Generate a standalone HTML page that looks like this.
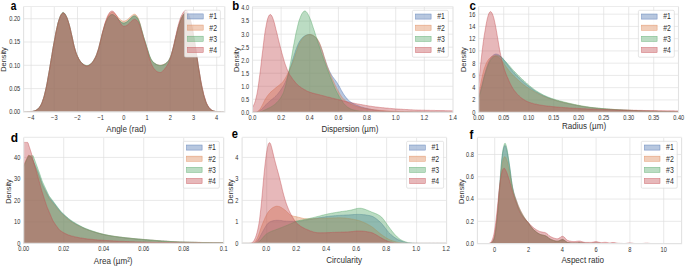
<!DOCTYPE html>
<html lang="en"><head><meta charset="utf-8"><title>Density plots</title>
<style>
html,body{margin:0;padding:0;background:#fff;}
body{width:685px;height:266px;overflow:hidden;}
svg{display:block;}
text{font-family:"Liberation Sans","DejaVu Sans",sans-serif;fill:#303030;}
.tk{font-size:6.3px;}
.lb{font-size:7.9px;}
.yl{font-size:6.6px;}
.lg{font-size:7.7px;}
.pl{font-size:11.5px;font-weight:bold;fill:#000;}
</style></head><body>
<svg width="685" height="266" viewBox="0 0 685 266">
<rect width="685" height="266" fill="#fff"/>
<clipPath id="c0"><rect x="23.60" y="6.50" width="201.20" height="105.40"/></clipPath>
<path d="M31.10 6.50V111.90M54.30 6.50V111.90M77.50 6.50V111.90M100.70 6.50V111.90M123.90 6.50V111.90M147.10 6.50V111.90M170.30 6.50V111.90M193.50 6.50V111.90M216.70 6.50V111.90M23.60 88.60H224.80M23.60 65.30H224.80M23.60 42.00H224.80M23.60 18.70H224.80" stroke="#dfdfdf" stroke-width="0.7" fill="none"/>
<g clip-path="url(#c0)">
<path d="M24.1 111.9L24.1 111.9L24.9 111.9L25.7 111.9L26.5 111.9L27.2 111.8L28.0 111.8L28.8 111.8L29.5 111.7L30.3 111.7L31.1 111.6L31.8 111.5L32.6 111.4L33.4 111.2L34.2 111.0L34.9 110.8L35.7 110.4L36.5 110.0L37.2 109.5L38.0 108.9L38.8 108.1L39.5 107.2L40.3 106.1L41.1 104.7L41.9 103.0L42.6 101.0L43.4 98.7L44.2 96.1L44.9 93.2L45.7 89.9L46.5 86.2L47.3 82.2L48.0 78.0L48.8 73.6L49.6 69.1L50.3 64.5L51.1 59.9L51.9 55.3L52.6 50.7L53.4 46.2L54.2 41.9L55.0 37.7L55.7 33.6L56.5 29.8L57.3 26.3L58.0 23.2L58.8 20.5L59.6 18.3L60.3 16.4L61.1 14.8L61.9 13.7L62.7 13.0L63.4 12.9L64.2 13.3L65.0 14.2L65.7 15.4L66.5 16.9L67.3 18.7L68.0 20.9L68.8 23.4L69.6 26.3L70.4 29.4L71.1 32.7L71.9 36.1L72.7 39.7L73.4 43.2L74.2 46.6L75.0 49.5L75.8 52.1L76.5 54.2L77.3 56.0L78.1 57.6L78.8 59.1L79.6 60.4L80.4 61.5L81.1 62.5L81.9 63.3L82.7 64.0L83.5 64.6L84.2 65.1L85.0 65.5L85.8 65.8L86.5 65.9L87.3 65.9L88.1 65.8L88.8 65.4L89.6 65.0L90.4 64.4L91.2 63.8L91.9 63.0L92.7 62.0L93.5 60.9L94.2 59.6L95.0 58.2L95.8 56.6L96.6 54.7L97.3 52.7L98.1 50.3L98.9 47.6L99.6 44.7L100.4 41.6L101.2 38.5L101.9 35.4L102.7 32.4L103.5 29.5L104.3 26.9L105.0 24.6L105.8 22.5L106.6 20.7L107.3 19.1L108.1 17.7L108.9 16.6L109.6 15.8L110.4 15.1L111.2 14.8L112.0 14.6L112.7 14.6L113.5 14.9L114.3 15.4L115.0 16.0L115.8 16.7L116.6 17.5L117.4 18.3L118.1 19.2L118.9 20.1L119.7 20.9L120.4 21.6L121.2 22.3L122.0 22.8L122.7 23.2L123.5 23.3L124.3 23.3L125.1 23.0L125.8 22.6L126.6 22.2L127.4 21.6L128.1 21.0L128.9 20.3L129.7 19.5L130.4 18.7L131.2 17.9L132.0 17.2L132.8 16.6L133.5 16.1L134.3 15.9L135.1 16.0L135.8 16.4L136.6 17.1L137.4 18.1L138.2 19.4L138.9 21.1L139.7 23.3L140.5 25.8L141.2 28.6L142.0 31.5L142.8 34.3L143.5 36.9L144.3 39.5L145.1 42.0L145.9 44.5L146.6 47.0L147.4 49.5L148.2 52.0L148.9 54.4L149.7 56.6L150.5 58.4L151.2 59.8L152.0 61.0L152.8 61.9L153.6 62.7L154.3 63.3L155.1 63.8L155.9 64.2L156.6 64.6L157.4 64.9L158.2 65.1L159.0 65.3L159.7 65.4L160.5 65.4L161.3 65.3L162.0 65.2L162.8 65.0L163.6 64.7L164.3 64.3L165.1 63.9L165.9 63.4L166.7 62.8L167.4 62.0L168.2 61.1L169.0 60.0L169.7 58.7L170.5 56.9L171.3 54.8L172.0 52.3L172.8 49.5L173.6 46.5L174.4 43.4L175.1 40.1L175.9 36.9L176.7 33.7L177.4 30.7L178.2 27.7L179.0 25.0L179.8 22.6L180.5 20.5L181.3 18.7L182.1 17.1L182.8 15.7L183.6 14.5L184.4 13.6L185.1 13.0L185.9 12.8L186.7 13.0L187.5 13.8L188.2 15.0L189.0 16.6L189.8 18.6L190.5 21.0L191.3 24.1L192.1 27.7L192.8 31.7L193.6 36.0L194.4 40.6L195.2 45.5L195.9 50.6L196.7 55.7L197.5 60.8L198.2 65.8L199.0 70.7L199.8 75.5L200.5 80.0L201.3 84.3L202.1 88.3L202.9 91.7L203.6 94.9L204.4 97.6L205.2 100.1L205.9 102.3L206.7 104.1L207.5 105.6L208.3 106.8L209.0 107.9L209.8 108.7L210.6 109.4L211.3 110.0L212.1 110.4L212.9 110.8L213.6 111.0L214.4 111.2L215.2 111.4L216.0 111.5L216.7 111.6L217.5 111.7L218.3 111.7L219.0 111.8L219.8 111.8L220.6 111.8L221.3 111.9L222.1 111.9L222.9 111.9L223.7 111.9L223.7 111.9Z" fill="#4C72B0" fill-opacity="0.40" stroke="none"/>
<path d="M24.1 111.9L24.9 111.9L25.7 111.9L26.5 111.9L27.2 111.8L28.0 111.8L28.8 111.8L29.5 111.7L30.3 111.7L31.1 111.6L31.8 111.5L32.6 111.4L33.4 111.2L34.2 111.0L34.9 110.8L35.7 110.4L36.5 110.0L37.2 109.5L38.0 108.9L38.8 108.1L39.5 107.2L40.3 106.1L41.1 104.7L41.9 103.0L42.6 101.0L43.4 98.7L44.2 96.1L44.9 93.2L45.7 89.9L46.5 86.2L47.3 82.2L48.0 78.0L48.8 73.6L49.6 69.1L50.3 64.5L51.1 59.9L51.9 55.3L52.6 50.7L53.4 46.2L54.2 41.9L55.0 37.7L55.7 33.6L56.5 29.8L57.3 26.3L58.0 23.2L58.8 20.5L59.6 18.3L60.3 16.4L61.1 14.8L61.9 13.7L62.7 13.0L63.4 12.9L64.2 13.3L65.0 14.2L65.7 15.4L66.5 16.9L67.3 18.7L68.0 20.9L68.8 23.4L69.6 26.3L70.4 29.4L71.1 32.7L71.9 36.1L72.7 39.7L73.4 43.2L74.2 46.6L75.0 49.5L75.8 52.1L76.5 54.2L77.3 56.0L78.1 57.6L78.8 59.1L79.6 60.4L80.4 61.5L81.1 62.5L81.9 63.3L82.7 64.0L83.5 64.6L84.2 65.1L85.0 65.5L85.8 65.8L86.5 65.9L87.3 65.9L88.1 65.8L88.8 65.4L89.6 65.0L90.4 64.4L91.2 63.8L91.9 63.0L92.7 62.0L93.5 60.9L94.2 59.6L95.0 58.2L95.8 56.6L96.6 54.7L97.3 52.7L98.1 50.3L98.9 47.6L99.6 44.7L100.4 41.6L101.2 38.5L101.9 35.4L102.7 32.4L103.5 29.5L104.3 26.9L105.0 24.6L105.8 22.5L106.6 20.7L107.3 19.1L108.1 17.7L108.9 16.6L109.6 15.8L110.4 15.1L111.2 14.8L112.0 14.6L112.7 14.6L113.5 14.9L114.3 15.4L115.0 16.0L115.8 16.7L116.6 17.5L117.4 18.3L118.1 19.2L118.9 20.1L119.7 20.9L120.4 21.6L121.2 22.3L122.0 22.8L122.7 23.2L123.5 23.3L124.3 23.3L125.1 23.0L125.8 22.6L126.6 22.2L127.4 21.6L128.1 21.0L128.9 20.3L129.7 19.5L130.4 18.7L131.2 17.9L132.0 17.2L132.8 16.6L133.5 16.1L134.3 15.9L135.1 16.0L135.8 16.4L136.6 17.1L137.4 18.1L138.2 19.4L138.9 21.1L139.7 23.3L140.5 25.8L141.2 28.6L142.0 31.5L142.8 34.3L143.5 36.9L144.3 39.5L145.1 42.0L145.9 44.5L146.6 47.0L147.4 49.5L148.2 52.0L148.9 54.4L149.7 56.6L150.5 58.4L151.2 59.8L152.0 61.0L152.8 61.9L153.6 62.7L154.3 63.3L155.1 63.8L155.9 64.2L156.6 64.6L157.4 64.9L158.2 65.1L159.0 65.3L159.7 65.4L160.5 65.4L161.3 65.3L162.0 65.2L162.8 65.0L163.6 64.7L164.3 64.3L165.1 63.9L165.9 63.4L166.7 62.8L167.4 62.0L168.2 61.1L169.0 60.0L169.7 58.7L170.5 56.9L171.3 54.8L172.0 52.3L172.8 49.5L173.6 46.5L174.4 43.4L175.1 40.1L175.9 36.9L176.7 33.7L177.4 30.7L178.2 27.7L179.0 25.0L179.8 22.6L180.5 20.5L181.3 18.7L182.1 17.1L182.8 15.7L183.6 14.5L184.4 13.6L185.1 13.0L185.9 12.8L186.7 13.0L187.5 13.8L188.2 15.0L189.0 16.6L189.8 18.6L190.5 21.0L191.3 24.1L192.1 27.7L192.8 31.7L193.6 36.0L194.4 40.6L195.2 45.5L195.9 50.6L196.7 55.7L197.5 60.8L198.2 65.8L199.0 70.7L199.8 75.5L200.5 80.0L201.3 84.3L202.1 88.3L202.9 91.7L203.6 94.9L204.4 97.6L205.2 100.1L205.9 102.3L206.7 104.1L207.5 105.6L208.3 106.8L209.0 107.9L209.8 108.7L210.6 109.4L211.3 110.0L212.1 110.4L212.9 110.8L213.6 111.0L214.4 111.2L215.2 111.4L216.0 111.5L216.7 111.6L217.5 111.7L218.3 111.7L219.0 111.8L219.8 111.8L220.6 111.8L221.3 111.9L222.1 111.9L222.9 111.9L223.7 111.9" fill="none" stroke="#4C72B0" stroke-width="0.5" stroke-opacity="0.85" stroke-linejoin="round"/>
<path d="M24.1 111.9L24.1 111.9L24.9 111.9L25.7 111.9L26.5 111.9L27.2 111.8L28.0 111.8L28.8 111.8L29.5 111.7L30.3 111.7L31.1 111.6L31.8 111.5L32.6 111.4L33.4 111.2L34.2 111.0L34.9 110.8L35.7 110.4L36.5 110.0L37.2 109.5L38.0 108.9L38.8 108.1L39.5 107.2L40.3 106.1L41.1 104.7L41.9 103.0L42.6 101.0L43.4 98.7L44.2 96.1L44.9 93.2L45.7 89.9L46.5 86.2L47.3 82.2L48.0 78.0L48.8 73.6L49.6 69.1L50.3 64.5L51.1 59.9L51.9 55.3L52.6 50.7L53.4 46.2L54.2 41.9L55.0 37.7L55.7 33.6L56.5 29.8L57.3 26.3L58.0 23.2L58.8 20.5L59.6 18.3L60.3 16.4L61.1 14.8L61.9 13.7L62.7 13.0L63.4 12.9L64.2 13.3L65.0 14.2L65.7 15.4L66.5 16.9L67.3 18.7L68.0 20.9L68.8 23.4L69.6 26.3L70.4 29.4L71.1 32.7L71.9 36.1L72.7 39.7L73.4 43.2L74.2 46.6L75.0 49.5L75.8 52.1L76.5 54.2L77.3 56.0L78.1 57.6L78.8 59.1L79.6 60.4L80.4 61.5L81.1 62.5L81.9 63.3L82.7 64.0L83.5 64.6L84.2 65.1L85.0 65.5L85.8 65.8L86.5 65.9L87.3 65.9L88.1 65.8L88.8 65.4L89.6 65.0L90.4 64.4L91.2 63.8L91.9 63.0L92.7 62.0L93.5 60.9L94.2 59.6L95.0 58.2L95.8 56.6L96.6 54.7L97.3 52.6L98.1 50.2L98.9 47.6L99.6 44.6L100.4 41.5L101.2 38.3L101.9 35.1L102.7 32.0L103.5 29.0L104.3 26.3L105.0 23.8L105.8 21.5L106.6 19.5L107.3 17.7L108.1 16.1L108.9 14.8L109.6 13.8L110.4 13.0L111.2 12.5L112.0 12.3L112.7 12.3L113.5 12.7L114.3 13.2L115.0 13.9L115.8 14.6L116.6 15.5L117.4 16.4L118.1 17.3L118.9 18.2L119.7 19.0L120.4 19.7L121.2 20.3L122.0 20.7L122.7 21.1L123.5 21.2L124.3 21.1L125.1 20.9L125.8 20.6L126.6 20.2L127.4 19.7L128.1 19.1L128.9 18.4L129.7 17.7L130.4 16.9L131.2 16.1L132.0 15.4L132.8 14.9L133.5 14.4L134.3 14.2L135.1 14.3L135.8 14.8L136.6 15.6L137.4 16.7L138.2 18.2L138.9 20.0L139.7 22.3L140.5 25.0L141.2 28.0L142.0 31.0L142.8 33.9L143.5 36.6L144.3 39.3L145.1 41.8L145.9 44.4L146.6 46.9L147.4 49.4L148.2 51.9L148.9 54.3L149.7 56.5L150.5 58.3L151.2 59.8L152.0 60.9L152.8 61.8L153.6 62.6L154.3 63.2L155.1 63.7L155.9 64.1L156.6 64.4L157.4 64.7L158.2 64.9L159.0 65.1L159.7 65.2L160.5 65.2L161.3 65.1L162.0 65.0L162.8 64.7L163.6 64.5L164.3 64.1L165.1 63.7L165.9 63.2L166.7 62.6L167.4 61.9L168.2 61.0L169.0 59.9L169.7 58.6L170.5 56.9L171.3 54.8L172.0 52.3L172.8 49.5L173.6 46.5L174.4 43.3L175.1 40.1L175.9 36.9L176.7 33.7L177.4 30.7L178.2 27.7L179.0 25.0L179.8 22.6L180.5 20.5L181.3 18.7L182.1 17.1L182.8 15.7L183.6 14.5L184.4 13.6L185.1 13.0L185.9 12.8L186.7 13.0L187.5 13.8L188.2 15.0L189.0 16.6L189.8 18.6L190.5 21.0L191.3 24.1L192.1 27.7L192.8 31.7L193.6 36.0L194.4 40.6L195.2 45.5L195.9 50.6L196.7 55.7L197.5 60.8L198.2 65.8L199.0 70.7L199.8 75.5L200.5 80.0L201.3 84.3L202.1 88.3L202.9 91.7L203.6 94.9L204.4 97.6L205.2 100.1L205.9 102.3L206.7 104.1L207.5 105.6L208.3 106.8L209.0 107.9L209.8 108.7L210.6 109.4L211.3 110.0L212.1 110.4L212.9 110.8L213.6 111.0L214.4 111.2L215.2 111.4L216.0 111.5L216.7 111.6L217.5 111.7L218.3 111.7L219.0 111.8L219.8 111.8L220.6 111.8L221.3 111.9L222.1 111.9L222.9 111.9L223.7 111.9L223.7 111.9Z" fill="#DD8452" fill-opacity="0.40" stroke="none"/>
<path d="M24.1 111.9L24.9 111.9L25.7 111.9L26.5 111.9L27.2 111.8L28.0 111.8L28.8 111.8L29.5 111.7L30.3 111.7L31.1 111.6L31.8 111.5L32.6 111.4L33.4 111.2L34.2 111.0L34.9 110.8L35.7 110.4L36.5 110.0L37.2 109.5L38.0 108.9L38.8 108.1L39.5 107.2L40.3 106.1L41.1 104.7L41.9 103.0L42.6 101.0L43.4 98.7L44.2 96.1L44.9 93.2L45.7 89.9L46.5 86.2L47.3 82.2L48.0 78.0L48.8 73.6L49.6 69.1L50.3 64.5L51.1 59.9L51.9 55.3L52.6 50.7L53.4 46.2L54.2 41.9L55.0 37.7L55.7 33.6L56.5 29.8L57.3 26.3L58.0 23.2L58.8 20.5L59.6 18.3L60.3 16.4L61.1 14.8L61.9 13.7L62.7 13.0L63.4 12.9L64.2 13.3L65.0 14.2L65.7 15.4L66.5 16.9L67.3 18.7L68.0 20.9L68.8 23.4L69.6 26.3L70.4 29.4L71.1 32.7L71.9 36.1L72.7 39.7L73.4 43.2L74.2 46.6L75.0 49.5L75.8 52.1L76.5 54.2L77.3 56.0L78.1 57.6L78.8 59.1L79.6 60.4L80.4 61.5L81.1 62.5L81.9 63.3L82.7 64.0L83.5 64.6L84.2 65.1L85.0 65.5L85.8 65.8L86.5 65.9L87.3 65.9L88.1 65.8L88.8 65.4L89.6 65.0L90.4 64.4L91.2 63.8L91.9 63.0L92.7 62.0L93.5 60.9L94.2 59.6L95.0 58.2L95.8 56.6L96.6 54.7L97.3 52.6L98.1 50.2L98.9 47.6L99.6 44.6L100.4 41.5L101.2 38.3L101.9 35.1L102.7 32.0L103.5 29.0L104.3 26.3L105.0 23.8L105.8 21.5L106.6 19.5L107.3 17.7L108.1 16.1L108.9 14.8L109.6 13.8L110.4 13.0L111.2 12.5L112.0 12.3L112.7 12.3L113.5 12.7L114.3 13.2L115.0 13.9L115.8 14.6L116.6 15.5L117.4 16.4L118.1 17.3L118.9 18.2L119.7 19.0L120.4 19.7L121.2 20.3L122.0 20.7L122.7 21.1L123.5 21.2L124.3 21.1L125.1 20.9L125.8 20.6L126.6 20.2L127.4 19.7L128.1 19.1L128.9 18.4L129.7 17.7L130.4 16.9L131.2 16.1L132.0 15.4L132.8 14.9L133.5 14.4L134.3 14.2L135.1 14.3L135.8 14.8L136.6 15.6L137.4 16.7L138.2 18.2L138.9 20.0L139.7 22.3L140.5 25.0L141.2 28.0L142.0 31.0L142.8 33.9L143.5 36.6L144.3 39.3L145.1 41.8L145.9 44.4L146.6 46.9L147.4 49.4L148.2 51.9L148.9 54.3L149.7 56.5L150.5 58.3L151.2 59.8L152.0 60.9L152.8 61.8L153.6 62.6L154.3 63.2L155.1 63.7L155.9 64.1L156.6 64.4L157.4 64.7L158.2 64.9L159.0 65.1L159.7 65.2L160.5 65.2L161.3 65.1L162.0 65.0L162.8 64.7L163.6 64.5L164.3 64.1L165.1 63.7L165.9 63.2L166.7 62.6L167.4 61.9L168.2 61.0L169.0 59.9L169.7 58.6L170.5 56.9L171.3 54.8L172.0 52.3L172.8 49.5L173.6 46.5L174.4 43.3L175.1 40.1L175.9 36.9L176.7 33.7L177.4 30.7L178.2 27.7L179.0 25.0L179.8 22.6L180.5 20.5L181.3 18.7L182.1 17.1L182.8 15.7L183.6 14.5L184.4 13.6L185.1 13.0L185.9 12.8L186.7 13.0L187.5 13.8L188.2 15.0L189.0 16.6L189.8 18.6L190.5 21.0L191.3 24.1L192.1 27.7L192.8 31.7L193.6 36.0L194.4 40.6L195.2 45.5L195.9 50.6L196.7 55.7L197.5 60.8L198.2 65.8L199.0 70.7L199.8 75.5L200.5 80.0L201.3 84.3L202.1 88.3L202.9 91.7L203.6 94.9L204.4 97.6L205.2 100.1L205.9 102.3L206.7 104.1L207.5 105.6L208.3 106.8L209.0 107.9L209.8 108.7L210.6 109.4L211.3 110.0L212.1 110.4L212.9 110.8L213.6 111.0L214.4 111.2L215.2 111.4L216.0 111.5L216.7 111.6L217.5 111.7L218.3 111.7L219.0 111.8L219.8 111.8L220.6 111.8L221.3 111.9L222.1 111.9L222.9 111.9L223.7 111.9" fill="none" stroke="#DD8452" stroke-width="0.5" stroke-opacity="0.85" stroke-linejoin="round"/>
<path d="M24.1 111.9L24.1 111.9L24.9 111.9L25.7 111.9L26.5 111.9L27.2 111.8L28.0 111.8L28.8 111.8L29.5 111.7L30.3 111.7L31.1 111.6L31.8 111.5L32.6 111.4L33.4 111.2L34.2 111.0L34.9 110.8L35.7 110.4L36.5 110.0L37.2 109.5L38.0 108.9L38.8 108.1L39.5 107.2L40.3 106.1L41.1 104.7L41.9 103.0L42.6 101.0L43.4 98.7L44.2 96.1L44.9 93.2L45.7 89.9L46.5 86.2L47.3 82.2L48.0 78.0L48.8 73.6L49.6 69.1L50.3 64.5L51.1 59.9L51.9 55.3L52.6 50.7L53.4 46.2L54.2 41.8L55.0 37.6L55.7 33.6L56.5 29.7L57.3 26.1L58.0 23.0L58.8 20.3L59.6 18.0L60.3 16.1L61.1 14.5L61.9 13.3L62.7 12.6L63.4 12.4L64.2 12.9L65.0 13.8L65.7 15.1L66.5 16.6L67.3 18.5L68.0 20.7L68.8 23.3L69.6 26.2L70.4 29.3L71.1 32.7L71.9 36.1L72.7 39.7L73.4 43.2L74.2 46.6L75.0 49.5L75.8 52.0L76.5 54.1L77.3 55.9L78.1 57.5L78.8 58.9L79.6 60.2L80.4 61.3L81.1 62.2L81.9 63.0L82.7 63.7L83.5 64.2L84.2 64.7L85.0 65.1L85.8 65.3L86.5 65.5L87.3 65.5L88.1 65.3L88.8 65.0L89.6 64.6L90.4 64.1L91.2 63.5L91.9 62.7L92.7 61.8L93.5 60.7L94.2 59.5L95.0 58.1L95.8 56.5L96.6 54.7L97.3 52.6L98.1 50.3L98.9 47.6L99.6 44.7L100.4 41.6L101.2 38.4L101.9 35.3L102.7 32.4L103.5 29.5L104.3 26.9L105.0 24.6L105.8 22.5L106.6 20.7L107.3 19.1L108.1 17.7L108.9 16.6L109.6 15.8L110.4 15.1L111.2 14.7L112.0 14.6L112.7 14.6L113.5 14.9L114.3 15.4L115.0 16.0L115.8 16.6L116.6 17.4L117.4 18.2L118.1 19.1L118.9 19.9L119.7 20.7L120.4 21.4L121.2 22.0L122.0 22.5L122.7 22.8L123.5 23.0L124.3 22.9L125.1 22.7L125.8 22.3L126.6 21.9L127.4 21.4L128.1 20.8L128.9 20.1L129.7 19.3L130.4 18.5L131.2 17.8L132.0 17.1L132.8 16.5L133.5 16.1L134.3 15.9L135.1 15.9L135.8 16.3L136.6 17.0L137.4 18.0L138.2 19.3L138.9 21.0L139.7 23.1L140.5 25.7L141.2 28.4L142.0 31.2L142.8 34.0L143.5 36.6L144.3 39.1L145.1 41.5L145.9 44.0L146.6 46.4L147.4 48.8L148.2 51.3L148.9 53.7L149.7 55.9L150.5 57.8L151.2 59.3L152.0 60.5L152.8 61.5L153.6 62.3L154.3 63.0L155.1 63.6L155.9 64.1L156.6 64.5L157.4 64.9L158.2 65.2L159.0 65.4L159.7 65.6L160.5 65.6L161.3 65.5L162.0 65.4L162.8 65.1L163.6 64.8L164.3 64.5L165.1 64.1L165.9 63.6L166.7 63.0L167.4 62.2L168.2 61.3L169.0 60.1L169.7 58.7L170.5 57.0L171.3 54.9L172.0 52.4L172.8 49.6L173.6 46.6L174.4 43.4L175.1 40.1L175.9 36.9L176.7 33.7L177.4 30.7L178.2 27.8L179.0 25.0L179.8 22.6L180.5 20.5L181.3 18.7L182.1 17.1L182.8 15.7L183.6 14.5L184.4 13.6L185.1 13.0L185.9 12.8L186.7 13.0L187.5 13.8L188.2 15.0L189.0 16.6L189.8 18.6L190.5 21.0L191.3 24.1L192.1 27.7L192.8 31.7L193.6 36.0L194.4 40.6L195.2 45.5L195.9 50.6L196.7 55.7L197.5 60.8L198.2 65.8L199.0 70.7L199.8 75.5L200.5 80.0L201.3 84.3L202.1 88.3L202.9 91.7L203.6 94.9L204.4 97.6L205.2 100.1L205.9 102.3L206.7 104.1L207.5 105.6L208.3 106.8L209.0 107.9L209.8 108.7L210.6 109.4L211.3 110.0L212.1 110.4L212.9 110.8L213.6 111.0L214.4 111.2L215.2 111.4L216.0 111.5L216.7 111.6L217.5 111.7L218.3 111.7L219.0 111.8L219.8 111.8L220.6 111.8L221.3 111.9L222.1 111.9L222.9 111.9L223.7 111.9L223.7 111.9Z" fill="#55A868" fill-opacity="0.40" stroke="none"/>
<path d="M24.1 111.9L24.9 111.9L25.7 111.9L26.5 111.9L27.2 111.8L28.0 111.8L28.8 111.8L29.5 111.7L30.3 111.7L31.1 111.6L31.8 111.5L32.6 111.4L33.4 111.2L34.2 111.0L34.9 110.8L35.7 110.4L36.5 110.0L37.2 109.5L38.0 108.9L38.8 108.1L39.5 107.2L40.3 106.1L41.1 104.7L41.9 103.0L42.6 101.0L43.4 98.7L44.2 96.1L44.9 93.2L45.7 89.9L46.5 86.2L47.3 82.2L48.0 78.0L48.8 73.6L49.6 69.1L50.3 64.5L51.1 59.9L51.9 55.3L52.6 50.7L53.4 46.2L54.2 41.8L55.0 37.6L55.7 33.6L56.5 29.7L57.3 26.1L58.0 23.0L58.8 20.3L59.6 18.0L60.3 16.1L61.1 14.5L61.9 13.3L62.7 12.6L63.4 12.4L64.2 12.9L65.0 13.8L65.7 15.1L66.5 16.6L67.3 18.5L68.0 20.7L68.8 23.3L69.6 26.2L70.4 29.3L71.1 32.7L71.9 36.1L72.7 39.7L73.4 43.2L74.2 46.6L75.0 49.5L75.8 52.0L76.5 54.1L77.3 55.9L78.1 57.5L78.8 58.9L79.6 60.2L80.4 61.3L81.1 62.2L81.9 63.0L82.7 63.7L83.5 64.2L84.2 64.7L85.0 65.1L85.8 65.3L86.5 65.5L87.3 65.5L88.1 65.3L88.8 65.0L89.6 64.6L90.4 64.1L91.2 63.5L91.9 62.7L92.7 61.8L93.5 60.7L94.2 59.5L95.0 58.1L95.8 56.5L96.6 54.7L97.3 52.6L98.1 50.3L98.9 47.6L99.6 44.7L100.4 41.6L101.2 38.4L101.9 35.3L102.7 32.4L103.5 29.5L104.3 26.9L105.0 24.6L105.8 22.5L106.6 20.7L107.3 19.1L108.1 17.7L108.9 16.6L109.6 15.8L110.4 15.1L111.2 14.7L112.0 14.6L112.7 14.6L113.5 14.9L114.3 15.4L115.0 16.0L115.8 16.6L116.6 17.4L117.4 18.2L118.1 19.1L118.9 19.9L119.7 20.7L120.4 21.4L121.2 22.0L122.0 22.5L122.7 22.8L123.5 23.0L124.3 22.9L125.1 22.7L125.8 22.3L126.6 21.9L127.4 21.4L128.1 20.8L128.9 20.1L129.7 19.3L130.4 18.5L131.2 17.8L132.0 17.1L132.8 16.5L133.5 16.1L134.3 15.9L135.1 15.9L135.8 16.3L136.6 17.0L137.4 18.0L138.2 19.3L138.9 21.0L139.7 23.1L140.5 25.7L141.2 28.4L142.0 31.2L142.8 34.0L143.5 36.6L144.3 39.1L145.1 41.5L145.9 44.0L146.6 46.4L147.4 48.8L148.2 51.3L148.9 53.7L149.7 55.9L150.5 57.8L151.2 59.3L152.0 60.5L152.8 61.5L153.6 62.3L154.3 63.0L155.1 63.6L155.9 64.1L156.6 64.5L157.4 64.9L158.2 65.2L159.0 65.4L159.7 65.6L160.5 65.6L161.3 65.5L162.0 65.4L162.8 65.1L163.6 64.8L164.3 64.5L165.1 64.1L165.9 63.6L166.7 63.0L167.4 62.2L168.2 61.3L169.0 60.1L169.7 58.7L170.5 57.0L171.3 54.9L172.0 52.4L172.8 49.6L173.6 46.6L174.4 43.4L175.1 40.1L175.9 36.9L176.7 33.7L177.4 30.7L178.2 27.8L179.0 25.0L179.8 22.6L180.5 20.5L181.3 18.7L182.1 17.1L182.8 15.7L183.6 14.5L184.4 13.6L185.1 13.0L185.9 12.8L186.7 13.0L187.5 13.8L188.2 15.0L189.0 16.6L189.8 18.6L190.5 21.0L191.3 24.1L192.1 27.7L192.8 31.7L193.6 36.0L194.4 40.6L195.2 45.5L195.9 50.6L196.7 55.7L197.5 60.8L198.2 65.8L199.0 70.7L199.8 75.5L200.5 80.0L201.3 84.3L202.1 88.3L202.9 91.7L203.6 94.9L204.4 97.6L205.2 100.1L205.9 102.3L206.7 104.1L207.5 105.6L208.3 106.8L209.0 107.9L209.8 108.7L210.6 109.4L211.3 110.0L212.1 110.4L212.9 110.8L213.6 111.0L214.4 111.2L215.2 111.4L216.0 111.5L216.7 111.6L217.5 111.7L218.3 111.7L219.0 111.8L219.8 111.8L220.6 111.8L221.3 111.9L222.1 111.9L222.9 111.9L223.7 111.9" fill="none" stroke="#55A868" stroke-width="0.5" stroke-opacity="0.85" stroke-linejoin="round"/>
<path d="M24.1 111.9L24.1 111.9L24.9 111.9L25.7 111.9L26.5 111.9L27.2 111.8L28.0 111.8L28.8 111.8L29.5 111.7L30.3 111.7L31.1 111.6L31.8 111.5L32.6 111.4L33.4 111.2L34.2 111.0L34.9 110.8L35.7 110.4L36.5 110.0L37.2 109.5L38.0 108.9L38.8 108.1L39.5 107.2L40.3 106.1L41.1 104.7L41.9 103.0L42.6 101.0L43.4 98.7L44.2 96.1L44.9 93.2L45.7 89.9L46.5 86.2L47.3 82.2L48.0 78.0L48.8 73.6L49.6 69.1L50.3 64.5L51.1 59.9L51.9 55.3L52.6 50.7L53.4 46.2L54.2 41.9L55.0 37.7L55.7 33.6L56.5 29.8L57.3 26.3L58.0 23.2L58.8 20.5L59.6 18.3L60.3 16.4L61.1 14.8L61.9 13.7L62.7 13.0L63.4 12.9L64.2 13.3L65.0 14.2L65.7 15.4L66.5 16.9L67.3 18.7L68.0 20.9L68.8 23.4L69.6 26.3L70.4 29.4L71.1 32.7L71.9 36.1L72.7 39.7L73.4 43.2L74.2 46.6L75.0 49.5L75.8 52.1L76.5 54.2L77.3 56.0L78.1 57.6L78.8 59.1L79.6 60.4L80.4 61.5L81.1 62.5L81.9 63.3L82.7 64.0L83.5 64.6L84.2 65.1L85.0 65.5L85.8 65.8L86.5 65.9L87.3 65.9L88.1 65.8L88.8 65.4L89.6 65.0L90.4 64.4L91.2 63.8L91.9 63.0L92.7 62.0L93.5 60.9L94.2 59.6L95.0 58.2L95.8 56.6L96.6 54.7L97.3 52.6L98.1 50.2L98.9 47.5L99.6 44.5L100.4 41.3L101.2 38.1L101.9 34.8L102.7 31.6L103.5 28.6L104.3 25.7L105.0 23.1L105.8 20.7L106.6 18.6L107.3 16.6L108.1 14.9L108.9 13.5L109.6 12.4L110.4 11.7L111.2 11.2L112.0 11.0L112.7 11.2L113.5 11.6L114.3 12.4L115.0 13.4L115.8 14.5L116.6 15.8L117.4 17.2L118.1 18.7L118.9 20.2L119.7 21.7L120.4 23.0L121.2 24.2L122.0 25.2L122.7 25.9L123.5 26.3L124.3 26.3L125.1 26.2L125.8 25.9L126.6 25.5L127.4 25.0L128.1 24.4L128.9 23.7L129.7 23.0L130.4 22.2L131.2 21.4L132.0 20.7L132.8 20.1L133.5 19.7L134.3 19.4L135.1 19.4L135.8 19.7L136.6 20.2L137.4 21.0L138.2 22.0L138.9 23.4L139.7 25.3L140.5 27.6L141.2 30.1L142.0 32.8L142.8 35.4L143.5 38.0L144.3 40.6L145.1 43.1L145.9 45.7L146.6 48.3L147.4 51.0L148.2 53.8L148.9 56.6L149.7 59.2L150.5 61.5L151.2 63.5L152.0 65.3L152.8 66.8L153.6 68.1L154.3 69.1L155.1 70.0L155.9 70.7L156.6 71.3L157.4 71.8L158.2 72.1L159.0 72.4L159.7 72.5L160.5 72.5L161.3 72.2L162.0 71.7L162.8 71.0L163.6 70.2L164.3 69.3L165.1 68.3L165.9 67.3L166.7 66.2L167.4 64.9L168.2 63.5L169.0 61.9L169.7 60.0L170.5 57.8L171.3 55.2L172.0 52.3L172.8 49.2L173.6 45.8L174.4 42.3L175.1 38.8L175.9 35.3L176.7 31.8L177.4 28.5L178.2 25.4L179.0 22.5L179.8 20.0L180.5 17.8L181.3 16.0L182.1 14.5L182.8 13.1L183.6 12.0L184.4 11.1L185.1 10.6L185.9 10.4L186.7 10.8L187.5 11.7L188.2 13.1L189.0 15.0L189.8 17.2L190.5 19.9L191.3 23.2L192.1 26.9L192.8 31.0L193.6 35.5L194.4 40.1L195.2 45.0L195.9 50.0L196.7 55.1L197.5 60.1L198.2 65.0L199.0 69.8L199.8 74.4L200.5 78.9L201.3 83.1L202.1 86.9L202.9 90.4L203.6 93.6L204.4 96.4L205.2 99.0L205.9 101.3L206.7 103.3L207.5 104.9L208.3 106.2L209.0 107.4L209.8 108.3L210.6 109.1L211.3 109.8L212.1 110.3L212.9 110.7L213.6 111.0L214.4 111.2L215.2 111.4L216.0 111.5L216.7 111.6L217.5 111.7L218.3 111.7L219.0 111.8L219.8 111.8L220.6 111.8L221.3 111.9L222.1 111.9L222.9 111.9L223.7 111.9L223.7 111.9Z" fill="#C44E52" fill-opacity="0.40" stroke="none"/>
<path d="M24.1 111.9L24.9 111.9L25.7 111.9L26.5 111.9L27.2 111.8L28.0 111.8L28.8 111.8L29.5 111.7L30.3 111.7L31.1 111.6L31.8 111.5L32.6 111.4L33.4 111.2L34.2 111.0L34.9 110.8L35.7 110.4L36.5 110.0L37.2 109.5L38.0 108.9L38.8 108.1L39.5 107.2L40.3 106.1L41.1 104.7L41.9 103.0L42.6 101.0L43.4 98.7L44.2 96.1L44.9 93.2L45.7 89.9L46.5 86.2L47.3 82.2L48.0 78.0L48.8 73.6L49.6 69.1L50.3 64.5L51.1 59.9L51.9 55.3L52.6 50.7L53.4 46.2L54.2 41.9L55.0 37.7L55.7 33.6L56.5 29.8L57.3 26.3L58.0 23.2L58.8 20.5L59.6 18.3L60.3 16.4L61.1 14.8L61.9 13.7L62.7 13.0L63.4 12.9L64.2 13.3L65.0 14.2L65.7 15.4L66.5 16.9L67.3 18.7L68.0 20.9L68.8 23.4L69.6 26.3L70.4 29.4L71.1 32.7L71.9 36.1L72.7 39.7L73.4 43.2L74.2 46.6L75.0 49.5L75.8 52.1L76.5 54.2L77.3 56.0L78.1 57.6L78.8 59.1L79.6 60.4L80.4 61.5L81.1 62.5L81.9 63.3L82.7 64.0L83.5 64.6L84.2 65.1L85.0 65.5L85.8 65.8L86.5 65.9L87.3 65.9L88.1 65.8L88.8 65.4L89.6 65.0L90.4 64.4L91.2 63.8L91.9 63.0L92.7 62.0L93.5 60.9L94.2 59.6L95.0 58.2L95.8 56.6L96.6 54.7L97.3 52.6L98.1 50.2L98.9 47.5L99.6 44.5L100.4 41.3L101.2 38.1L101.9 34.8L102.7 31.6L103.5 28.6L104.3 25.7L105.0 23.1L105.8 20.7L106.6 18.6L107.3 16.6L108.1 14.9L108.9 13.5L109.6 12.4L110.4 11.7L111.2 11.2L112.0 11.0L112.7 11.2L113.5 11.6L114.3 12.4L115.0 13.4L115.8 14.5L116.6 15.8L117.4 17.2L118.1 18.7L118.9 20.2L119.7 21.7L120.4 23.0L121.2 24.2L122.0 25.2L122.7 25.9L123.5 26.3L124.3 26.3L125.1 26.2L125.8 25.9L126.6 25.5L127.4 25.0L128.1 24.4L128.9 23.7L129.7 23.0L130.4 22.2L131.2 21.4L132.0 20.7L132.8 20.1L133.5 19.7L134.3 19.4L135.1 19.4L135.8 19.7L136.6 20.2L137.4 21.0L138.2 22.0L138.9 23.4L139.7 25.3L140.5 27.6L141.2 30.1L142.0 32.8L142.8 35.4L143.5 38.0L144.3 40.6L145.1 43.1L145.9 45.7L146.6 48.3L147.4 51.0L148.2 53.8L148.9 56.6L149.7 59.2L150.5 61.5L151.2 63.5L152.0 65.3L152.8 66.8L153.6 68.1L154.3 69.1L155.1 70.0L155.9 70.7L156.6 71.3L157.4 71.8L158.2 72.1L159.0 72.4L159.7 72.5L160.5 72.5L161.3 72.2L162.0 71.7L162.8 71.0L163.6 70.2L164.3 69.3L165.1 68.3L165.9 67.3L166.7 66.2L167.4 64.9L168.2 63.5L169.0 61.9L169.7 60.0L170.5 57.8L171.3 55.2L172.0 52.3L172.8 49.2L173.6 45.8L174.4 42.3L175.1 38.8L175.9 35.3L176.7 31.8L177.4 28.5L178.2 25.4L179.0 22.5L179.8 20.0L180.5 17.8L181.3 16.0L182.1 14.5L182.8 13.1L183.6 12.0L184.4 11.1L185.1 10.6L185.9 10.4L186.7 10.8L187.5 11.7L188.2 13.1L189.0 15.0L189.8 17.2L190.5 19.9L191.3 23.2L192.1 26.9L192.8 31.0L193.6 35.5L194.4 40.1L195.2 45.0L195.9 50.0L196.7 55.1L197.5 60.1L198.2 65.0L199.0 69.8L199.8 74.4L200.5 78.9L201.3 83.1L202.1 86.9L202.9 90.4L203.6 93.6L204.4 96.4L205.2 99.0L205.9 101.3L206.7 103.3L207.5 104.9L208.3 106.2L209.0 107.4L209.8 108.3L210.6 109.1L211.3 109.8L212.1 110.3L212.9 110.7L213.6 111.0L214.4 111.2L215.2 111.4L216.0 111.5L216.7 111.6L217.5 111.7L218.3 111.7L219.0 111.8L219.8 111.8L220.6 111.8L221.3 111.9L222.1 111.9L222.9 111.9L223.7 111.9" fill="none" stroke="#C44E52" stroke-width="0.5" stroke-opacity="0.85" stroke-linejoin="round"/>
</g>
<path d="M23.60 6.50V111.90H224.80V6.50" fill="none" stroke="#e2e2e2" stroke-width="1.1"/>
<path d="M23.60 6.50H224.80" fill="none" stroke="#ececec" stroke-width="1.1"/>
<text transform="translate(31.10 119.90) scale(0.900 1.070)" text-anchor="middle" class="tk">−4</text>
<text transform="translate(54.30 119.90) scale(0.900 1.070)" text-anchor="middle" class="tk">−3</text>
<text transform="translate(77.50 119.90) scale(0.900 1.070)" text-anchor="middle" class="tk">−2</text>
<text transform="translate(100.70 119.90) scale(0.900 1.070)" text-anchor="middle" class="tk">−1</text>
<text transform="translate(123.90 119.90) scale(0.900 1.070)" text-anchor="middle" class="tk">0</text>
<text transform="translate(147.10 119.90) scale(0.900 1.070)" text-anchor="middle" class="tk">1</text>
<text transform="translate(170.30 119.90) scale(0.900 1.070)" text-anchor="middle" class="tk">2</text>
<text transform="translate(193.50 119.90) scale(0.900 1.070)" text-anchor="middle" class="tk">3</text>
<text transform="translate(216.70 119.90) scale(0.900 1.070)" text-anchor="middle" class="tk">4</text>
<text transform="translate(20.20 114.25) scale(0.900 1.070)" text-anchor="end" class="tk">0.00</text>
<text transform="translate(20.20 90.95) scale(0.900 1.070)" text-anchor="end" class="tk">0.05</text>
<text transform="translate(20.20 67.65) scale(0.900 1.070)" text-anchor="end" class="tk">0.10</text>
<text transform="translate(20.20 44.35) scale(0.900 1.070)" text-anchor="end" class="tk">0.15</text>
<text transform="translate(20.20 21.05) scale(0.900 1.070)" text-anchor="end" class="tk">0.20</text>
<text transform="translate(126.20 131.90) scale(1.020 1.190)" text-anchor="middle" class="lb">Angle (rad)</text>
<text transform="translate(6.40 59.50) rotate(-90) scale(1.120 1.000)" text-anchor="middle" class="yl">Density</text>
<text transform="translate(10.80 10.30) scale(0.880 1.120)" class="pl">a</text>
<rect x="184.50" y="10.20" width="35.90" height="46.90" rx="1.3" fill="#fff" fill-opacity="0.8" stroke="#d4d4d4" stroke-width="0.6"/>
<rect x="187.60" y="13.90" width="15.6" height="5.1" fill="#4C72B0" fill-opacity="0.40" stroke="#4C72B0" stroke-width="0.5" stroke-opacity="0.8"/>
<text transform="translate(209.30 19.35) scale(0.895 1.110)" class="lg">#1</text>
<rect x="187.60" y="25.05" width="15.6" height="5.1" fill="#DD8452" fill-opacity="0.40" stroke="#DD8452" stroke-width="0.5" stroke-opacity="0.8"/>
<text transform="translate(209.30 30.50) scale(0.895 1.110)" class="lg">#2</text>
<rect x="187.60" y="36.20" width="15.6" height="5.1" fill="#55A868" fill-opacity="0.40" stroke="#55A868" stroke-width="0.5" stroke-opacity="0.8"/>
<text transform="translate(209.30 41.65) scale(0.895 1.110)" class="lg">#3</text>
<rect x="187.60" y="47.35" width="15.6" height="5.1" fill="#C44E52" fill-opacity="0.40" stroke="#C44E52" stroke-width="0.5" stroke-opacity="0.8"/>
<text transform="translate(209.30 52.80) scale(0.895 1.110)" class="lg">#4</text>
<clipPath id="c1"><rect x="252.50" y="6.50" width="200.50" height="105.80"/></clipPath>
<path d="M281.14 6.50V112.30M309.78 6.50V112.30M338.42 6.50V112.30M367.06 6.50V112.30M395.70 6.50V112.30M424.34 6.50V112.30M252.50 99.27H453.00M252.50 86.25H453.00M252.50 73.22H453.00M252.50 60.20H453.00M252.50 47.17H453.00M252.50 34.15H453.00M252.50 21.12H453.00M252.50 8.10H453.00" stroke="#dfdfdf" stroke-width="0.7" fill="none"/>
<g clip-path="url(#c1)">
<path d="M245.3 112.3L245.3 112.3L246.2 112.3L247.0 112.3L247.8 112.3L248.7 112.3L249.5 112.3L250.3 112.3L251.1 112.3L252.0 112.3L252.8 112.3L253.6 112.3L254.5 112.3L255.3 112.3L256.1 112.2L257.0 112.0L257.8 111.7L258.6 111.4L259.4 110.9L260.3 110.3L261.1 109.6L261.9 108.8L262.8 108.0L263.6 107.2L264.4 106.3L265.2 105.4L266.1 104.6L266.9 103.7L267.7 102.9L268.6 102.2L269.4 101.4L270.2 100.8L271.0 100.1L271.9 99.5L272.7 98.8L273.5 98.1L274.4 97.4L275.2 96.6L276.0 95.8L276.9 94.9L277.7 94.0L278.5 93.0L279.3 91.9L280.2 90.8L281.0 89.6L281.8 88.4L282.7 87.1L283.5 85.7L284.3 84.2L285.1 82.5L286.0 80.6L286.8 78.4L287.6 76.1L288.5 73.6L289.3 71.0L290.1 68.3L291.0 65.6L291.8 62.9L292.6 60.2L293.4 57.5L294.3 54.8L295.1 52.2L295.9 49.7L296.8 47.5L297.6 45.4L298.4 43.6L299.2 42.0L300.1 40.6L300.9 39.4L301.7 38.4L302.6 37.5L303.4 36.8L304.2 36.2L305.1 35.7L305.9 35.3L306.7 35.0L307.5 34.7L308.4 34.6L309.2 34.5L310.0 34.6L310.9 34.7L311.7 35.0L312.5 35.3L313.3 35.7L314.2 36.3L315.0 36.9L315.8 37.7L316.7 38.7L317.5 39.9L318.3 41.3L319.2 42.9L320.0 44.8L320.8 46.8L321.6 49.1L322.5 51.6L323.3 54.2L324.1 56.9L325.0 59.5L325.8 61.9L326.6 64.2L327.4 66.4L328.3 68.5L329.1 70.4L329.9 72.1L330.8 73.7L331.6 75.1L332.4 76.4L333.3 77.6L334.1 78.7L334.9 79.7L335.7 80.8L336.6 82.0L337.4 83.3L338.2 84.7L339.1 86.1L339.9 87.6L340.7 89.2L341.5 90.7L342.4 92.1L343.2 93.5L344.0 94.8L344.9 96.0L345.7 97.1L346.5 98.1L347.3 99.1L348.2 99.9L349.0 100.7L349.8 101.4L350.7 102.0L351.5 102.6L352.3 103.1L353.2 103.6L354.0 104.0L354.8 104.4L355.6 104.8L356.5 105.2L357.3 105.5L358.1 105.8L359.0 106.1L359.8 106.4L360.6 106.7L361.4 107.0L362.3 107.2L363.1 107.5L363.9 107.7L364.8 107.9L365.6 108.1L366.4 108.3L367.3 108.5L368.1 108.7L368.9 108.9L369.7 109.1L370.6 109.2L371.4 109.4L372.2 109.6L373.1 109.7L373.9 109.9L374.7 110.0L375.5 110.1L376.4 110.3L377.2 110.4L378.0 110.5L378.9 110.6L379.7 110.7L380.5 110.8L381.4 110.9L382.2 111.0L383.0 111.1L383.8 111.1L384.7 111.2L385.5 111.3L386.3 111.3L387.2 111.4L388.0 111.4L388.8 111.5L389.6 111.5L390.5 111.6L391.3 111.6L392.1 111.7L393.0 111.7L393.8 111.7L394.6 111.7L395.5 111.8L396.3 111.8L397.1 111.8L397.9 111.8L398.8 111.8L399.6 111.9L400.4 111.9L401.3 111.9L402.1 111.9L402.9 111.9L403.7 111.9L404.6 112.0L405.4 112.0L406.2 112.0L407.1 112.0L407.9 112.0L408.7 112.0L409.6 112.0L410.4 112.0L411.2 112.1L412.0 112.1L412.9 112.1L413.7 112.1L414.5 112.1L415.4 112.1L416.2 112.1L417.0 112.1L417.8 112.1L418.7 112.1L419.5 112.1L420.3 112.1L421.2 112.1L422.0 112.2L422.8 112.2L423.6 112.2L424.5 112.2L425.3 112.2L426.1 112.2L427.0 112.2L427.8 112.2L428.6 112.2L429.5 112.2L430.3 112.2L431.1 112.2L431.9 112.2L432.8 112.2L433.6 112.2L434.4 112.2L435.3 112.2L436.1 112.2L436.9 112.2L437.7 112.2L438.6 112.2L439.4 112.2L440.2 112.3L441.1 112.3L441.9 112.3L442.7 112.3L443.6 112.3L444.4 112.3L445.2 112.3L446.0 112.3L446.9 112.3L447.7 112.3L448.5 112.3L449.4 112.3L450.2 112.3L451.0 112.3L451.8 112.3L452.7 112.3L453.5 112.3L454.3 112.3L455.2 112.3L456.0 112.3L456.8 112.3L457.7 112.3L458.5 112.3L459.3 112.3L460.1 112.3L460.1 112.3Z" fill="#4C72B0" fill-opacity="0.40" stroke="none"/>
<path d="M245.3 112.3L246.2 112.3L247.0 112.3L247.8 112.3L248.7 112.3L249.5 112.3L250.3 112.3L251.1 112.3L252.0 112.3L252.8 112.3L253.6 112.3L254.5 112.3L255.3 112.3L256.1 112.2L257.0 112.0L257.8 111.7L258.6 111.4L259.4 110.9L260.3 110.3L261.1 109.6L261.9 108.8L262.8 108.0L263.6 107.2L264.4 106.3L265.2 105.4L266.1 104.6L266.9 103.7L267.7 102.9L268.6 102.2L269.4 101.4L270.2 100.8L271.0 100.1L271.9 99.5L272.7 98.8L273.5 98.1L274.4 97.4L275.2 96.6L276.0 95.8L276.9 94.9L277.7 94.0L278.5 93.0L279.3 91.9L280.2 90.8L281.0 89.6L281.8 88.4L282.7 87.1L283.5 85.7L284.3 84.2L285.1 82.5L286.0 80.6L286.8 78.4L287.6 76.1L288.5 73.6L289.3 71.0L290.1 68.3L291.0 65.6L291.8 62.9L292.6 60.2L293.4 57.5L294.3 54.8L295.1 52.2L295.9 49.7L296.8 47.5L297.6 45.4L298.4 43.6L299.2 42.0L300.1 40.6L300.9 39.4L301.7 38.4L302.6 37.5L303.4 36.8L304.2 36.2L305.1 35.7L305.9 35.3L306.7 35.0L307.5 34.7L308.4 34.6L309.2 34.5L310.0 34.6L310.9 34.7L311.7 35.0L312.5 35.3L313.3 35.7L314.2 36.3L315.0 36.9L315.8 37.7L316.7 38.7L317.5 39.9L318.3 41.3L319.2 42.9L320.0 44.8L320.8 46.8L321.6 49.1L322.5 51.6L323.3 54.2L324.1 56.9L325.0 59.5L325.8 61.9L326.6 64.2L327.4 66.4L328.3 68.5L329.1 70.4L329.9 72.1L330.8 73.7L331.6 75.1L332.4 76.4L333.3 77.6L334.1 78.7L334.9 79.7L335.7 80.8L336.6 82.0L337.4 83.3L338.2 84.7L339.1 86.1L339.9 87.6L340.7 89.2L341.5 90.7L342.4 92.1L343.2 93.5L344.0 94.8L344.9 96.0L345.7 97.1L346.5 98.1L347.3 99.1L348.2 99.9L349.0 100.7L349.8 101.4L350.7 102.0L351.5 102.6L352.3 103.1L353.2 103.6L354.0 104.0L354.8 104.4L355.6 104.8L356.5 105.2L357.3 105.5L358.1 105.8L359.0 106.1L359.8 106.4L360.6 106.7L361.4 107.0L362.3 107.2L363.1 107.5L363.9 107.7L364.8 107.9L365.6 108.1L366.4 108.3L367.3 108.5L368.1 108.7L368.9 108.9L369.7 109.1L370.6 109.2L371.4 109.4L372.2 109.6L373.1 109.7L373.9 109.9L374.7 110.0L375.5 110.1L376.4 110.3L377.2 110.4L378.0 110.5L378.9 110.6L379.7 110.7L380.5 110.8L381.4 110.9L382.2 111.0L383.0 111.1L383.8 111.1L384.7 111.2L385.5 111.3L386.3 111.3L387.2 111.4L388.0 111.4L388.8 111.5L389.6 111.5L390.5 111.6L391.3 111.6L392.1 111.7L393.0 111.7L393.8 111.7L394.6 111.7L395.5 111.8L396.3 111.8L397.1 111.8L397.9 111.8L398.8 111.8L399.6 111.9L400.4 111.9L401.3 111.9L402.1 111.9L402.9 111.9L403.7 111.9L404.6 112.0L405.4 112.0L406.2 112.0L407.1 112.0L407.9 112.0L408.7 112.0L409.6 112.0L410.4 112.0L411.2 112.1L412.0 112.1L412.9 112.1L413.7 112.1L414.5 112.1L415.4 112.1L416.2 112.1L417.0 112.1L417.8 112.1L418.7 112.1L419.5 112.1L420.3 112.1L421.2 112.1L422.0 112.2L422.8 112.2L423.6 112.2L424.5 112.2L425.3 112.2L426.1 112.2L427.0 112.2L427.8 112.2L428.6 112.2L429.5 112.2L430.3 112.2L431.1 112.2L431.9 112.2L432.8 112.2L433.6 112.2L434.4 112.2L435.3 112.2L436.1 112.2L436.9 112.2L437.7 112.2L438.6 112.2L439.4 112.2L440.2 112.3L441.1 112.3L441.9 112.3L442.7 112.3L443.6 112.3L444.4 112.3L445.2 112.3L446.0 112.3L446.9 112.3L447.7 112.3L448.5 112.3L449.4 112.3L450.2 112.3L451.0 112.3L451.8 112.3L452.7 112.3L453.5 112.3L454.3 112.3L455.2 112.3L456.0 112.3L456.8 112.3L457.7 112.3L458.5 112.3L459.3 112.3L460.1 112.3" fill="none" stroke="#4C72B0" stroke-width="0.5" stroke-opacity="0.85" stroke-linejoin="round"/>
<path d="M245.3 112.3L245.3 112.3L246.2 112.3L247.0 112.3L247.8 112.3L248.7 112.3L249.5 112.3L250.3 112.3L251.1 112.3L252.0 112.3L252.8 112.3L253.6 112.3L254.5 112.3L255.3 112.2L256.1 112.1L257.0 111.9L257.8 111.4L258.6 110.8L259.4 109.9L260.3 108.8L261.1 107.4L261.9 105.9L262.8 104.2L263.6 102.5L264.4 100.9L265.2 99.4L266.1 98.0L266.9 96.7L267.7 95.6L268.6 94.5L269.4 93.5L270.2 92.6L271.0 91.8L271.9 91.1L272.7 90.4L273.5 89.7L274.4 89.0L275.2 88.3L276.0 87.6L276.9 87.0L277.7 86.3L278.5 85.7L279.3 85.0L280.2 84.4L281.0 83.7L281.8 82.9L282.7 82.0L283.5 81.0L284.3 79.8L285.1 78.5L286.0 77.0L286.8 75.4L287.6 73.8L288.5 72.1L289.3 70.3L290.1 68.6L291.0 66.7L291.8 64.8L292.6 62.8L293.4 60.6L294.3 58.3L295.1 55.8L295.9 53.3L296.8 50.8L297.6 48.4L298.4 46.2L299.2 44.2L300.1 42.5L300.9 41.0L301.7 39.6L302.6 38.5L303.4 37.6L304.2 36.8L305.1 36.2L305.9 35.7L306.7 35.3L307.5 34.9L308.4 34.7L309.2 34.6L310.0 34.5L310.9 34.6L311.7 34.8L312.5 35.1L313.3 35.5L314.2 36.0L315.0 36.6L315.8 37.3L316.7 38.2L317.5 39.3L318.3 40.7L319.2 42.2L320.0 44.1L320.8 46.1L321.6 48.5L322.5 51.1L323.3 53.8L324.1 56.6L325.0 59.4L325.8 62.0L326.6 64.4L327.4 66.8L328.3 69.0L329.1 71.2L329.9 73.2L330.8 75.2L331.6 77.2L332.4 79.1L333.3 81.0L334.1 82.8L334.9 84.6L335.7 86.3L336.6 88.0L337.4 89.6L338.2 91.1L339.1 92.6L339.9 94.0L340.7 95.3L341.5 96.5L342.4 97.7L343.2 98.7L344.0 99.7L344.9 100.4L345.7 101.1L346.5 101.7L347.3 102.3L348.2 102.7L349.0 103.2L349.8 103.6L350.7 104.0L351.5 104.3L352.3 104.7L353.2 105.0L354.0 105.4L354.8 105.7L355.6 106.0L356.5 106.3L357.3 106.6L358.1 106.8L359.0 107.1L359.8 107.3L360.6 107.6L361.4 107.8L362.3 107.9L363.1 108.1L363.9 108.3L364.8 108.5L365.6 108.6L366.4 108.7L367.3 108.9L368.1 109.0L368.9 109.1L369.7 109.2L370.6 109.4L371.4 109.5L372.2 109.6L373.1 109.7L373.9 109.8L374.7 109.9L375.5 110.0L376.4 110.0L377.2 110.1L378.0 110.2L378.9 110.3L379.7 110.4L380.5 110.4L381.4 110.5L382.2 110.6L383.0 110.6L383.8 110.7L384.7 110.8L385.5 110.8L386.3 110.9L387.2 110.9L388.0 111.0L388.8 111.0L389.6 111.1L390.5 111.1L391.3 111.2L392.1 111.2L393.0 111.3L393.8 111.3L394.6 111.3L395.5 111.4L396.3 111.4L397.1 111.4L397.9 111.5L398.8 111.5L399.6 111.5L400.4 111.5L401.3 111.6L402.1 111.6L402.9 111.6L403.7 111.6L404.6 111.7L405.4 111.7L406.2 111.7L407.1 111.7L407.9 111.7L408.7 111.8L409.6 111.8L410.4 111.8L411.2 111.8L412.0 111.8L412.9 111.9L413.7 111.9L414.5 111.9L415.4 111.9L416.2 111.9L417.0 111.9L417.8 111.9L418.7 112.0L419.5 112.0L420.3 112.0L421.2 112.0L422.0 112.0L422.8 112.0L423.6 112.0L424.5 112.0L425.3 112.1L426.1 112.1L427.0 112.1L427.8 112.1L428.6 112.1L429.5 112.1L430.3 112.1L431.1 112.1L431.9 112.1L432.8 112.1L433.6 112.1L434.4 112.1L435.3 112.2L436.1 112.2L436.9 112.2L437.7 112.2L438.6 112.2L439.4 112.2L440.2 112.2L441.1 112.2L441.9 112.2L442.7 112.2L443.6 112.2L444.4 112.2L445.2 112.2L446.0 112.2L446.9 112.3L447.7 112.3L448.5 112.3L449.4 112.3L450.2 112.3L451.0 112.3L451.8 112.3L452.7 112.3L453.5 112.3L454.3 112.3L455.2 112.3L456.0 112.3L456.8 112.3L457.7 112.3L458.5 112.3L459.3 112.3L460.1 112.3L460.1 112.3Z" fill="#DD8452" fill-opacity="0.40" stroke="none"/>
<path d="M245.3 112.3L246.2 112.3L247.0 112.3L247.8 112.3L248.7 112.3L249.5 112.3L250.3 112.3L251.1 112.3L252.0 112.3L252.8 112.3L253.6 112.3L254.5 112.3L255.3 112.2L256.1 112.1L257.0 111.9L257.8 111.4L258.6 110.8L259.4 109.9L260.3 108.8L261.1 107.4L261.9 105.9L262.8 104.2L263.6 102.5L264.4 100.9L265.2 99.4L266.1 98.0L266.9 96.7L267.7 95.6L268.6 94.5L269.4 93.5L270.2 92.6L271.0 91.8L271.9 91.1L272.7 90.4L273.5 89.7L274.4 89.0L275.2 88.3L276.0 87.6L276.9 87.0L277.7 86.3L278.5 85.7L279.3 85.0L280.2 84.4L281.0 83.7L281.8 82.9L282.7 82.0L283.5 81.0L284.3 79.8L285.1 78.5L286.0 77.0L286.8 75.4L287.6 73.8L288.5 72.1L289.3 70.3L290.1 68.6L291.0 66.7L291.8 64.8L292.6 62.8L293.4 60.6L294.3 58.3L295.1 55.8L295.9 53.3L296.8 50.8L297.6 48.4L298.4 46.2L299.2 44.2L300.1 42.5L300.9 41.0L301.7 39.6L302.6 38.5L303.4 37.6L304.2 36.8L305.1 36.2L305.9 35.7L306.7 35.3L307.5 34.9L308.4 34.7L309.2 34.6L310.0 34.5L310.9 34.6L311.7 34.8L312.5 35.1L313.3 35.5L314.2 36.0L315.0 36.6L315.8 37.3L316.7 38.2L317.5 39.3L318.3 40.7L319.2 42.2L320.0 44.1L320.8 46.1L321.6 48.5L322.5 51.1L323.3 53.8L324.1 56.6L325.0 59.4L325.8 62.0L326.6 64.4L327.4 66.8L328.3 69.0L329.1 71.2L329.9 73.2L330.8 75.2L331.6 77.2L332.4 79.1L333.3 81.0L334.1 82.8L334.9 84.6L335.7 86.3L336.6 88.0L337.4 89.6L338.2 91.1L339.1 92.6L339.9 94.0L340.7 95.3L341.5 96.5L342.4 97.7L343.2 98.7L344.0 99.7L344.9 100.4L345.7 101.1L346.5 101.7L347.3 102.3L348.2 102.7L349.0 103.2L349.8 103.6L350.7 104.0L351.5 104.3L352.3 104.7L353.2 105.0L354.0 105.4L354.8 105.7L355.6 106.0L356.5 106.3L357.3 106.6L358.1 106.8L359.0 107.1L359.8 107.3L360.6 107.6L361.4 107.8L362.3 107.9L363.1 108.1L363.9 108.3L364.8 108.5L365.6 108.6L366.4 108.7L367.3 108.9L368.1 109.0L368.9 109.1L369.7 109.2L370.6 109.4L371.4 109.5L372.2 109.6L373.1 109.7L373.9 109.8L374.7 109.9L375.5 110.0L376.4 110.0L377.2 110.1L378.0 110.2L378.9 110.3L379.7 110.4L380.5 110.4L381.4 110.5L382.2 110.6L383.0 110.6L383.8 110.7L384.7 110.8L385.5 110.8L386.3 110.9L387.2 110.9L388.0 111.0L388.8 111.0L389.6 111.1L390.5 111.1L391.3 111.2L392.1 111.2L393.0 111.3L393.8 111.3L394.6 111.3L395.5 111.4L396.3 111.4L397.1 111.4L397.9 111.5L398.8 111.5L399.6 111.5L400.4 111.5L401.3 111.6L402.1 111.6L402.9 111.6L403.7 111.6L404.6 111.7L405.4 111.7L406.2 111.7L407.1 111.7L407.9 111.7L408.7 111.8L409.6 111.8L410.4 111.8L411.2 111.8L412.0 111.8L412.9 111.9L413.7 111.9L414.5 111.9L415.4 111.9L416.2 111.9L417.0 111.9L417.8 111.9L418.7 112.0L419.5 112.0L420.3 112.0L421.2 112.0L422.0 112.0L422.8 112.0L423.6 112.0L424.5 112.0L425.3 112.1L426.1 112.1L427.0 112.1L427.8 112.1L428.6 112.1L429.5 112.1L430.3 112.1L431.1 112.1L431.9 112.1L432.8 112.1L433.6 112.1L434.4 112.1L435.3 112.2L436.1 112.2L436.9 112.2L437.7 112.2L438.6 112.2L439.4 112.2L440.2 112.2L441.1 112.2L441.9 112.2L442.7 112.2L443.6 112.2L444.4 112.2L445.2 112.2L446.0 112.2L446.9 112.3L447.7 112.3L448.5 112.3L449.4 112.3L450.2 112.3L451.0 112.3L451.8 112.3L452.7 112.3L453.5 112.3L454.3 112.3L455.2 112.3L456.0 112.3L456.8 112.3L457.7 112.3L458.5 112.3L459.3 112.3L460.1 112.3" fill="none" stroke="#DD8452" stroke-width="0.5" stroke-opacity="0.85" stroke-linejoin="round"/>
<path d="M245.3 112.3L245.3 112.3L246.2 112.3L247.0 112.3L247.8 112.3L248.7 112.3L249.5 112.3L250.3 112.3L251.1 112.3L252.0 112.3L252.8 112.3L253.6 112.3L254.5 112.3L255.3 112.3L256.1 112.3L257.0 112.3L257.8 112.2L258.6 112.2L259.4 112.0L260.3 111.8L261.1 111.6L261.9 111.3L262.8 110.9L263.6 110.5L264.4 110.2L265.2 109.8L266.1 109.4L266.9 109.0L267.7 108.6L268.6 108.2L269.4 107.8L270.2 107.4L271.0 106.9L271.9 106.4L272.7 105.9L273.5 105.3L274.4 104.7L275.2 104.1L276.0 103.3L276.9 102.5L277.7 101.6L278.5 100.7L279.3 99.7L280.2 98.6L281.0 97.3L281.8 96.0L282.7 94.3L283.5 92.4L284.3 90.0L285.1 87.3L286.0 84.2L286.8 80.8L287.6 77.1L288.5 73.3L289.3 69.2L290.1 64.9L291.0 60.4L291.8 55.8L292.6 51.2L293.4 46.6L294.3 42.1L295.1 37.8L295.9 33.6L296.8 29.8L297.6 26.3L298.4 23.1L299.2 20.3L300.1 17.9L300.9 15.8L301.7 14.1L302.6 12.7L303.4 11.7L304.2 11.1L305.1 11.0L305.9 11.4L306.7 12.2L307.5 13.4L308.4 14.9L309.2 16.6L310.0 18.5L310.9 20.6L311.7 22.9L312.5 25.4L313.3 27.9L314.2 30.5L315.0 33.1L315.8 35.7L316.7 38.3L317.5 40.9L318.3 43.5L319.2 46.0L320.0 48.5L320.8 51.0L321.6 53.5L322.5 55.9L323.3 58.3L324.1 60.6L325.0 62.9L325.8 65.1L326.6 67.4L327.4 69.5L328.3 71.7L329.1 73.8L329.9 75.9L330.8 78.1L331.6 80.1L332.4 82.2L333.3 84.3L334.1 86.2L334.9 88.1L335.7 89.9L336.6 91.6L337.4 93.2L338.2 94.7L339.1 96.2L339.9 97.6L340.7 98.9L341.5 100.2L342.4 101.5L343.2 102.7L344.0 103.8L344.9 104.7L345.7 105.6L346.5 106.3L347.3 107.0L348.2 107.6L349.0 108.1L349.8 108.5L350.7 108.9L351.5 109.3L352.3 109.6L353.2 109.8L354.0 110.1L354.8 110.3L355.6 110.4L356.5 110.6L357.3 110.7L358.1 110.8L359.0 111.0L359.8 111.1L360.6 111.2L361.4 111.2L362.3 111.3L363.1 111.4L363.9 111.5L364.8 111.5L365.6 111.6L366.4 111.6L367.3 111.6L368.1 111.7L368.9 111.7L369.7 111.7L370.6 111.8L371.4 111.8L372.2 111.8L373.1 111.8L373.9 111.9L374.7 111.9L375.5 111.9L376.4 111.9L377.2 111.9L378.0 112.0L378.9 112.0L379.7 112.0L380.5 112.0L381.4 112.0L382.2 112.0L383.0 112.0L383.8 112.1L384.7 112.1L385.5 112.1L386.3 112.1L387.2 112.1L388.0 112.1L388.8 112.1L389.6 112.1L390.5 112.1L391.3 112.1L392.1 112.1L393.0 112.2L393.8 112.2L394.6 112.2L395.5 112.2L396.3 112.2L397.1 112.2L397.9 112.2L398.8 112.2L399.6 112.2L400.4 112.2L401.3 112.2L402.1 112.2L402.9 112.2L403.7 112.2L404.6 112.2L405.4 112.2L406.2 112.2L407.1 112.2L407.9 112.2L408.7 112.2L409.6 112.2L410.4 112.2L411.2 112.2L412.0 112.2L412.9 112.2L413.7 112.2L414.5 112.2L415.4 112.2L416.2 112.2L417.0 112.2L417.8 112.2L418.7 112.2L419.5 112.2L420.3 112.3L421.2 112.3L422.0 112.3L422.8 112.3L423.6 112.3L424.5 112.3L425.3 112.3L426.1 112.3L427.0 112.3L427.8 112.3L428.6 112.3L429.5 112.3L430.3 112.3L431.1 112.3L431.9 112.3L432.8 112.3L433.6 112.3L434.4 112.3L435.3 112.3L436.1 112.3L436.9 112.3L437.7 112.3L438.6 112.3L439.4 112.3L440.2 112.3L441.1 112.3L441.9 112.3L442.7 112.3L443.6 112.3L444.4 112.3L445.2 112.3L446.0 112.3L446.9 112.3L447.7 112.3L448.5 112.3L449.4 112.3L450.2 112.3L451.0 112.3L451.8 112.3L452.7 112.3L453.5 112.3L454.3 112.3L455.2 112.3L456.0 112.3L456.8 112.3L457.7 112.3L458.5 112.3L459.3 112.3L460.1 112.3L460.1 112.3Z" fill="#55A868" fill-opacity="0.40" stroke="none"/>
<path d="M245.3 112.3L246.2 112.3L247.0 112.3L247.8 112.3L248.7 112.3L249.5 112.3L250.3 112.3L251.1 112.3L252.0 112.3L252.8 112.3L253.6 112.3L254.5 112.3L255.3 112.3L256.1 112.3L257.0 112.3L257.8 112.2L258.6 112.2L259.4 112.0L260.3 111.8L261.1 111.6L261.9 111.3L262.8 110.9L263.6 110.5L264.4 110.2L265.2 109.8L266.1 109.4L266.9 109.0L267.7 108.6L268.6 108.2L269.4 107.8L270.2 107.4L271.0 106.9L271.9 106.4L272.7 105.9L273.5 105.3L274.4 104.7L275.2 104.1L276.0 103.3L276.9 102.5L277.7 101.6L278.5 100.7L279.3 99.7L280.2 98.6L281.0 97.3L281.8 96.0L282.7 94.3L283.5 92.4L284.3 90.0L285.1 87.3L286.0 84.2L286.8 80.8L287.6 77.1L288.5 73.3L289.3 69.2L290.1 64.9L291.0 60.4L291.8 55.8L292.6 51.2L293.4 46.6L294.3 42.1L295.1 37.8L295.9 33.6L296.8 29.8L297.6 26.3L298.4 23.1L299.2 20.3L300.1 17.9L300.9 15.8L301.7 14.1L302.6 12.7L303.4 11.7L304.2 11.1L305.1 11.0L305.9 11.4L306.7 12.2L307.5 13.4L308.4 14.9L309.2 16.6L310.0 18.5L310.9 20.6L311.7 22.9L312.5 25.4L313.3 27.9L314.2 30.5L315.0 33.1L315.8 35.7L316.7 38.3L317.5 40.9L318.3 43.5L319.2 46.0L320.0 48.5L320.8 51.0L321.6 53.5L322.5 55.9L323.3 58.3L324.1 60.6L325.0 62.9L325.8 65.1L326.6 67.4L327.4 69.5L328.3 71.7L329.1 73.8L329.9 75.9L330.8 78.1L331.6 80.1L332.4 82.2L333.3 84.3L334.1 86.2L334.9 88.1L335.7 89.9L336.6 91.6L337.4 93.2L338.2 94.7L339.1 96.2L339.9 97.6L340.7 98.9L341.5 100.2L342.4 101.5L343.2 102.7L344.0 103.8L344.9 104.7L345.7 105.6L346.5 106.3L347.3 107.0L348.2 107.6L349.0 108.1L349.8 108.5L350.7 108.9L351.5 109.3L352.3 109.6L353.2 109.8L354.0 110.1L354.8 110.3L355.6 110.4L356.5 110.6L357.3 110.7L358.1 110.8L359.0 111.0L359.8 111.1L360.6 111.2L361.4 111.2L362.3 111.3L363.1 111.4L363.9 111.5L364.8 111.5L365.6 111.6L366.4 111.6L367.3 111.6L368.1 111.7L368.9 111.7L369.7 111.7L370.6 111.8L371.4 111.8L372.2 111.8L373.1 111.8L373.9 111.9L374.7 111.9L375.5 111.9L376.4 111.9L377.2 111.9L378.0 112.0L378.9 112.0L379.7 112.0L380.5 112.0L381.4 112.0L382.2 112.0L383.0 112.0L383.8 112.1L384.7 112.1L385.5 112.1L386.3 112.1L387.2 112.1L388.0 112.1L388.8 112.1L389.6 112.1L390.5 112.1L391.3 112.1L392.1 112.1L393.0 112.2L393.8 112.2L394.6 112.2L395.5 112.2L396.3 112.2L397.1 112.2L397.9 112.2L398.8 112.2L399.6 112.2L400.4 112.2L401.3 112.2L402.1 112.2L402.9 112.2L403.7 112.2L404.6 112.2L405.4 112.2L406.2 112.2L407.1 112.2L407.9 112.2L408.7 112.2L409.6 112.2L410.4 112.2L411.2 112.2L412.0 112.2L412.9 112.2L413.7 112.2L414.5 112.2L415.4 112.2L416.2 112.2L417.0 112.2L417.8 112.2L418.7 112.2L419.5 112.2L420.3 112.3L421.2 112.3L422.0 112.3L422.8 112.3L423.6 112.3L424.5 112.3L425.3 112.3L426.1 112.3L427.0 112.3L427.8 112.3L428.6 112.3L429.5 112.3L430.3 112.3L431.1 112.3L431.9 112.3L432.8 112.3L433.6 112.3L434.4 112.3L435.3 112.3L436.1 112.3L436.9 112.3L437.7 112.3L438.6 112.3L439.4 112.3L440.2 112.3L441.1 112.3L441.9 112.3L442.7 112.3L443.6 112.3L444.4 112.3L445.2 112.3L446.0 112.3L446.9 112.3L447.7 112.3L448.5 112.3L449.4 112.3L450.2 112.3L451.0 112.3L451.8 112.3L452.7 112.3L453.5 112.3L454.3 112.3L455.2 112.3L456.0 112.3L456.8 112.3L457.7 112.3L458.5 112.3L459.3 112.3L460.1 112.3" fill="none" stroke="#55A868" stroke-width="0.5" stroke-opacity="0.85" stroke-linejoin="round"/>
<path d="M245.3 112.3L245.3 112.3L246.2 112.2L247.0 112.1L247.8 112.0L248.7 111.7L249.5 111.2L250.3 110.5L251.1 109.5L252.0 108.4L252.8 107.0L253.6 105.4L254.5 103.4L255.3 101.0L256.1 97.8L257.0 93.9L257.8 89.2L258.6 83.8L259.4 77.7L260.3 71.1L261.1 64.1L261.9 56.9L262.8 49.8L263.6 42.9L264.4 36.5L265.2 30.8L266.1 25.9L266.9 21.8L267.7 18.6L268.6 16.3L269.4 15.0L270.2 14.5L271.0 14.8L271.9 16.0L272.7 17.8L273.5 20.2L274.4 23.1L275.2 26.3L276.0 29.7L276.9 33.1L277.7 36.4L278.5 39.8L279.3 43.1L280.2 46.4L281.0 49.6L281.8 52.8L282.7 55.8L283.5 58.7L284.3 61.4L285.1 64.0L286.0 66.4L286.8 68.6L287.6 70.5L288.5 72.3L289.3 73.9L290.1 75.3L291.0 76.6L291.8 77.8L292.6 78.9L293.4 80.0L294.3 81.1L295.1 82.1L295.9 83.1L296.8 84.0L297.6 84.8L298.4 85.5L299.2 86.2L300.1 86.8L300.9 87.4L301.7 88.0L302.6 88.5L303.4 89.0L304.2 89.5L305.1 90.0L305.9 90.4L306.7 90.9L307.5 91.3L308.4 91.6L309.2 92.0L310.0 92.3L310.9 92.6L311.7 92.8L312.5 93.1L313.3 93.3L314.2 93.5L315.0 93.7L315.8 93.9L316.7 94.1L317.5 94.3L318.3 94.5L319.2 94.7L320.0 94.9L320.8 95.2L321.6 95.4L322.5 95.6L323.3 95.8L324.1 96.0L325.0 96.2L325.8 96.5L326.6 96.7L327.4 96.9L328.3 97.1L329.1 97.3L329.9 97.5L330.8 97.7L331.6 98.0L332.4 98.2L333.3 98.4L334.1 98.6L334.9 98.8L335.7 99.0L336.6 99.2L337.4 99.4L338.2 99.6L339.1 99.8L339.9 100.0L340.7 100.2L341.5 100.4L342.4 100.6L343.2 100.8L344.0 101.0L344.9 101.2L345.7 101.4L346.5 101.6L347.3 101.8L348.2 102.0L349.0 102.2L349.8 102.4L350.7 102.6L351.5 102.7L352.3 102.9L353.2 103.1L354.0 103.2L354.8 103.4L355.6 103.6L356.5 103.7L357.3 103.9L358.1 104.0L359.0 104.2L359.8 104.3L360.6 104.5L361.4 104.6L362.3 104.8L363.1 104.9L363.9 105.1L364.8 105.2L365.6 105.4L366.4 105.5L367.3 105.7L368.1 105.8L368.9 106.0L369.7 106.1L370.6 106.2L371.4 106.3L372.2 106.5L373.1 106.6L373.9 106.7L374.7 106.8L375.5 106.9L376.4 107.0L377.2 107.1L378.0 107.2L378.9 107.3L379.7 107.4L380.5 107.5L381.4 107.6L382.2 107.7L383.0 107.7L383.8 107.8L384.7 107.9L385.5 108.0L386.3 108.1L387.2 108.1L388.0 108.2L388.8 108.3L389.6 108.4L390.5 108.4L391.3 108.5L392.1 108.6L393.0 108.7L393.8 108.7L394.6 108.8L395.5 108.9L396.3 108.9L397.1 109.0L397.9 109.0L398.8 109.1L399.6 109.1L400.4 109.2L401.3 109.2L402.1 109.3L402.9 109.3L403.7 109.4L404.6 109.4L405.4 109.5L406.2 109.5L407.1 109.6L407.9 109.6L408.7 109.7L409.6 109.7L410.4 109.8L411.2 109.8L412.0 109.8L412.9 109.9L413.7 109.9L414.5 109.9L415.4 110.0L416.2 110.0L417.0 110.0L417.8 110.1L418.7 110.1L419.5 110.1L420.3 110.1L421.2 110.2L422.0 110.2L422.8 110.2L423.6 110.2L424.5 110.2L425.3 110.3L426.1 110.3L427.0 110.3L427.8 110.3L428.6 110.3L429.5 110.3L430.3 110.4L431.1 110.4L431.9 110.4L432.8 110.4L433.6 110.4L434.4 110.4L435.3 110.5L436.1 110.5L436.9 110.5L437.7 110.5L438.6 110.5L439.4 110.5L440.2 110.6L441.1 110.6L441.9 110.6L442.7 110.6L443.6 110.6L444.4 110.6L445.2 110.7L446.0 110.7L446.9 110.7L447.7 110.7L448.5 110.7L449.4 110.7L450.2 110.8L451.0 110.8L451.8 110.8L452.7 110.8L453.5 110.8L454.3 110.8L455.2 110.9L456.0 110.9L456.8 110.9L457.7 110.9L458.5 110.9L459.3 110.9L460.1 110.9L460.1 112.3Z" fill="#C44E52" fill-opacity="0.40" stroke="none"/>
<path d="M245.3 112.3L246.2 112.2L247.0 112.1L247.8 112.0L248.7 111.7L249.5 111.2L250.3 110.5L251.1 109.5L252.0 108.4L252.8 107.0L253.6 105.4L254.5 103.4L255.3 101.0L256.1 97.8L257.0 93.9L257.8 89.2L258.6 83.8L259.4 77.7L260.3 71.1L261.1 64.1L261.9 56.9L262.8 49.8L263.6 42.9L264.4 36.5L265.2 30.8L266.1 25.9L266.9 21.8L267.7 18.6L268.6 16.3L269.4 15.0L270.2 14.5L271.0 14.8L271.9 16.0L272.7 17.8L273.5 20.2L274.4 23.1L275.2 26.3L276.0 29.7L276.9 33.1L277.7 36.4L278.5 39.8L279.3 43.1L280.2 46.4L281.0 49.6L281.8 52.8L282.7 55.8L283.5 58.7L284.3 61.4L285.1 64.0L286.0 66.4L286.8 68.6L287.6 70.5L288.5 72.3L289.3 73.9L290.1 75.3L291.0 76.6L291.8 77.8L292.6 78.9L293.4 80.0L294.3 81.1L295.1 82.1L295.9 83.1L296.8 84.0L297.6 84.8L298.4 85.5L299.2 86.2L300.1 86.8L300.9 87.4L301.7 88.0L302.6 88.5L303.4 89.0L304.2 89.5L305.1 90.0L305.9 90.4L306.7 90.9L307.5 91.3L308.4 91.6L309.2 92.0L310.0 92.3L310.9 92.6L311.7 92.8L312.5 93.1L313.3 93.3L314.2 93.5L315.0 93.7L315.8 93.9L316.7 94.1L317.5 94.3L318.3 94.5L319.2 94.7L320.0 94.9L320.8 95.2L321.6 95.4L322.5 95.6L323.3 95.8L324.1 96.0L325.0 96.2L325.8 96.5L326.6 96.7L327.4 96.9L328.3 97.1L329.1 97.3L329.9 97.5L330.8 97.7L331.6 98.0L332.4 98.2L333.3 98.4L334.1 98.6L334.9 98.8L335.7 99.0L336.6 99.2L337.4 99.4L338.2 99.6L339.1 99.8L339.9 100.0L340.7 100.2L341.5 100.4L342.4 100.6L343.2 100.8L344.0 101.0L344.9 101.2L345.7 101.4L346.5 101.6L347.3 101.8L348.2 102.0L349.0 102.2L349.8 102.4L350.7 102.6L351.5 102.7L352.3 102.9L353.2 103.1L354.0 103.2L354.8 103.4L355.6 103.6L356.5 103.7L357.3 103.9L358.1 104.0L359.0 104.2L359.8 104.3L360.6 104.5L361.4 104.6L362.3 104.8L363.1 104.9L363.9 105.1L364.8 105.2L365.6 105.4L366.4 105.5L367.3 105.7L368.1 105.8L368.9 106.0L369.7 106.1L370.6 106.2L371.4 106.3L372.2 106.5L373.1 106.6L373.9 106.7L374.7 106.8L375.5 106.9L376.4 107.0L377.2 107.1L378.0 107.2L378.9 107.3L379.7 107.4L380.5 107.5L381.4 107.6L382.2 107.7L383.0 107.7L383.8 107.8L384.7 107.9L385.5 108.0L386.3 108.1L387.2 108.1L388.0 108.2L388.8 108.3L389.6 108.4L390.5 108.4L391.3 108.5L392.1 108.6L393.0 108.7L393.8 108.7L394.6 108.8L395.5 108.9L396.3 108.9L397.1 109.0L397.9 109.0L398.8 109.1L399.6 109.1L400.4 109.2L401.3 109.2L402.1 109.3L402.9 109.3L403.7 109.4L404.6 109.4L405.4 109.5L406.2 109.5L407.1 109.6L407.9 109.6L408.7 109.7L409.6 109.7L410.4 109.8L411.2 109.8L412.0 109.8L412.9 109.9L413.7 109.9L414.5 109.9L415.4 110.0L416.2 110.0L417.0 110.0L417.8 110.1L418.7 110.1L419.5 110.1L420.3 110.1L421.2 110.2L422.0 110.2L422.8 110.2L423.6 110.2L424.5 110.2L425.3 110.3L426.1 110.3L427.0 110.3L427.8 110.3L428.6 110.3L429.5 110.3L430.3 110.4L431.1 110.4L431.9 110.4L432.8 110.4L433.6 110.4L434.4 110.4L435.3 110.5L436.1 110.5L436.9 110.5L437.7 110.5L438.6 110.5L439.4 110.5L440.2 110.6L441.1 110.6L441.9 110.6L442.7 110.6L443.6 110.6L444.4 110.6L445.2 110.7L446.0 110.7L446.9 110.7L447.7 110.7L448.5 110.7L449.4 110.7L450.2 110.8L451.0 110.8L451.8 110.8L452.7 110.8L453.5 110.8L454.3 110.8L455.2 110.9L456.0 110.9L456.8 110.9L457.7 110.9L458.5 110.9L459.3 110.9L460.1 110.9" fill="none" stroke="#C44E52" stroke-width="0.5" stroke-opacity="0.85" stroke-linejoin="round"/>
</g>
<path d="M252.50 6.50V112.30H453.00V6.50" fill="none" stroke="#e2e2e2" stroke-width="1.1"/>
<path d="M252.50 6.50H453.00" fill="none" stroke="#ececec" stroke-width="1.1"/>
<text transform="translate(252.50 120.30) scale(0.900 1.070)" text-anchor="middle" class="tk">0.0</text>
<text transform="translate(281.14 120.30) scale(0.900 1.070)" text-anchor="middle" class="tk">0.2</text>
<text transform="translate(309.78 120.30) scale(0.900 1.070)" text-anchor="middle" class="tk">0.4</text>
<text transform="translate(338.42 120.30) scale(0.900 1.070)" text-anchor="middle" class="tk">0.6</text>
<text transform="translate(367.06 120.30) scale(0.900 1.070)" text-anchor="middle" class="tk">0.8</text>
<text transform="translate(395.70 120.30) scale(0.900 1.070)" text-anchor="middle" class="tk">1.0</text>
<text transform="translate(424.34 120.30) scale(0.900 1.070)" text-anchor="middle" class="tk">1.2</text>
<text transform="translate(452.98 120.30) scale(0.900 1.070)" text-anchor="middle" class="tk">1.4</text>
<text transform="translate(249.10 114.65) scale(0.900 1.070)" text-anchor="end" class="tk">0.0</text>
<text transform="translate(249.10 101.62) scale(0.900 1.070)" text-anchor="end" class="tk">0.5</text>
<text transform="translate(249.10 88.60) scale(0.900 1.070)" text-anchor="end" class="tk">1.0</text>
<text transform="translate(249.10 75.57) scale(0.900 1.070)" text-anchor="end" class="tk">1.5</text>
<text transform="translate(249.10 62.55) scale(0.900 1.070)" text-anchor="end" class="tk">2.0</text>
<text transform="translate(249.10 49.52) scale(0.900 1.070)" text-anchor="end" class="tk">2.5</text>
<text transform="translate(249.10 36.50) scale(0.900 1.070)" text-anchor="end" class="tk">3.0</text>
<text transform="translate(249.10 23.48) scale(0.900 1.070)" text-anchor="end" class="tk">3.5</text>
<text transform="translate(249.10 10.45) scale(0.900 1.070)" text-anchor="end" class="tk">4.0</text>
<text transform="translate(349.90 132.00) scale(1.020 1.190)" text-anchor="middle" class="lb">Dispersion (µm)</text>
<text transform="translate(238.50 59.70) rotate(-90) scale(1.120 1.000)" text-anchor="middle" class="yl">Density</text>
<text transform="translate(232.20 10.00) scale(0.990 1.120)" class="pl">b</text>
<rect x="412.40" y="10.30" width="35.90" height="46.90" rx="1.3" fill="#fff" fill-opacity="0.8" stroke="#d4d4d4" stroke-width="0.6"/>
<rect x="415.50" y="14.00" width="15.6" height="5.1" fill="#4C72B0" fill-opacity="0.40" stroke="#4C72B0" stroke-width="0.5" stroke-opacity="0.8"/>
<text transform="translate(437.20 19.45) scale(0.895 1.110)" class="lg">#1</text>
<rect x="415.50" y="25.15" width="15.6" height="5.1" fill="#DD8452" fill-opacity="0.40" stroke="#DD8452" stroke-width="0.5" stroke-opacity="0.8"/>
<text transform="translate(437.20 30.60) scale(0.895 1.110)" class="lg">#2</text>
<rect x="415.50" y="36.30" width="15.6" height="5.1" fill="#55A868" fill-opacity="0.40" stroke="#55A868" stroke-width="0.5" stroke-opacity="0.8"/>
<text transform="translate(437.20 41.75) scale(0.895 1.110)" class="lg">#3</text>
<rect x="415.50" y="47.45" width="15.6" height="5.1" fill="#C44E52" fill-opacity="0.40" stroke="#C44E52" stroke-width="0.5" stroke-opacity="0.8"/>
<text transform="translate(437.20 52.90) scale(0.895 1.110)" class="lg">#4</text>
<clipPath id="c2"><rect x="478.70" y="6.50" width="199.80" height="105.70"/></clipPath>
<path d="M503.70 6.50V112.20M528.70 6.50V112.20M553.70 6.50V112.20M578.70 6.50V112.20M603.70 6.50V112.20M628.70 6.50V112.20M653.70 6.50V112.20M478.70 99.90H678.50M478.70 87.65H678.50M478.70 75.40H678.50M478.70 63.15H678.50M478.70 50.90H678.50M478.70 38.65H678.50M478.70 26.40H678.50M478.70 14.15H678.50" stroke="#dfdfdf" stroke-width="0.7" fill="none"/>
<g clip-path="url(#c2)">
<path d="M473.7 112.2L473.7 107.3L474.5 106.3L475.3 104.9L476.1 103.2L476.9 101.3L477.8 99.2L478.6 96.8L479.4 94.3L480.2 91.6L481.0 88.6L481.8 85.4L482.6 82.1L483.4 78.8L484.2 75.5L485.1 72.5L485.9 69.7L486.7 67.2L487.5 65.0L488.3 62.9L489.1 61.1L489.9 59.5L490.7 58.1L491.5 56.9L492.3 56.0L493.2 55.2L494.0 54.7L494.8 54.3L495.6 54.1L496.4 54.1L497.2 54.2L498.0 54.5L498.8 54.9L499.6 55.4L500.5 56.1L501.3 56.9L502.1 57.8L502.9 58.8L503.7 59.8L504.5 60.8L505.3 61.8L506.1 62.9L506.9 63.9L507.8 65.0L508.6 66.0L509.4 67.0L510.2 68.1L511.0 69.1L511.8 70.0L512.6 71.0L513.4 71.9L514.2 72.8L515.1 73.7L515.9 74.6L516.7 75.4L517.5 76.2L518.3 77.1L519.1 77.9L519.9 78.6L520.7 79.4L521.5 80.2L522.3 80.9L523.2 81.6L524.0 82.4L524.8 83.1L525.6 83.8L526.4 84.4L527.2 85.1L528.0 85.8L528.8 86.5L529.6 87.1L530.5 87.7L531.3 88.3L532.1 89.0L532.9 89.5L533.7 90.1L534.5 90.6L535.3 91.2L536.1 91.7L536.9 92.2L537.8 92.6L538.6 93.1L539.4 93.6L540.2 94.0L541.0 94.4L541.8 94.9L542.6 95.3L543.4 95.7L544.2 96.0L545.1 96.4L545.9 96.8L546.7 97.1L547.5 97.5L548.3 97.8L549.1 98.1L549.9 98.4L550.7 98.7L551.5 99.0L552.3 99.3L553.2 99.5L554.0 99.8L554.8 100.1L555.6 100.4L556.4 100.6L557.2 100.9L558.0 101.1L558.8 101.3L559.6 101.6L560.5 101.8L561.3 102.0L562.1 102.2L562.9 102.5L563.7 102.7L564.5 102.9L565.3 103.1L566.1 103.2L566.9 103.4L567.8 103.6L568.6 103.8L569.4 104.0L570.2 104.2L571.0 104.3L571.8 104.5L572.6 104.7L573.4 104.8L574.2 105.0L575.1 105.2L575.9 105.3L576.7 105.5L577.5 105.6L578.3 105.8L579.1 105.9L579.9 106.1L580.7 106.2L581.5 106.4L582.3 106.5L583.2 106.6L584.0 106.8L584.8 106.9L585.6 107.0L586.4 107.1L587.2 107.2L588.0 107.3L588.8 107.4L589.6 107.6L590.5 107.6L591.3 107.7L592.1 107.8L592.9 107.9L593.7 108.0L594.5 108.1L595.3 108.2L596.1 108.3L596.9 108.3L597.8 108.4L598.6 108.5L599.4 108.6L600.2 108.6L601.0 108.7L601.8 108.8L602.6 108.8L603.4 108.9L604.2 109.0L605.1 109.0L605.9 109.1L606.7 109.2L607.5 109.2L608.3 109.3L609.1 109.3L609.9 109.4L610.7 109.5L611.5 109.5L612.3 109.6L613.2 109.6L614.0 109.7L614.8 109.7L615.6 109.8L616.4 109.8L617.2 109.9L618.0 109.9L618.8 109.9L619.6 110.0L620.5 110.0L621.3 110.1L622.1 110.1L622.9 110.2L623.7 110.2L624.5 110.2L625.3 110.3L626.1 110.3L626.9 110.4L627.8 110.4L628.6 110.4L629.4 110.5L630.2 110.5L631.0 110.6L631.8 110.6L632.6 110.6L633.4 110.7L634.2 110.7L635.1 110.7L635.9 110.8L636.7 110.8L637.5 110.8L638.3 110.9L639.1 110.9L639.9 110.9L640.7 111.0L641.5 111.0L642.3 111.0L643.2 111.0L644.0 111.1L644.8 111.1L645.6 111.1L646.4 111.2L647.2 111.2L648.0 111.2L648.8 111.2L649.6 111.2L650.5 111.3L651.3 111.3L652.1 111.3L652.9 111.3L653.7 111.4L654.5 111.4L655.3 111.4L656.1 111.4L656.9 111.4L657.8 111.4L658.6 111.5L659.4 111.5L660.2 111.5L661.0 111.5L661.8 111.5L662.6 111.5L663.4 111.6L664.2 111.6L665.1 111.6L665.9 111.6L666.7 111.6L667.5 111.6L668.3 111.7L669.1 111.7L669.9 111.7L670.7 111.7L671.5 111.7L672.3 111.7L673.2 111.7L674.0 111.7L674.8 111.8L675.6 111.8L676.4 111.8L677.2 111.8L678.0 111.8L678.8 111.8L679.6 111.8L680.5 111.8L681.3 111.8L682.1 111.8L682.9 111.8L683.7 111.8L683.7 112.2Z" fill="#4C72B0" fill-opacity="0.40" stroke="none"/>
<path d="M473.7 107.3L474.5 106.3L475.3 104.9L476.1 103.2L476.9 101.3L477.8 99.2L478.6 96.8L479.4 94.3L480.2 91.6L481.0 88.6L481.8 85.4L482.6 82.1L483.4 78.8L484.2 75.5L485.1 72.5L485.9 69.7L486.7 67.2L487.5 65.0L488.3 62.9L489.1 61.1L489.9 59.5L490.7 58.1L491.5 56.9L492.3 56.0L493.2 55.2L494.0 54.7L494.8 54.3L495.6 54.1L496.4 54.1L497.2 54.2L498.0 54.5L498.8 54.9L499.6 55.4L500.5 56.1L501.3 56.9L502.1 57.8L502.9 58.8L503.7 59.8L504.5 60.8L505.3 61.8L506.1 62.9L506.9 63.9L507.8 65.0L508.6 66.0L509.4 67.0L510.2 68.1L511.0 69.1L511.8 70.0L512.6 71.0L513.4 71.9L514.2 72.8L515.1 73.7L515.9 74.6L516.7 75.4L517.5 76.2L518.3 77.1L519.1 77.9L519.9 78.6L520.7 79.4L521.5 80.2L522.3 80.9L523.2 81.6L524.0 82.4L524.8 83.1L525.6 83.8L526.4 84.4L527.2 85.1L528.0 85.8L528.8 86.5L529.6 87.1L530.5 87.7L531.3 88.3L532.1 89.0L532.9 89.5L533.7 90.1L534.5 90.6L535.3 91.2L536.1 91.7L536.9 92.2L537.8 92.6L538.6 93.1L539.4 93.6L540.2 94.0L541.0 94.4L541.8 94.9L542.6 95.3L543.4 95.7L544.2 96.0L545.1 96.4L545.9 96.8L546.7 97.1L547.5 97.5L548.3 97.8L549.1 98.1L549.9 98.4L550.7 98.7L551.5 99.0L552.3 99.3L553.2 99.5L554.0 99.8L554.8 100.1L555.6 100.4L556.4 100.6L557.2 100.9L558.0 101.1L558.8 101.3L559.6 101.6L560.5 101.8L561.3 102.0L562.1 102.2L562.9 102.5L563.7 102.7L564.5 102.9L565.3 103.1L566.1 103.2L566.9 103.4L567.8 103.6L568.6 103.8L569.4 104.0L570.2 104.2L571.0 104.3L571.8 104.5L572.6 104.7L573.4 104.8L574.2 105.0L575.1 105.2L575.9 105.3L576.7 105.5L577.5 105.6L578.3 105.8L579.1 105.9L579.9 106.1L580.7 106.2L581.5 106.4L582.3 106.5L583.2 106.6L584.0 106.8L584.8 106.9L585.6 107.0L586.4 107.1L587.2 107.2L588.0 107.3L588.8 107.4L589.6 107.6L590.5 107.6L591.3 107.7L592.1 107.8L592.9 107.9L593.7 108.0L594.5 108.1L595.3 108.2L596.1 108.3L596.9 108.3L597.8 108.4L598.6 108.5L599.4 108.6L600.2 108.6L601.0 108.7L601.8 108.8L602.6 108.8L603.4 108.9L604.2 109.0L605.1 109.0L605.9 109.1L606.7 109.2L607.5 109.2L608.3 109.3L609.1 109.3L609.9 109.4L610.7 109.5L611.5 109.5L612.3 109.6L613.2 109.6L614.0 109.7L614.8 109.7L615.6 109.8L616.4 109.8L617.2 109.9L618.0 109.9L618.8 109.9L619.6 110.0L620.5 110.0L621.3 110.1L622.1 110.1L622.9 110.2L623.7 110.2L624.5 110.2L625.3 110.3L626.1 110.3L626.9 110.4L627.8 110.4L628.6 110.4L629.4 110.5L630.2 110.5L631.0 110.6L631.8 110.6L632.6 110.6L633.4 110.7L634.2 110.7L635.1 110.7L635.9 110.8L636.7 110.8L637.5 110.8L638.3 110.9L639.1 110.9L639.9 110.9L640.7 111.0L641.5 111.0L642.3 111.0L643.2 111.0L644.0 111.1L644.8 111.1L645.6 111.1L646.4 111.2L647.2 111.2L648.0 111.2L648.8 111.2L649.6 111.2L650.5 111.3L651.3 111.3L652.1 111.3L652.9 111.3L653.7 111.4L654.5 111.4L655.3 111.4L656.1 111.4L656.9 111.4L657.8 111.4L658.6 111.5L659.4 111.5L660.2 111.5L661.0 111.5L661.8 111.5L662.6 111.5L663.4 111.6L664.2 111.6L665.1 111.6L665.9 111.6L666.7 111.6L667.5 111.6L668.3 111.7L669.1 111.7L669.9 111.7L670.7 111.7L671.5 111.7L672.3 111.7L673.2 111.7L674.0 111.7L674.8 111.8L675.6 111.8L676.4 111.8L677.2 111.8L678.0 111.8L678.8 111.8L679.6 111.8L680.5 111.8L681.3 111.8L682.1 111.8L682.9 111.8L683.7 111.8" fill="none" stroke="#4C72B0" stroke-width="0.5" stroke-opacity="0.85" stroke-linejoin="round"/>
<path d="M473.7 112.2L473.7 106.0L474.5 104.9L475.3 103.4L476.1 101.5L476.9 99.2L477.8 96.5L478.6 93.4L479.4 90.0L480.2 86.4L481.0 82.5L481.8 78.6L482.6 75.0L483.4 71.6L484.2 68.8L485.1 66.3L485.9 64.2L486.7 62.5L487.5 61.0L488.3 59.8L489.1 58.8L489.9 58.0L490.7 57.3L491.5 56.7L492.3 56.3L493.2 56.0L494.0 55.8L494.8 55.8L495.6 55.9L496.4 56.1L497.2 56.5L498.0 56.9L498.8 57.5L499.6 58.2L500.5 59.0L501.3 59.9L502.1 60.9L502.9 62.0L503.7 63.2L504.5 64.4L505.3 65.6L506.1 66.8L506.9 67.9L507.8 69.1L508.6 70.2L509.4 71.2L510.2 72.2L511.0 73.1L511.8 73.9L512.6 74.8L513.4 75.6L514.2 76.4L515.1 77.2L515.9 78.0L516.7 78.8L517.5 79.6L518.3 80.3L519.1 81.0L519.9 81.8L520.7 82.5L521.5 83.1L522.3 83.8L523.2 84.4L524.0 85.1L524.8 85.6L525.6 86.2L526.4 86.8L527.2 87.3L528.0 87.9L528.8 88.4L529.6 88.9L530.5 89.4L531.3 89.9L532.1 90.4L532.9 90.8L533.7 91.3L534.5 91.7L535.3 92.2L536.1 92.6L536.9 93.0L537.8 93.4L538.6 93.9L539.4 94.3L540.2 94.7L541.0 95.0L541.8 95.4L542.6 95.8L543.4 96.2L544.2 96.5L545.1 96.8L545.9 97.2L546.7 97.5L547.5 97.8L548.3 98.1L549.1 98.4L549.9 98.6L550.7 98.9L551.5 99.1L552.3 99.4L553.2 99.6L554.0 99.9L554.8 100.1L555.6 100.3L556.4 100.6L557.2 100.8L558.0 101.0L558.8 101.2L559.6 101.4L560.5 101.6L561.3 101.8L562.1 102.0L562.9 102.2L563.7 102.4L564.5 102.6L565.3 102.8L566.1 102.9L566.9 103.1L567.8 103.3L568.6 103.5L569.4 103.7L570.2 103.8L571.0 104.0L571.8 104.2L572.6 104.4L573.4 104.5L574.2 104.7L575.1 104.9L575.9 105.0L576.7 105.2L577.5 105.4L578.3 105.5L579.1 105.7L579.9 105.8L580.7 106.0L581.5 106.1L582.3 106.3L583.2 106.4L584.0 106.5L584.8 106.7L585.6 106.8L586.4 106.9L587.2 107.0L588.0 107.1L588.8 107.3L589.6 107.4L590.5 107.5L591.3 107.6L592.1 107.6L592.9 107.7L593.7 107.8L594.5 107.9L595.3 108.0L596.1 108.1L596.9 108.2L597.8 108.2L598.6 108.3L599.4 108.4L600.2 108.5L601.0 108.5L601.8 108.6L602.6 108.7L603.4 108.7L604.2 108.8L605.1 108.9L605.9 108.9L606.7 109.0L607.5 109.0L608.3 109.1L609.1 109.2L609.9 109.2L610.7 109.3L611.5 109.3L612.3 109.4L613.2 109.4L614.0 109.5L614.8 109.5L615.6 109.6L616.4 109.6L617.2 109.7L618.0 109.7L618.8 109.8L619.6 109.8L620.5 109.8L621.3 109.9L622.1 109.9L622.9 110.0L623.7 110.0L624.5 110.1L625.3 110.1L626.1 110.1L626.9 110.2L627.8 110.2L628.6 110.3L629.4 110.3L630.2 110.3L631.0 110.4L631.8 110.4L632.6 110.4L633.4 110.5L634.2 110.5L635.1 110.5L635.9 110.6L636.7 110.6L637.5 110.6L638.3 110.7L639.1 110.7L639.9 110.7L640.7 110.8L641.5 110.8L642.3 110.8L643.2 110.9L644.0 110.9L644.8 110.9L645.6 110.9L646.4 111.0L647.2 111.0L648.0 111.0L648.8 111.0L649.6 111.1L650.5 111.1L651.3 111.1L652.1 111.1L652.9 111.1L653.7 111.2L654.5 111.2L655.3 111.2L656.1 111.2L656.9 111.2L657.8 111.3L658.6 111.3L659.4 111.3L660.2 111.3L661.0 111.3L661.8 111.4L662.6 111.4L663.4 111.4L664.2 111.4L665.1 111.4L665.9 111.5L666.7 111.5L667.5 111.5L668.3 111.5L669.1 111.5L669.9 111.5L670.7 111.5L671.5 111.6L672.3 111.6L673.2 111.6L674.0 111.6L674.8 111.6L675.6 111.6L676.4 111.6L677.2 111.6L678.0 111.7L678.8 111.7L679.6 111.7L680.5 111.7L681.3 111.7L682.1 111.7L682.9 111.7L683.7 111.7L683.7 112.2Z" fill="#DD8452" fill-opacity="0.40" stroke="none"/>
<path d="M473.7 106.0L474.5 104.9L475.3 103.4L476.1 101.5L476.9 99.2L477.8 96.5L478.6 93.4L479.4 90.0L480.2 86.4L481.0 82.5L481.8 78.6L482.6 75.0L483.4 71.6L484.2 68.8L485.1 66.3L485.9 64.2L486.7 62.5L487.5 61.0L488.3 59.8L489.1 58.8L489.9 58.0L490.7 57.3L491.5 56.7L492.3 56.3L493.2 56.0L494.0 55.8L494.8 55.8L495.6 55.9L496.4 56.1L497.2 56.5L498.0 56.9L498.8 57.5L499.6 58.2L500.5 59.0L501.3 59.9L502.1 60.9L502.9 62.0L503.7 63.2L504.5 64.4L505.3 65.6L506.1 66.8L506.9 67.9L507.8 69.1L508.6 70.2L509.4 71.2L510.2 72.2L511.0 73.1L511.8 73.9L512.6 74.8L513.4 75.6L514.2 76.4L515.1 77.2L515.9 78.0L516.7 78.8L517.5 79.6L518.3 80.3L519.1 81.0L519.9 81.8L520.7 82.5L521.5 83.1L522.3 83.8L523.2 84.4L524.0 85.1L524.8 85.6L525.6 86.2L526.4 86.8L527.2 87.3L528.0 87.9L528.8 88.4L529.6 88.9L530.5 89.4L531.3 89.9L532.1 90.4L532.9 90.8L533.7 91.3L534.5 91.7L535.3 92.2L536.1 92.6L536.9 93.0L537.8 93.4L538.6 93.9L539.4 94.3L540.2 94.7L541.0 95.0L541.8 95.4L542.6 95.8L543.4 96.2L544.2 96.5L545.1 96.8L545.9 97.2L546.7 97.5L547.5 97.8L548.3 98.1L549.1 98.4L549.9 98.6L550.7 98.9L551.5 99.1L552.3 99.4L553.2 99.6L554.0 99.9L554.8 100.1L555.6 100.3L556.4 100.6L557.2 100.8L558.0 101.0L558.8 101.2L559.6 101.4L560.5 101.6L561.3 101.8L562.1 102.0L562.9 102.2L563.7 102.4L564.5 102.6L565.3 102.8L566.1 102.9L566.9 103.1L567.8 103.3L568.6 103.5L569.4 103.7L570.2 103.8L571.0 104.0L571.8 104.2L572.6 104.4L573.4 104.5L574.2 104.7L575.1 104.9L575.9 105.0L576.7 105.2L577.5 105.4L578.3 105.5L579.1 105.7L579.9 105.8L580.7 106.0L581.5 106.1L582.3 106.3L583.2 106.4L584.0 106.5L584.8 106.7L585.6 106.8L586.4 106.9L587.2 107.0L588.0 107.1L588.8 107.3L589.6 107.4L590.5 107.5L591.3 107.6L592.1 107.6L592.9 107.7L593.7 107.8L594.5 107.9L595.3 108.0L596.1 108.1L596.9 108.2L597.8 108.2L598.6 108.3L599.4 108.4L600.2 108.5L601.0 108.5L601.8 108.6L602.6 108.7L603.4 108.7L604.2 108.8L605.1 108.9L605.9 108.9L606.7 109.0L607.5 109.0L608.3 109.1L609.1 109.2L609.9 109.2L610.7 109.3L611.5 109.3L612.3 109.4L613.2 109.4L614.0 109.5L614.8 109.5L615.6 109.6L616.4 109.6L617.2 109.7L618.0 109.7L618.8 109.8L619.6 109.8L620.5 109.8L621.3 109.9L622.1 109.9L622.9 110.0L623.7 110.0L624.5 110.1L625.3 110.1L626.1 110.1L626.9 110.2L627.8 110.2L628.6 110.3L629.4 110.3L630.2 110.3L631.0 110.4L631.8 110.4L632.6 110.4L633.4 110.5L634.2 110.5L635.1 110.5L635.9 110.6L636.7 110.6L637.5 110.6L638.3 110.7L639.1 110.7L639.9 110.7L640.7 110.8L641.5 110.8L642.3 110.8L643.2 110.9L644.0 110.9L644.8 110.9L645.6 110.9L646.4 111.0L647.2 111.0L648.0 111.0L648.8 111.0L649.6 111.1L650.5 111.1L651.3 111.1L652.1 111.1L652.9 111.1L653.7 111.2L654.5 111.2L655.3 111.2L656.1 111.2L656.9 111.2L657.8 111.3L658.6 111.3L659.4 111.3L660.2 111.3L661.0 111.3L661.8 111.4L662.6 111.4L663.4 111.4L664.2 111.4L665.1 111.4L665.9 111.5L666.7 111.5L667.5 111.5L668.3 111.5L669.1 111.5L669.9 111.5L670.7 111.5L671.5 111.6L672.3 111.6L673.2 111.6L674.0 111.6L674.8 111.6L675.6 111.6L676.4 111.6L677.2 111.6L678.0 111.7L678.8 111.7L679.6 111.7L680.5 111.7L681.3 111.7L682.1 111.7L682.9 111.7L683.7 111.7" fill="none" stroke="#DD8452" stroke-width="0.5" stroke-opacity="0.85" stroke-linejoin="round"/>
<path d="M473.7 112.2L473.7 107.9L474.5 107.0L475.3 105.7L476.1 104.1L476.9 102.3L477.8 100.3L478.6 98.1L479.4 95.6L480.2 93.0L481.0 90.2L481.8 87.1L482.6 83.9L483.4 80.6L484.2 77.3L485.1 74.3L485.9 71.5L486.7 69.1L487.5 66.8L488.3 64.8L489.1 62.9L489.9 61.3L490.7 59.9L491.5 58.8L492.3 57.8L493.2 57.1L494.0 56.5L494.8 56.1L495.6 55.8L496.4 55.7L497.2 55.6L498.0 55.7L498.8 55.9L499.6 56.1L500.5 56.5L501.3 57.1L502.1 57.8L502.9 58.6L503.7 59.5L504.5 60.3L505.3 61.2L506.1 62.1L506.9 63.0L507.8 63.9L508.6 64.9L509.4 65.8L510.2 66.7L511.0 67.7L511.8 68.6L512.6 69.5L513.4 70.4L514.2 71.3L515.1 72.1L515.9 73.0L516.7 73.8L517.5 74.6L518.3 75.5L519.1 76.3L519.9 77.0L520.7 77.8L521.5 78.6L522.3 79.4L523.2 80.1L524.0 80.8L524.8 81.6L525.6 82.3L526.4 83.0L527.2 83.8L528.0 84.5L528.8 85.2L529.6 85.9L530.5 86.5L531.3 87.2L532.1 87.8L532.9 88.5L533.7 89.1L534.5 89.7L535.3 90.2L536.1 90.8L536.9 91.3L537.8 91.8L538.6 92.3L539.4 92.8L540.2 93.2L541.0 93.7L541.8 94.1L542.6 94.6L543.4 95.0L544.2 95.4L545.1 95.8L545.9 96.1L546.7 96.5L547.5 96.8L548.3 97.2L549.1 97.5L549.9 97.8L550.7 98.1L551.5 98.4L552.3 98.6L553.2 98.9L554.0 99.2L554.8 99.4L555.6 99.7L556.4 99.9L557.2 100.2L558.0 100.4L558.8 100.6L559.6 100.9L560.5 101.1L561.3 101.3L562.1 101.5L562.9 101.7L563.7 101.9L564.5 102.1L565.3 102.3L566.1 102.5L566.9 102.7L567.8 102.9L568.6 103.1L569.4 103.3L570.2 103.5L571.0 103.7L571.8 103.8L572.6 104.0L573.4 104.2L574.2 104.4L575.1 104.6L575.9 104.7L576.7 104.9L577.5 105.1L578.3 105.2L579.1 105.4L579.9 105.6L580.7 105.7L581.5 105.9L582.3 106.0L583.2 106.2L584.0 106.3L584.8 106.4L585.6 106.6L586.4 106.7L587.2 106.8L588.0 106.9L588.8 107.1L589.6 107.2L590.5 107.3L591.3 107.4L592.1 107.5L592.9 107.6L593.7 107.7L594.5 107.7L595.3 107.8L596.1 107.9L596.9 108.0L597.8 108.1L598.6 108.2L599.4 108.2L600.2 108.3L601.0 108.4L601.8 108.5L602.6 108.5L603.4 108.6L604.2 108.7L605.1 108.8L605.9 108.8L606.7 108.9L607.5 108.9L608.3 109.0L609.1 109.1L609.9 109.1L610.7 109.2L611.5 109.2L612.3 109.3L613.2 109.4L614.0 109.4L614.8 109.5L615.6 109.5L616.4 109.6L617.2 109.6L618.0 109.7L618.8 109.7L619.6 109.8L620.5 109.8L621.3 109.8L622.1 109.9L622.9 109.9L623.7 110.0L624.5 110.0L625.3 110.1L626.1 110.1L626.9 110.2L627.8 110.2L628.6 110.2L629.4 110.3L630.2 110.3L631.0 110.4L631.8 110.4L632.6 110.4L633.4 110.5L634.2 110.5L635.1 110.5L635.9 110.6L636.7 110.6L637.5 110.7L638.3 110.7L639.1 110.7L639.9 110.8L640.7 110.8L641.5 110.8L642.3 110.9L643.2 110.9L644.0 110.9L644.8 110.9L645.6 111.0L646.4 111.0L647.2 111.0L648.0 111.1L648.8 111.1L649.6 111.1L650.5 111.1L651.3 111.2L652.1 111.2L652.9 111.2L653.7 111.2L654.5 111.3L655.3 111.3L656.1 111.3L656.9 111.3L657.8 111.3L658.6 111.4L659.4 111.4L660.2 111.4L661.0 111.4L661.8 111.4L662.6 111.5L663.4 111.5L664.2 111.5L665.1 111.5L665.9 111.5L666.7 111.6L667.5 111.6L668.3 111.6L669.1 111.6L669.9 111.6L670.7 111.6L671.5 111.7L672.3 111.7L673.2 111.7L674.0 111.7L674.8 111.7L675.6 111.7L676.4 111.7L677.2 111.8L678.0 111.8L678.8 111.8L679.6 111.8L680.5 111.8L681.3 111.8L682.1 111.8L682.9 111.8L683.7 111.8L683.7 112.2Z" fill="#55A868" fill-opacity="0.40" stroke="none"/>
<path d="M473.7 107.9L474.5 107.0L475.3 105.7L476.1 104.1L476.9 102.3L477.8 100.3L478.6 98.1L479.4 95.6L480.2 93.0L481.0 90.2L481.8 87.1L482.6 83.9L483.4 80.6L484.2 77.3L485.1 74.3L485.9 71.5L486.7 69.1L487.5 66.8L488.3 64.8L489.1 62.9L489.9 61.3L490.7 59.9L491.5 58.8L492.3 57.8L493.2 57.1L494.0 56.5L494.8 56.1L495.6 55.8L496.4 55.7L497.2 55.6L498.0 55.7L498.8 55.9L499.6 56.1L500.5 56.5L501.3 57.1L502.1 57.8L502.9 58.6L503.7 59.5L504.5 60.3L505.3 61.2L506.1 62.1L506.9 63.0L507.8 63.9L508.6 64.9L509.4 65.8L510.2 66.7L511.0 67.7L511.8 68.6L512.6 69.5L513.4 70.4L514.2 71.3L515.1 72.1L515.9 73.0L516.7 73.8L517.5 74.6L518.3 75.5L519.1 76.3L519.9 77.0L520.7 77.8L521.5 78.6L522.3 79.4L523.2 80.1L524.0 80.8L524.8 81.6L525.6 82.3L526.4 83.0L527.2 83.8L528.0 84.5L528.8 85.2L529.6 85.9L530.5 86.5L531.3 87.2L532.1 87.8L532.9 88.5L533.7 89.1L534.5 89.7L535.3 90.2L536.1 90.8L536.9 91.3L537.8 91.8L538.6 92.3L539.4 92.8L540.2 93.2L541.0 93.7L541.8 94.1L542.6 94.6L543.4 95.0L544.2 95.4L545.1 95.8L545.9 96.1L546.7 96.5L547.5 96.8L548.3 97.2L549.1 97.5L549.9 97.8L550.7 98.1L551.5 98.4L552.3 98.6L553.2 98.9L554.0 99.2L554.8 99.4L555.6 99.7L556.4 99.9L557.2 100.2L558.0 100.4L558.8 100.6L559.6 100.9L560.5 101.1L561.3 101.3L562.1 101.5L562.9 101.7L563.7 101.9L564.5 102.1L565.3 102.3L566.1 102.5L566.9 102.7L567.8 102.9L568.6 103.1L569.4 103.3L570.2 103.5L571.0 103.7L571.8 103.8L572.6 104.0L573.4 104.2L574.2 104.4L575.1 104.6L575.9 104.7L576.7 104.9L577.5 105.1L578.3 105.2L579.1 105.4L579.9 105.6L580.7 105.7L581.5 105.9L582.3 106.0L583.2 106.2L584.0 106.3L584.8 106.4L585.6 106.6L586.4 106.7L587.2 106.8L588.0 106.9L588.8 107.1L589.6 107.2L590.5 107.3L591.3 107.4L592.1 107.5L592.9 107.6L593.7 107.7L594.5 107.7L595.3 107.8L596.1 107.9L596.9 108.0L597.8 108.1L598.6 108.2L599.4 108.2L600.2 108.3L601.0 108.4L601.8 108.5L602.6 108.5L603.4 108.6L604.2 108.7L605.1 108.8L605.9 108.8L606.7 108.9L607.5 108.9L608.3 109.0L609.1 109.1L609.9 109.1L610.7 109.2L611.5 109.2L612.3 109.3L613.2 109.4L614.0 109.4L614.8 109.5L615.6 109.5L616.4 109.6L617.2 109.6L618.0 109.7L618.8 109.7L619.6 109.8L620.5 109.8L621.3 109.8L622.1 109.9L622.9 109.9L623.7 110.0L624.5 110.0L625.3 110.1L626.1 110.1L626.9 110.2L627.8 110.2L628.6 110.2L629.4 110.3L630.2 110.3L631.0 110.4L631.8 110.4L632.6 110.4L633.4 110.5L634.2 110.5L635.1 110.5L635.9 110.6L636.7 110.6L637.5 110.7L638.3 110.7L639.1 110.7L639.9 110.8L640.7 110.8L641.5 110.8L642.3 110.9L643.2 110.9L644.0 110.9L644.8 110.9L645.6 111.0L646.4 111.0L647.2 111.0L648.0 111.1L648.8 111.1L649.6 111.1L650.5 111.1L651.3 111.2L652.1 111.2L652.9 111.2L653.7 111.2L654.5 111.3L655.3 111.3L656.1 111.3L656.9 111.3L657.8 111.3L658.6 111.4L659.4 111.4L660.2 111.4L661.0 111.4L661.8 111.4L662.6 111.5L663.4 111.5L664.2 111.5L665.1 111.5L665.9 111.5L666.7 111.6L667.5 111.6L668.3 111.6L669.1 111.6L669.9 111.6L670.7 111.6L671.5 111.7L672.3 111.7L673.2 111.7L674.0 111.7L674.8 111.7L675.6 111.7L676.4 111.7L677.2 111.8L678.0 111.8L678.8 111.8L679.6 111.8L680.5 111.8L681.3 111.8L682.1 111.8L682.9 111.8L683.7 111.8" fill="none" stroke="#55A868" stroke-width="0.5" stroke-opacity="0.85" stroke-linejoin="round"/>
<path d="M473.7 112.2L473.7 103.5L474.5 102.2L475.3 100.1L476.1 97.2L476.9 93.3L477.8 88.5L478.6 82.8L479.4 76.1L480.2 68.8L481.0 61.2L481.8 54.0L482.6 47.4L483.4 41.3L484.2 35.7L485.1 30.6L485.9 25.8L486.7 21.5L487.5 17.9L488.3 15.0L489.1 13.0L489.9 11.9L490.7 11.6L491.5 12.3L492.3 13.7L493.2 16.0L494.0 18.9L494.8 22.4L495.6 26.3L496.4 30.7L497.2 35.4L498.0 40.2L498.8 45.1L499.6 49.7L500.5 54.0L501.3 57.9L502.1 61.4L502.9 64.4L503.7 67.2L504.5 69.7L505.3 72.0L506.1 74.1L506.9 76.2L507.8 78.1L508.6 80.0L509.4 81.8L510.2 83.5L511.0 85.1L511.8 86.6L512.6 87.9L513.4 89.2L514.2 90.4L515.1 91.5L515.9 92.5L516.7 93.5L517.5 94.4L518.3 95.2L519.1 96.0L519.9 96.7L520.7 97.4L521.5 98.0L522.3 98.6L523.2 99.2L524.0 99.7L524.8 100.2L525.6 100.7L526.4 101.1L527.2 101.5L528.0 101.8L528.8 102.2L529.6 102.5L530.5 102.7L531.3 103.0L532.1 103.2L532.9 103.5L533.7 103.7L534.5 103.9L535.3 104.1L536.1 104.2L536.9 104.4L537.8 104.6L538.6 104.7L539.4 104.9L540.2 105.0L541.0 105.2L541.8 105.3L542.6 105.4L543.4 105.5L544.2 105.7L545.1 105.8L545.9 105.9L546.7 106.0L547.5 106.1L548.3 106.2L549.1 106.3L549.9 106.3L550.7 106.4L551.5 106.5L552.3 106.6L553.2 106.7L554.0 106.8L554.8 106.8L555.6 106.9L556.4 107.0L557.2 107.1L558.0 107.1L558.8 107.2L559.6 107.3L560.5 107.3L561.3 107.4L562.1 107.4L562.9 107.5L563.7 107.6L564.5 107.6L565.3 107.7L566.1 107.7L566.9 107.8L567.8 107.8L568.6 107.9L569.4 108.0L570.2 108.0L571.0 108.1L571.8 108.1L572.6 108.2L573.4 108.2L574.2 108.3L575.1 108.3L575.9 108.3L576.7 108.4L577.5 108.4L578.3 108.5L579.1 108.5L579.9 108.6L580.7 108.6L581.5 108.7L582.3 108.7L583.2 108.7L584.0 108.8L584.8 108.8L585.6 108.8L586.4 108.9L587.2 108.9L588.0 109.0L588.8 109.0L589.6 109.0L590.5 109.1L591.3 109.1L592.1 109.1L592.9 109.2L593.7 109.2L594.5 109.2L595.3 109.2L596.1 109.3L596.9 109.3L597.8 109.3L598.6 109.4L599.4 109.4L600.2 109.4L601.0 109.4L601.8 109.5L602.6 109.5L603.4 109.5L604.2 109.5L605.1 109.6L605.9 109.6L606.7 109.6L607.5 109.6L608.3 109.7L609.1 109.7L609.9 109.7L610.7 109.7L611.5 109.8L612.3 109.8L613.2 109.8L614.0 109.8L614.8 109.9L615.6 109.9L616.4 109.9L617.2 109.9L618.0 109.9L618.8 110.0L619.6 110.0L620.5 110.0L621.3 110.0L622.1 110.0L622.9 110.1L623.7 110.1L624.5 110.1L625.3 110.1L626.1 110.1L626.9 110.2L627.8 110.2L628.6 110.2L629.4 110.2L630.2 110.2L631.0 110.2L631.8 110.3L632.6 110.3L633.4 110.3L634.2 110.3L635.1 110.3L635.9 110.3L636.7 110.3L637.5 110.4L638.3 110.4L639.1 110.4L639.9 110.4L640.7 110.4L641.5 110.4L642.3 110.4L643.2 110.5L644.0 110.5L644.8 110.5L645.6 110.5L646.4 110.5L647.2 110.5L648.0 110.5L648.8 110.6L649.6 110.6L650.5 110.6L651.3 110.6L652.1 110.6L652.9 110.6L653.7 110.6L654.5 110.6L655.3 110.6L656.1 110.6L656.9 110.7L657.8 110.7L658.6 110.7L659.4 110.7L660.2 110.7L661.0 110.7L661.8 110.7L662.6 110.7L663.4 110.7L664.2 110.7L665.1 110.8L665.9 110.8L666.7 110.8L667.5 110.8L668.3 110.8L669.1 110.8L669.9 110.8L670.7 110.8L671.5 110.8L672.3 110.8L673.2 110.8L674.0 110.8L674.8 110.9L675.6 110.9L676.4 110.9L677.2 110.9L678.0 110.9L678.8 110.9L679.6 110.9L680.5 110.9L681.3 110.9L682.1 110.9L682.9 110.9L683.7 110.9L683.7 112.2Z" fill="#C44E52" fill-opacity="0.40" stroke="none"/>
<path d="M473.7 103.5L474.5 102.2L475.3 100.1L476.1 97.2L476.9 93.3L477.8 88.5L478.6 82.8L479.4 76.1L480.2 68.8L481.0 61.2L481.8 54.0L482.6 47.4L483.4 41.3L484.2 35.7L485.1 30.6L485.9 25.8L486.7 21.5L487.5 17.9L488.3 15.0L489.1 13.0L489.9 11.9L490.7 11.6L491.5 12.3L492.3 13.7L493.2 16.0L494.0 18.9L494.8 22.4L495.6 26.3L496.4 30.7L497.2 35.4L498.0 40.2L498.8 45.1L499.6 49.7L500.5 54.0L501.3 57.9L502.1 61.4L502.9 64.4L503.7 67.2L504.5 69.7L505.3 72.0L506.1 74.1L506.9 76.2L507.8 78.1L508.6 80.0L509.4 81.8L510.2 83.5L511.0 85.1L511.8 86.6L512.6 87.9L513.4 89.2L514.2 90.4L515.1 91.5L515.9 92.5L516.7 93.5L517.5 94.4L518.3 95.2L519.1 96.0L519.9 96.7L520.7 97.4L521.5 98.0L522.3 98.6L523.2 99.2L524.0 99.7L524.8 100.2L525.6 100.7L526.4 101.1L527.2 101.5L528.0 101.8L528.8 102.2L529.6 102.5L530.5 102.7L531.3 103.0L532.1 103.2L532.9 103.5L533.7 103.7L534.5 103.9L535.3 104.1L536.1 104.2L536.9 104.4L537.8 104.6L538.6 104.7L539.4 104.9L540.2 105.0L541.0 105.2L541.8 105.3L542.6 105.4L543.4 105.5L544.2 105.7L545.1 105.8L545.9 105.9L546.7 106.0L547.5 106.1L548.3 106.2L549.1 106.3L549.9 106.3L550.7 106.4L551.5 106.5L552.3 106.6L553.2 106.7L554.0 106.8L554.8 106.8L555.6 106.9L556.4 107.0L557.2 107.1L558.0 107.1L558.8 107.2L559.6 107.3L560.5 107.3L561.3 107.4L562.1 107.4L562.9 107.5L563.7 107.6L564.5 107.6L565.3 107.7L566.1 107.7L566.9 107.8L567.8 107.8L568.6 107.9L569.4 108.0L570.2 108.0L571.0 108.1L571.8 108.1L572.6 108.2L573.4 108.2L574.2 108.3L575.1 108.3L575.9 108.3L576.7 108.4L577.5 108.4L578.3 108.5L579.1 108.5L579.9 108.6L580.7 108.6L581.5 108.7L582.3 108.7L583.2 108.7L584.0 108.8L584.8 108.8L585.6 108.8L586.4 108.9L587.2 108.9L588.0 109.0L588.8 109.0L589.6 109.0L590.5 109.1L591.3 109.1L592.1 109.1L592.9 109.2L593.7 109.2L594.5 109.2L595.3 109.2L596.1 109.3L596.9 109.3L597.8 109.3L598.6 109.4L599.4 109.4L600.2 109.4L601.0 109.4L601.8 109.5L602.6 109.5L603.4 109.5L604.2 109.5L605.1 109.6L605.9 109.6L606.7 109.6L607.5 109.6L608.3 109.7L609.1 109.7L609.9 109.7L610.7 109.7L611.5 109.8L612.3 109.8L613.2 109.8L614.0 109.8L614.8 109.9L615.6 109.9L616.4 109.9L617.2 109.9L618.0 109.9L618.8 110.0L619.6 110.0L620.5 110.0L621.3 110.0L622.1 110.0L622.9 110.1L623.7 110.1L624.5 110.1L625.3 110.1L626.1 110.1L626.9 110.2L627.8 110.2L628.6 110.2L629.4 110.2L630.2 110.2L631.0 110.2L631.8 110.3L632.6 110.3L633.4 110.3L634.2 110.3L635.1 110.3L635.9 110.3L636.7 110.3L637.5 110.4L638.3 110.4L639.1 110.4L639.9 110.4L640.7 110.4L641.5 110.4L642.3 110.4L643.2 110.5L644.0 110.5L644.8 110.5L645.6 110.5L646.4 110.5L647.2 110.5L648.0 110.5L648.8 110.6L649.6 110.6L650.5 110.6L651.3 110.6L652.1 110.6L652.9 110.6L653.7 110.6L654.5 110.6L655.3 110.6L656.1 110.6L656.9 110.7L657.8 110.7L658.6 110.7L659.4 110.7L660.2 110.7L661.0 110.7L661.8 110.7L662.6 110.7L663.4 110.7L664.2 110.7L665.1 110.8L665.9 110.8L666.7 110.8L667.5 110.8L668.3 110.8L669.1 110.8L669.9 110.8L670.7 110.8L671.5 110.8L672.3 110.8L673.2 110.8L674.0 110.8L674.8 110.9L675.6 110.9L676.4 110.9L677.2 110.9L678.0 110.9L678.8 110.9L679.6 110.9L680.5 110.9L681.3 110.9L682.1 110.9L682.9 110.9L683.7 110.9" fill="none" stroke="#C44E52" stroke-width="0.5" stroke-opacity="0.85" stroke-linejoin="round"/>
</g>
<path d="M478.70 6.50V112.20H678.50V6.50" fill="none" stroke="#e2e2e2" stroke-width="1.1"/>
<path d="M478.70 6.50H678.50" fill="none" stroke="#ececec" stroke-width="1.1"/>
<text transform="translate(478.70 120.20) scale(0.900 1.070)" text-anchor="middle" class="tk">0.00</text>
<text transform="translate(503.70 120.20) scale(0.900 1.070)" text-anchor="middle" class="tk">0.05</text>
<text transform="translate(528.70 120.20) scale(0.900 1.070)" text-anchor="middle" class="tk">0.10</text>
<text transform="translate(553.70 120.20) scale(0.900 1.070)" text-anchor="middle" class="tk">0.15</text>
<text transform="translate(578.70 120.20) scale(0.900 1.070)" text-anchor="middle" class="tk">0.20</text>
<text transform="translate(603.70 120.20) scale(0.900 1.070)" text-anchor="middle" class="tk">0.25</text>
<text transform="translate(628.70 120.20) scale(0.900 1.070)" text-anchor="middle" class="tk">0.30</text>
<text transform="translate(653.70 120.20) scale(0.900 1.070)" text-anchor="middle" class="tk">0.35</text>
<text transform="translate(678.70 120.20) scale(0.900 1.070)" text-anchor="middle" class="tk">0.40</text>
<text transform="translate(475.30 114.50) scale(0.900 1.070)" text-anchor="end" class="tk">0</text>
<text transform="translate(475.30 102.25) scale(0.900 1.070)" text-anchor="end" class="tk">2</text>
<text transform="translate(475.30 90.00) scale(0.900 1.070)" text-anchor="end" class="tk">4</text>
<text transform="translate(475.30 77.75) scale(0.900 1.070)" text-anchor="end" class="tk">6</text>
<text transform="translate(475.30 65.50) scale(0.900 1.070)" text-anchor="end" class="tk">8</text>
<text transform="translate(475.30 53.25) scale(0.900 1.070)" text-anchor="end" class="tk">10</text>
<text transform="translate(475.30 41.00) scale(0.900 1.070)" text-anchor="end" class="tk">12</text>
<text transform="translate(475.30 28.75) scale(0.900 1.070)" text-anchor="end" class="tk">14</text>
<text transform="translate(475.30 16.50) scale(0.900 1.070)" text-anchor="end" class="tk">16</text>
<text transform="translate(584.05 129.30) scale(1.020 1.190)" text-anchor="middle" class="lb">Radius (µm)</text>
<text transform="translate(466.40 59.65) rotate(-90) scale(1.120 1.000)" text-anchor="middle" class="yl">Density</text>
<text transform="translate(469.60 10.00) scale(1.000 1.120)" class="pl">c</text>
<rect x="638.40" y="10.30" width="35.90" height="46.90" rx="1.3" fill="#fff" fill-opacity="0.8" stroke="#d4d4d4" stroke-width="0.6"/>
<rect x="641.50" y="14.00" width="15.6" height="5.1" fill="#4C72B0" fill-opacity="0.40" stroke="#4C72B0" stroke-width="0.5" stroke-opacity="0.8"/>
<text transform="translate(663.20 19.45) scale(0.895 1.110)" class="lg">#1</text>
<rect x="641.50" y="25.15" width="15.6" height="5.1" fill="#DD8452" fill-opacity="0.40" stroke="#DD8452" stroke-width="0.5" stroke-opacity="0.8"/>
<text transform="translate(663.20 30.60) scale(0.895 1.110)" class="lg">#2</text>
<rect x="641.50" y="36.30" width="15.6" height="5.1" fill="#55A868" fill-opacity="0.40" stroke="#55A868" stroke-width="0.5" stroke-opacity="0.8"/>
<text transform="translate(663.20 41.75) scale(0.895 1.110)" class="lg">#3</text>
<rect x="641.50" y="47.45" width="15.6" height="5.1" fill="#C44E52" fill-opacity="0.40" stroke="#C44E52" stroke-width="0.5" stroke-opacity="0.8"/>
<text transform="translate(663.20 52.90) scale(0.895 1.110)" class="lg">#4</text>
<clipPath id="c3"><rect x="23.70" y="137.40" width="200.00" height="106.00"/></clipPath>
<path d="M63.70 137.40V243.40M103.70 137.40V243.40M143.70 137.40V243.40M183.70 137.40V243.40M23.70 221.90H223.70M23.70 200.40H223.70M23.70 178.90H223.70M23.70 157.40H223.70" stroke="#dfdfdf" stroke-width="0.7" fill="none"/>
<g clip-path="url(#c3)">
<path d="M19.7 243.4L19.7 170.3L20.2 169.7L20.7 169.1L21.2 168.5L21.7 167.8L22.2 167.2L22.7 166.6L23.2 166.0L23.7 165.4L24.2 164.4L24.7 163.4L25.2 162.4L25.7 161.4L26.2 160.4L26.6 159.4L27.1 158.4L27.6 157.4L28.1 156.4L28.6 155.5L29.1 155.8L29.6 156.0L30.1 156.3L30.6 156.6L31.1 156.9L31.6 157.1L32.1 158.2L32.6 159.3L33.1 160.5L33.6 161.7L34.1 162.9L34.6 164.1L35.1 165.3L35.6 166.5L36.1 167.6L36.6 168.8L37.1 170.0L37.6 171.2L38.1 172.4L38.6 173.7L39.1 175.1L39.6 176.4L40.1 177.8L40.5 179.1L41.0 180.5L41.5 181.8L42.0 183.2L42.5 184.5L43.0 185.5L43.5 186.5L44.0 187.5L44.5 188.4L45.0 189.4L45.5 190.4L46.0 191.3L46.5 192.3L47.0 193.3L47.5 194.2L48.0 195.2L48.5 196.2L49.0 197.1L49.5 197.7L50.0 198.3L50.5 199.0L51.0 199.6L51.5 200.2L52.0 200.8L52.5 201.4L53.0 202.0L53.5 202.6L54.0 203.2L54.4 203.8L54.9 204.5L55.4 205.1L55.9 205.8L56.4 206.4L56.9 207.1L57.4 207.7L57.9 208.4L58.4 209.0L58.9 209.7L59.4 210.3L59.9 210.9L60.4 211.5L60.9 212.0L61.4 212.5L61.9 213.0L62.4 213.5L62.9 214.0L63.4 214.5L63.9 215.0L64.4 215.5L64.9 215.9L65.4 216.4L65.9 216.8L66.4 217.2L66.9 217.7L67.4 218.1L67.9 218.5L68.3 218.9L68.8 219.3L69.3 219.7L69.8 220.1L70.3 220.5L70.8 220.8L71.3 221.2L71.8 221.5L72.3 221.9L72.8 222.2L73.3 222.5L73.8 222.8L74.3 223.1L74.8 223.4L75.3 223.7L75.8 224.0L76.3 224.3L76.8 224.6L77.3 224.9L77.8 225.1L78.3 225.4L78.8 225.7L79.3 225.9L79.8 226.2L80.3 226.5L80.8 226.7L81.3 226.9L81.8 227.2L82.2 227.4L82.7 227.7L83.2 227.9L83.7 228.1L84.2 228.3L84.7 228.6L85.2 228.8L85.7 229.0L86.2 229.2L86.7 229.4L87.2 229.6L87.7 229.8L88.2 230.0L88.7 230.1L89.2 230.3L89.7 230.5L90.2 230.7L90.7 230.8L91.2 231.0L91.7 231.2L92.2 231.3L92.7 231.5L93.2 231.7L93.7 231.8L94.2 232.0L94.7 232.1L95.2 232.3L95.7 232.4L96.1 232.6L96.6 232.7L97.1 232.9L97.6 233.0L98.1 233.2L98.6 233.3L99.1 233.4L99.6 233.6L100.1 233.7L100.6 233.8L101.1 234.0L101.6 234.1L102.1 234.2L102.6 234.3L103.1 234.4L103.6 234.6L104.1 234.7L104.6 234.8L105.1 234.9L105.6 235.0L106.1 235.1L106.6 235.2L107.1 235.3L107.6 235.4L108.1 235.5L108.6 235.6L109.1 235.7L109.6 235.7L110.0 235.8L110.5 235.9L111.0 236.0L111.5 236.1L112.0 236.1L112.5 236.2L113.0 236.3L113.5 236.4L114.0 236.4L114.5 236.5L115.0 236.6L115.5 236.7L116.0 236.7L116.5 236.8L117.0 236.9L117.5 236.9L118.0 237.0L118.5 237.1L119.0 237.1L119.5 237.2L120.0 237.3L120.5 237.3L121.0 237.4L121.5 237.4L122.0 237.5L122.5 237.6L123.0 237.6L123.5 237.7L123.9 237.7L124.4 237.8L124.9 237.9L125.4 237.9L125.9 238.0L126.4 238.0L126.9 238.1L127.4 238.1L127.9 238.2L128.4 238.2L128.9 238.3L129.4 238.3L129.9 238.4L130.4 238.4L130.9 238.5L131.4 238.5L131.9 238.6L132.4 238.6L132.9 238.7L133.4 238.7L133.9 238.8L134.4 238.8L134.9 238.9L135.4 238.9L135.9 239.0L136.4 239.0L136.9 239.1L137.4 239.1L137.8 239.1L138.3 239.2L138.8 239.2L139.3 239.3L139.8 239.3L140.3 239.4L140.8 239.4L141.3 239.4L141.8 239.5L142.3 239.5L142.8 239.6L143.3 239.6L143.8 239.6L144.3 239.7L144.8 239.7L145.3 239.8L145.8 239.8L146.3 239.8L146.8 239.9L147.3 239.9L147.8 240.0L148.3 240.0L148.8 240.0L149.3 240.1L149.8 240.1L150.3 240.2L150.8 240.2L151.3 240.2L151.7 240.3L152.2 240.3L152.7 240.4L153.2 240.4L153.7 240.4L154.2 240.5L154.7 240.5L155.2 240.5L155.7 240.6L156.2 240.6L156.7 240.7L157.2 240.7L157.7 240.7L158.2 240.8L158.7 240.8L159.2 240.8L159.7 240.9L160.2 240.9L160.7 240.9L161.2 241.0L161.7 241.0L162.2 241.0L162.7 241.1L163.2 241.1L163.7 241.1L164.2 241.2L164.7 241.2L165.2 241.2L165.6 241.3L166.1 241.3L166.6 241.3L167.1 241.4L167.6 241.4L168.1 241.4L168.6 241.5L169.1 241.5L169.6 241.5L170.1 241.5L170.6 241.6L171.1 241.6L171.6 241.6L172.1 241.7L172.6 241.7L173.1 241.7L173.6 241.7L174.1 241.8L174.6 241.8L175.1 241.8L175.6 241.8L176.1 241.8L176.6 241.9L177.1 241.9L177.6 241.9L178.1 241.9L178.6 241.9L179.1 242.0L179.5 242.0L180.0 242.0L180.5 242.0L181.0 242.0L181.5 242.0L182.0 242.1L182.5 242.1L183.0 242.1L183.5 242.1L184.0 242.1L184.5 242.1L185.0 242.1L185.5 242.2L186.0 242.2L186.5 242.2L187.0 242.2L187.5 242.2L188.0 242.2L188.5 242.2L189.0 242.2L189.5 242.3L190.0 242.3L190.5 242.3L191.0 242.3L191.5 242.3L192.0 242.3L192.5 242.3L193.0 242.3L193.4 242.3L193.9 242.4L194.4 242.4L194.9 242.4L195.4 242.4L195.9 242.4L196.4 242.4L196.9 242.4L197.4 242.4L197.9 242.4L198.4 242.5L198.9 242.5L199.4 242.5L199.9 242.5L200.4 242.5L200.9 242.5L201.4 242.5L201.9 242.5L202.4 242.5L202.9 242.5L203.4 242.6L203.9 242.6L204.4 242.6L204.9 242.6L205.4 242.6L205.9 242.6L206.4 242.6L206.9 242.6L207.3 242.6L207.8 242.6L208.3 242.6L208.8 242.6L209.3 242.7L209.8 242.7L210.3 242.7L210.8 242.7L211.3 242.7L211.8 242.7L212.3 242.7L212.8 242.7L213.3 242.7L213.8 242.7L214.3 242.7L214.8 242.7L215.3 242.7L215.8 242.7L216.3 242.7L216.8 242.7L217.3 242.7L217.8 242.8L218.3 242.8L218.8 242.8L219.3 242.8L219.8 242.8L220.3 242.8L220.8 242.8L221.2 242.8L221.7 242.8L222.2 242.8L222.7 242.8L223.2 242.8L223.7 242.8L224.2 242.8L224.7 242.8L225.2 242.8L225.7 242.8L226.2 242.8L226.7 242.8L227.2 242.8L227.7 242.8L227.7 243.4Z" fill="#4C72B0" fill-opacity="0.40" stroke="none"/>
<path d="M19.7 170.3L20.2 169.7L20.7 169.1L21.2 168.5L21.7 167.8L22.2 167.2L22.7 166.6L23.2 166.0L23.7 165.4L24.2 164.4L24.7 163.4L25.2 162.4L25.7 161.4L26.2 160.4L26.6 159.4L27.1 158.4L27.6 157.4L28.1 156.4L28.6 155.5L29.1 155.8L29.6 156.0L30.1 156.3L30.6 156.6L31.1 156.9L31.6 157.1L32.1 158.2L32.6 159.3L33.1 160.5L33.6 161.7L34.1 162.9L34.6 164.1L35.1 165.3L35.6 166.5L36.1 167.6L36.6 168.8L37.1 170.0L37.6 171.2L38.1 172.4L38.6 173.7L39.1 175.1L39.6 176.4L40.1 177.8L40.5 179.1L41.0 180.5L41.5 181.8L42.0 183.2L42.5 184.5L43.0 185.5L43.5 186.5L44.0 187.5L44.5 188.4L45.0 189.4L45.5 190.4L46.0 191.3L46.5 192.3L47.0 193.3L47.5 194.2L48.0 195.2L48.5 196.2L49.0 197.1L49.5 197.7L50.0 198.3L50.5 199.0L51.0 199.6L51.5 200.2L52.0 200.8L52.5 201.4L53.0 202.0L53.5 202.6L54.0 203.2L54.4 203.8L54.9 204.5L55.4 205.1L55.9 205.8L56.4 206.4L56.9 207.1L57.4 207.7L57.9 208.4L58.4 209.0L58.9 209.7L59.4 210.3L59.9 210.9L60.4 211.5L60.9 212.0L61.4 212.5L61.9 213.0L62.4 213.5L62.9 214.0L63.4 214.5L63.9 215.0L64.4 215.5L64.9 215.9L65.4 216.4L65.9 216.8L66.4 217.2L66.9 217.7L67.4 218.1L67.9 218.5L68.3 218.9L68.8 219.3L69.3 219.7L69.8 220.1L70.3 220.5L70.8 220.8L71.3 221.2L71.8 221.5L72.3 221.9L72.8 222.2L73.3 222.5L73.8 222.8L74.3 223.1L74.8 223.4L75.3 223.7L75.8 224.0L76.3 224.3L76.8 224.6L77.3 224.9L77.8 225.1L78.3 225.4L78.8 225.7L79.3 225.9L79.8 226.2L80.3 226.5L80.8 226.7L81.3 226.9L81.8 227.2L82.2 227.4L82.7 227.7L83.2 227.9L83.7 228.1L84.2 228.3L84.7 228.6L85.2 228.8L85.7 229.0L86.2 229.2L86.7 229.4L87.2 229.6L87.7 229.8L88.2 230.0L88.7 230.1L89.2 230.3L89.7 230.5L90.2 230.7L90.7 230.8L91.2 231.0L91.7 231.2L92.2 231.3L92.7 231.5L93.2 231.7L93.7 231.8L94.2 232.0L94.7 232.1L95.2 232.3L95.7 232.4L96.1 232.6L96.6 232.7L97.1 232.9L97.6 233.0L98.1 233.2L98.6 233.3L99.1 233.4L99.6 233.6L100.1 233.7L100.6 233.8L101.1 234.0L101.6 234.1L102.1 234.2L102.6 234.3L103.1 234.4L103.6 234.6L104.1 234.7L104.6 234.8L105.1 234.9L105.6 235.0L106.1 235.1L106.6 235.2L107.1 235.3L107.6 235.4L108.1 235.5L108.6 235.6L109.1 235.7L109.6 235.7L110.0 235.8L110.5 235.9L111.0 236.0L111.5 236.1L112.0 236.1L112.5 236.2L113.0 236.3L113.5 236.4L114.0 236.4L114.5 236.5L115.0 236.6L115.5 236.7L116.0 236.7L116.5 236.8L117.0 236.9L117.5 236.9L118.0 237.0L118.5 237.1L119.0 237.1L119.5 237.2L120.0 237.3L120.5 237.3L121.0 237.4L121.5 237.4L122.0 237.5L122.5 237.6L123.0 237.6L123.5 237.7L123.9 237.7L124.4 237.8L124.9 237.9L125.4 237.9L125.9 238.0L126.4 238.0L126.9 238.1L127.4 238.1L127.9 238.2L128.4 238.2L128.9 238.3L129.4 238.3L129.9 238.4L130.4 238.4L130.9 238.5L131.4 238.5L131.9 238.6L132.4 238.6L132.9 238.7L133.4 238.7L133.9 238.8L134.4 238.8L134.9 238.9L135.4 238.9L135.9 239.0L136.4 239.0L136.9 239.1L137.4 239.1L137.8 239.1L138.3 239.2L138.8 239.2L139.3 239.3L139.8 239.3L140.3 239.4L140.8 239.4L141.3 239.4L141.8 239.5L142.3 239.5L142.8 239.6L143.3 239.6L143.8 239.6L144.3 239.7L144.8 239.7L145.3 239.8L145.8 239.8L146.3 239.8L146.8 239.9L147.3 239.9L147.8 240.0L148.3 240.0L148.8 240.0L149.3 240.1L149.8 240.1L150.3 240.2L150.8 240.2L151.3 240.2L151.7 240.3L152.2 240.3L152.7 240.4L153.2 240.4L153.7 240.4L154.2 240.5L154.7 240.5L155.2 240.5L155.7 240.6L156.2 240.6L156.7 240.7L157.2 240.7L157.7 240.7L158.2 240.8L158.7 240.8L159.2 240.8L159.7 240.9L160.2 240.9L160.7 240.9L161.2 241.0L161.7 241.0L162.2 241.0L162.7 241.1L163.2 241.1L163.7 241.1L164.2 241.2L164.7 241.2L165.2 241.2L165.6 241.3L166.1 241.3L166.6 241.3L167.1 241.4L167.6 241.4L168.1 241.4L168.6 241.5L169.1 241.5L169.6 241.5L170.1 241.5L170.6 241.6L171.1 241.6L171.6 241.6L172.1 241.7L172.6 241.7L173.1 241.7L173.6 241.7L174.1 241.8L174.6 241.8L175.1 241.8L175.6 241.8L176.1 241.8L176.6 241.9L177.1 241.9L177.6 241.9L178.1 241.9L178.6 241.9L179.1 242.0L179.5 242.0L180.0 242.0L180.5 242.0L181.0 242.0L181.5 242.0L182.0 242.1L182.5 242.1L183.0 242.1L183.5 242.1L184.0 242.1L184.5 242.1L185.0 242.1L185.5 242.2L186.0 242.2L186.5 242.2L187.0 242.2L187.5 242.2L188.0 242.2L188.5 242.2L189.0 242.2L189.5 242.3L190.0 242.3L190.5 242.3L191.0 242.3L191.5 242.3L192.0 242.3L192.5 242.3L193.0 242.3L193.4 242.3L193.9 242.4L194.4 242.4L194.9 242.4L195.4 242.4L195.9 242.4L196.4 242.4L196.9 242.4L197.4 242.4L197.9 242.4L198.4 242.5L198.9 242.5L199.4 242.5L199.9 242.5L200.4 242.5L200.9 242.5L201.4 242.5L201.9 242.5L202.4 242.5L202.9 242.5L203.4 242.6L203.9 242.6L204.4 242.6L204.9 242.6L205.4 242.6L205.9 242.6L206.4 242.6L206.9 242.6L207.3 242.6L207.8 242.6L208.3 242.6L208.8 242.6L209.3 242.7L209.8 242.7L210.3 242.7L210.8 242.7L211.3 242.7L211.8 242.7L212.3 242.7L212.8 242.7L213.3 242.7L213.8 242.7L214.3 242.7L214.8 242.7L215.3 242.7L215.8 242.7L216.3 242.7L216.8 242.7L217.3 242.7L217.8 242.8L218.3 242.8L218.8 242.8L219.3 242.8L219.8 242.8L220.3 242.8L220.8 242.8L221.2 242.8L221.7 242.8L222.2 242.8L222.7 242.8L223.2 242.8L223.7 242.8L224.2 242.8L224.7 242.8L225.2 242.8L225.7 242.8L226.2 242.8L226.7 242.8L227.2 242.8L227.7 242.8" fill="none" stroke="#4C72B0" stroke-width="0.5" stroke-opacity="0.85" stroke-linejoin="round"/>
<path d="M19.7 243.4L19.7 170.3L20.2 169.6L20.7 169.0L21.2 168.3L21.7 167.6L22.2 167.0L22.7 166.3L23.2 165.6L23.7 165.0L24.2 164.0L24.7 163.0L25.2 162.0L25.7 161.0L26.2 160.0L26.6 159.0L27.1 158.0L27.6 157.0L28.1 156.0L28.6 155.1L29.1 155.4L29.6 155.7L30.1 156.0L30.6 156.3L31.1 156.6L31.6 157.5L32.1 158.8L32.6 160.1L33.1 161.3L33.6 162.6L34.1 163.8L34.6 165.1L35.1 166.3L35.6 167.6L36.1 168.9L36.6 170.1L37.1 171.4L37.6 172.6L38.1 173.9L38.6 175.2L39.1 176.6L39.6 177.9L40.1 179.3L40.5 180.6L41.0 182.0L41.5 183.3L42.0 184.7L42.5 186.0L43.0 187.0L43.5 188.0L44.0 188.9L44.5 189.9L45.0 190.8L45.5 191.8L46.0 192.7L46.5 193.7L47.0 194.6L47.5 195.6L48.0 196.5L48.5 197.5L49.0 198.4L49.5 199.0L50.0 199.6L50.5 200.3L51.0 200.9L51.5 201.5L52.0 202.1L52.5 202.7L53.0 203.3L53.5 203.9L54.0 204.5L54.4 205.1L54.9 205.7L55.4 206.3L55.9 207.0L56.4 207.6L56.9 208.2L57.4 208.8L57.9 209.5L58.4 210.1L58.9 210.7L59.4 211.3L59.9 211.8L60.4 212.4L60.9 212.9L61.4 213.4L61.9 213.9L62.4 214.3L62.9 214.8L63.4 215.3L63.9 215.7L64.4 216.2L64.9 216.6L65.4 217.1L65.9 217.5L66.4 217.9L66.9 218.3L67.4 218.7L67.9 219.1L68.3 219.5L68.8 219.9L69.3 220.3L69.8 220.6L70.3 221.0L70.8 221.4L71.3 221.7L71.8 222.0L72.3 222.3L72.8 222.7L73.3 223.0L73.8 223.3L74.3 223.5L74.8 223.8L75.3 224.1L75.8 224.4L76.3 224.7L76.8 224.9L77.3 225.2L77.8 225.4L78.3 225.7L78.8 225.9L79.3 226.2L79.8 226.4L80.3 226.7L80.8 226.9L81.3 227.1L81.8 227.4L82.2 227.6L82.7 227.8L83.2 228.0L83.7 228.2L84.2 228.5L84.7 228.7L85.2 228.9L85.7 229.1L86.2 229.3L86.7 229.4L87.2 229.6L87.7 229.8L88.2 230.0L88.7 230.2L89.2 230.3L89.7 230.5L90.2 230.7L90.7 230.8L91.2 231.0L91.7 231.2L92.2 231.3L92.7 231.5L93.2 231.6L93.7 231.8L94.2 231.9L94.7 232.1L95.2 232.2L95.7 232.4L96.1 232.5L96.6 232.7L97.1 232.8L97.6 233.0L98.1 233.1L98.6 233.2L99.1 233.4L99.6 233.5L100.1 233.6L100.6 233.7L101.1 233.9L101.6 234.0L102.1 234.1L102.6 234.2L103.1 234.4L103.6 234.5L104.1 234.6L104.6 234.7L105.1 234.8L105.6 234.9L106.1 235.0L106.6 235.1L107.1 235.2L107.6 235.3L108.1 235.4L108.6 235.5L109.1 235.6L109.6 235.6L110.0 235.7L110.5 235.8L111.0 235.9L111.5 236.0L112.0 236.0L112.5 236.1L113.0 236.2L113.5 236.3L114.0 236.3L114.5 236.4L115.0 236.5L115.5 236.5L116.0 236.6L116.5 236.7L117.0 236.8L117.5 236.8L118.0 236.9L118.5 237.0L119.0 237.0L119.5 237.1L120.0 237.1L120.5 237.2L121.0 237.3L121.5 237.3L122.0 237.4L122.5 237.5L123.0 237.5L123.5 237.6L123.9 237.6L124.4 237.7L124.9 237.7L125.4 237.8L125.9 237.9L126.4 237.9L126.9 238.0L127.4 238.0L127.9 238.1L128.4 238.1L128.9 238.2L129.4 238.2L129.9 238.3L130.4 238.3L130.9 238.4L131.4 238.4L131.9 238.5L132.4 238.5L132.9 238.6L133.4 238.6L133.9 238.7L134.4 238.7L134.9 238.8L135.4 238.8L135.9 238.9L136.4 238.9L136.9 238.9L137.4 239.0L137.8 239.0L138.3 239.1L138.8 239.1L139.3 239.2L139.8 239.2L140.3 239.3L140.8 239.3L141.3 239.3L141.8 239.4L142.3 239.4L142.8 239.5L143.3 239.5L143.8 239.5L144.3 239.6L144.8 239.6L145.3 239.7L145.8 239.7L146.3 239.7L146.8 239.8L147.3 239.8L147.8 239.9L148.3 239.9L148.8 239.9L149.3 240.0L149.8 240.0L150.3 240.1L150.8 240.1L151.3 240.1L151.7 240.2L152.2 240.2L152.7 240.2L153.2 240.3L153.7 240.3L154.2 240.4L154.7 240.4L155.2 240.4L155.7 240.5L156.2 240.5L156.7 240.5L157.2 240.6L157.7 240.6L158.2 240.7L158.7 240.7L159.2 240.7L159.7 240.8L160.2 240.8L160.7 240.8L161.2 240.9L161.7 240.9L162.2 240.9L162.7 241.0L163.2 241.0L163.7 241.0L164.2 241.1L164.7 241.1L165.2 241.1L165.6 241.2L166.1 241.2L166.6 241.2L167.1 241.3L167.6 241.3L168.1 241.3L168.6 241.3L169.1 241.4L169.6 241.4L170.1 241.4L170.6 241.5L171.1 241.5L171.6 241.5L172.1 241.5L172.6 241.6L173.1 241.6L173.6 241.6L174.1 241.6L174.6 241.7L175.1 241.7L175.6 241.7L176.1 241.7L176.6 241.7L177.1 241.8L177.6 241.8L178.1 241.8L178.6 241.8L179.1 241.9L179.5 241.9L180.0 241.9L180.5 241.9L181.0 241.9L181.5 241.9L182.0 242.0L182.5 242.0L183.0 242.0L183.5 242.0L184.0 242.0L184.5 242.0L185.0 242.0L185.5 242.1L186.0 242.1L186.5 242.1L187.0 242.1L187.5 242.1L188.0 242.1L188.5 242.1L189.0 242.1L189.5 242.2L190.0 242.2L190.5 242.2L191.0 242.2L191.5 242.2L192.0 242.2L192.5 242.2L193.0 242.2L193.4 242.3L193.9 242.3L194.4 242.3L194.9 242.3L195.4 242.3L195.9 242.3L196.4 242.3L196.9 242.3L197.4 242.4L197.9 242.4L198.4 242.4L198.9 242.4L199.4 242.4L199.9 242.4L200.4 242.4L200.9 242.4L201.4 242.4L201.9 242.5L202.4 242.5L202.9 242.5L203.4 242.5L203.9 242.5L204.4 242.5L204.9 242.5L205.4 242.5L205.9 242.5L206.4 242.5L206.9 242.5L207.3 242.6L207.8 242.6L208.3 242.6L208.8 242.6L209.3 242.6L209.8 242.6L210.3 242.6L210.8 242.6L211.3 242.6L211.8 242.6L212.3 242.6L212.8 242.6L213.3 242.7L213.8 242.7L214.3 242.7L214.8 242.7L215.3 242.7L215.8 242.7L216.3 242.7L216.8 242.7L217.3 242.7L217.8 242.7L218.3 242.7L218.8 242.7L219.3 242.7L219.8 242.7L220.3 242.7L220.8 242.7L221.2 242.7L221.7 242.7L222.2 242.7L222.7 242.7L223.2 242.7L223.7 242.7L224.2 242.7L224.7 242.8L225.2 242.8L225.7 242.8L226.2 242.8L226.7 242.8L227.2 242.8L227.7 242.8L227.7 243.4Z" fill="#DD8452" fill-opacity="0.40" stroke="none"/>
<path d="M19.7 170.3L20.2 169.6L20.7 169.0L21.2 168.3L21.7 167.6L22.2 167.0L22.7 166.3L23.2 165.6L23.7 165.0L24.2 164.0L24.7 163.0L25.2 162.0L25.7 161.0L26.2 160.0L26.6 159.0L27.1 158.0L27.6 157.0L28.1 156.0L28.6 155.1L29.1 155.4L29.6 155.7L30.1 156.0L30.6 156.3L31.1 156.6L31.6 157.5L32.1 158.8L32.6 160.1L33.1 161.3L33.6 162.6L34.1 163.8L34.6 165.1L35.1 166.3L35.6 167.6L36.1 168.9L36.6 170.1L37.1 171.4L37.6 172.6L38.1 173.9L38.6 175.2L39.1 176.6L39.6 177.9L40.1 179.3L40.5 180.6L41.0 182.0L41.5 183.3L42.0 184.7L42.5 186.0L43.0 187.0L43.5 188.0L44.0 188.9L44.5 189.9L45.0 190.8L45.5 191.8L46.0 192.7L46.5 193.7L47.0 194.6L47.5 195.6L48.0 196.5L48.5 197.5L49.0 198.4L49.5 199.0L50.0 199.6L50.5 200.3L51.0 200.9L51.5 201.5L52.0 202.1L52.5 202.7L53.0 203.3L53.5 203.9L54.0 204.5L54.4 205.1L54.9 205.7L55.4 206.3L55.9 207.0L56.4 207.6L56.9 208.2L57.4 208.8L57.9 209.5L58.4 210.1L58.9 210.7L59.4 211.3L59.9 211.8L60.4 212.4L60.9 212.9L61.4 213.4L61.9 213.9L62.4 214.3L62.9 214.8L63.4 215.3L63.9 215.7L64.4 216.2L64.9 216.6L65.4 217.1L65.9 217.5L66.4 217.9L66.9 218.3L67.4 218.7L67.9 219.1L68.3 219.5L68.8 219.9L69.3 220.3L69.8 220.6L70.3 221.0L70.8 221.4L71.3 221.7L71.8 222.0L72.3 222.3L72.8 222.7L73.3 223.0L73.8 223.3L74.3 223.5L74.8 223.8L75.3 224.1L75.8 224.4L76.3 224.7L76.8 224.9L77.3 225.2L77.8 225.4L78.3 225.7L78.8 225.9L79.3 226.2L79.8 226.4L80.3 226.7L80.8 226.9L81.3 227.1L81.8 227.4L82.2 227.6L82.7 227.8L83.2 228.0L83.7 228.2L84.2 228.5L84.7 228.7L85.2 228.9L85.7 229.1L86.2 229.3L86.7 229.4L87.2 229.6L87.7 229.8L88.2 230.0L88.7 230.2L89.2 230.3L89.7 230.5L90.2 230.7L90.7 230.8L91.2 231.0L91.7 231.2L92.2 231.3L92.7 231.5L93.2 231.6L93.7 231.8L94.2 231.9L94.7 232.1L95.2 232.2L95.7 232.4L96.1 232.5L96.6 232.7L97.1 232.8L97.6 233.0L98.1 233.1L98.6 233.2L99.1 233.4L99.6 233.5L100.1 233.6L100.6 233.7L101.1 233.9L101.6 234.0L102.1 234.1L102.6 234.2L103.1 234.4L103.6 234.5L104.1 234.6L104.6 234.7L105.1 234.8L105.6 234.9L106.1 235.0L106.6 235.1L107.1 235.2L107.6 235.3L108.1 235.4L108.6 235.5L109.1 235.6L109.6 235.6L110.0 235.7L110.5 235.8L111.0 235.9L111.5 236.0L112.0 236.0L112.5 236.1L113.0 236.2L113.5 236.3L114.0 236.3L114.5 236.4L115.0 236.5L115.5 236.5L116.0 236.6L116.5 236.7L117.0 236.8L117.5 236.8L118.0 236.9L118.5 237.0L119.0 237.0L119.5 237.1L120.0 237.1L120.5 237.2L121.0 237.3L121.5 237.3L122.0 237.4L122.5 237.5L123.0 237.5L123.5 237.6L123.9 237.6L124.4 237.7L124.9 237.7L125.4 237.8L125.9 237.9L126.4 237.9L126.9 238.0L127.4 238.0L127.9 238.1L128.4 238.1L128.9 238.2L129.4 238.2L129.9 238.3L130.4 238.3L130.9 238.4L131.4 238.4L131.9 238.5L132.4 238.5L132.9 238.6L133.4 238.6L133.9 238.7L134.4 238.7L134.9 238.8L135.4 238.8L135.9 238.9L136.4 238.9L136.9 238.9L137.4 239.0L137.8 239.0L138.3 239.1L138.8 239.1L139.3 239.2L139.8 239.2L140.3 239.3L140.8 239.3L141.3 239.3L141.8 239.4L142.3 239.4L142.8 239.5L143.3 239.5L143.8 239.5L144.3 239.6L144.8 239.6L145.3 239.7L145.8 239.7L146.3 239.7L146.8 239.8L147.3 239.8L147.8 239.9L148.3 239.9L148.8 239.9L149.3 240.0L149.8 240.0L150.3 240.1L150.8 240.1L151.3 240.1L151.7 240.2L152.2 240.2L152.7 240.2L153.2 240.3L153.7 240.3L154.2 240.4L154.7 240.4L155.2 240.4L155.7 240.5L156.2 240.5L156.7 240.5L157.2 240.6L157.7 240.6L158.2 240.7L158.7 240.7L159.2 240.7L159.7 240.8L160.2 240.8L160.7 240.8L161.2 240.9L161.7 240.9L162.2 240.9L162.7 241.0L163.2 241.0L163.7 241.0L164.2 241.1L164.7 241.1L165.2 241.1L165.6 241.2L166.1 241.2L166.6 241.2L167.1 241.3L167.6 241.3L168.1 241.3L168.6 241.3L169.1 241.4L169.6 241.4L170.1 241.4L170.6 241.5L171.1 241.5L171.6 241.5L172.1 241.5L172.6 241.6L173.1 241.6L173.6 241.6L174.1 241.6L174.6 241.7L175.1 241.7L175.6 241.7L176.1 241.7L176.6 241.7L177.1 241.8L177.6 241.8L178.1 241.8L178.6 241.8L179.1 241.9L179.5 241.9L180.0 241.9L180.5 241.9L181.0 241.9L181.5 241.9L182.0 242.0L182.5 242.0L183.0 242.0L183.5 242.0L184.0 242.0L184.5 242.0L185.0 242.0L185.5 242.1L186.0 242.1L186.5 242.1L187.0 242.1L187.5 242.1L188.0 242.1L188.5 242.1L189.0 242.1L189.5 242.2L190.0 242.2L190.5 242.2L191.0 242.2L191.5 242.2L192.0 242.2L192.5 242.2L193.0 242.2L193.4 242.3L193.9 242.3L194.4 242.3L194.9 242.3L195.4 242.3L195.9 242.3L196.4 242.3L196.9 242.3L197.4 242.4L197.9 242.4L198.4 242.4L198.9 242.4L199.4 242.4L199.9 242.4L200.4 242.4L200.9 242.4L201.4 242.4L201.9 242.5L202.4 242.5L202.9 242.5L203.4 242.5L203.9 242.5L204.4 242.5L204.9 242.5L205.4 242.5L205.9 242.5L206.4 242.5L206.9 242.5L207.3 242.6L207.8 242.6L208.3 242.6L208.8 242.6L209.3 242.6L209.8 242.6L210.3 242.6L210.8 242.6L211.3 242.6L211.8 242.6L212.3 242.6L212.8 242.6L213.3 242.7L213.8 242.7L214.3 242.7L214.8 242.7L215.3 242.7L215.8 242.7L216.3 242.7L216.8 242.7L217.3 242.7L217.8 242.7L218.3 242.7L218.8 242.7L219.3 242.7L219.8 242.7L220.3 242.7L220.8 242.7L221.2 242.7L221.7 242.7L222.2 242.7L222.7 242.7L223.2 242.7L223.7 242.7L224.2 242.7L224.7 242.8L225.2 242.8L225.7 242.8L226.2 242.8L226.7 242.8L227.2 242.8L227.7 242.8" fill="none" stroke="#DD8452" stroke-width="0.5" stroke-opacity="0.85" stroke-linejoin="round"/>
<path d="M19.7 243.4L19.7 170.3L20.2 169.8L20.7 169.3L21.2 168.9L21.7 168.4L22.2 167.9L22.7 167.4L23.2 166.9L23.7 166.5L24.2 165.4L24.7 164.4L25.2 163.3L25.7 162.2L26.2 161.2L26.6 160.1L27.1 159.0L27.6 158.0L28.1 156.9L28.6 155.9L29.1 155.9L29.6 155.8L30.1 155.8L30.6 155.8L31.1 155.8L31.6 155.8L32.1 155.7L32.6 155.7L33.1 155.7L33.6 157.1L34.1 158.4L34.6 159.8L35.1 161.2L35.6 162.5L36.1 163.9L36.6 165.3L37.1 166.6L37.6 168.0L38.1 169.4L38.6 170.7L39.1 172.1L39.6 173.5L40.1 174.9L40.5 176.3L41.0 177.7L41.5 179.1L42.0 180.5L42.5 181.9L43.0 183.1L43.5 184.1L44.0 185.2L44.5 186.3L45.0 187.3L45.5 188.4L46.0 189.5L46.5 190.5L47.0 191.6L47.5 192.7L48.0 193.7L48.5 194.8L49.0 195.8L49.5 196.5L50.0 197.1L50.5 197.8L51.0 198.5L51.5 199.1L52.0 199.8L52.5 200.4L53.0 201.1L53.5 201.7L54.0 202.4L54.4 203.0L54.9 203.7L55.4 204.3L55.9 205.0L56.4 205.7L56.9 206.3L57.4 207.0L57.9 207.7L58.4 208.3L58.9 209.0L59.4 209.6L59.9 210.2L60.4 210.8L60.9 211.4L61.4 211.9L61.9 212.4L62.4 212.9L62.9 213.4L63.4 213.9L63.9 214.4L64.4 214.8L64.9 215.3L65.4 215.7L65.9 216.2L66.4 216.6L66.9 217.0L67.4 217.5L67.9 217.9L68.3 218.3L68.8 218.7L69.3 219.1L69.8 219.4L70.3 219.8L70.8 220.2L71.3 220.5L71.8 220.9L72.3 221.2L72.8 221.5L73.3 221.9L73.8 222.2L74.3 222.5L74.8 222.8L75.3 223.1L75.8 223.4L76.3 223.7L76.8 224.0L77.3 224.3L77.8 224.5L78.3 224.8L78.8 225.1L79.3 225.4L79.8 225.6L80.3 225.9L80.8 226.1L81.3 226.4L81.8 226.6L82.2 226.9L82.7 227.1L83.2 227.4L83.7 227.6L84.2 227.8L84.7 228.1L85.2 228.3L85.7 228.5L86.2 228.7L86.7 228.9L87.2 229.1L87.7 229.3L88.2 229.5L88.7 229.7L89.2 229.9L89.7 230.1L90.2 230.2L90.7 230.4L91.2 230.6L91.7 230.8L92.2 230.9L92.7 231.1L93.2 231.3L93.7 231.4L94.2 231.6L94.7 231.7L95.2 231.9L95.7 232.1L96.1 232.2L96.6 232.4L97.1 232.5L97.6 232.7L98.1 232.8L98.6 233.0L99.1 233.1L99.6 233.2L100.1 233.4L100.6 233.5L101.1 233.6L101.6 233.8L102.1 233.9L102.6 234.0L103.1 234.1L103.6 234.3L104.1 234.4L104.6 234.5L105.1 234.6L105.6 234.7L106.1 234.8L106.6 234.9L107.1 235.0L107.6 235.1L108.1 235.2L108.6 235.3L109.1 235.4L109.6 235.5L110.0 235.6L110.5 235.6L111.0 235.7L111.5 235.8L112.0 235.9L112.5 236.0L113.0 236.0L113.5 236.1L114.0 236.2L114.5 236.3L115.0 236.3L115.5 236.4L116.0 236.5L116.5 236.6L117.0 236.6L117.5 236.7L118.0 236.8L118.5 236.8L119.0 236.9L119.5 237.0L120.0 237.0L120.5 237.1L121.0 237.1L121.5 237.2L122.0 237.3L122.5 237.3L123.0 237.4L123.5 237.4L123.9 237.5L124.4 237.6L124.9 237.6L125.4 237.7L125.9 237.7L126.4 237.8L126.9 237.8L127.4 237.9L127.9 237.9L128.4 238.0L128.9 238.1L129.4 238.1L129.9 238.2L130.4 238.2L130.9 238.3L131.4 238.3L131.9 238.4L132.4 238.4L132.9 238.5L133.4 238.5L133.9 238.5L134.4 238.6L134.9 238.6L135.4 238.7L135.9 238.7L136.4 238.8L136.9 238.8L137.4 238.9L137.8 238.9L138.3 239.0L138.8 239.0L139.3 239.0L139.8 239.1L140.3 239.1L140.8 239.2L141.3 239.2L141.8 239.3L142.3 239.3L142.8 239.3L143.3 239.4L143.8 239.4L144.3 239.5L144.8 239.5L145.3 239.6L145.8 239.6L146.3 239.6L146.8 239.7L147.3 239.7L147.8 239.8L148.3 239.8L148.8 239.9L149.3 239.9L149.8 239.9L150.3 240.0L150.8 240.0L151.3 240.1L151.7 240.1L152.2 240.1L152.7 240.2L153.2 240.2L153.7 240.3L154.2 240.3L154.7 240.3L155.2 240.4L155.7 240.4L156.2 240.5L156.7 240.5L157.2 240.5L157.7 240.6L158.2 240.6L158.7 240.7L159.2 240.7L159.7 240.7L160.2 240.8L160.7 240.8L161.2 240.9L161.7 240.9L162.2 240.9L162.7 241.0L163.2 241.0L163.7 241.0L164.2 241.1L164.7 241.1L165.2 241.1L165.6 241.2L166.1 241.2L166.6 241.2L167.1 241.3L167.6 241.3L168.1 241.3L168.6 241.4L169.1 241.4L169.6 241.4L170.1 241.5L170.6 241.5L171.1 241.5L171.6 241.6L172.1 241.6L172.6 241.6L173.1 241.6L173.6 241.7L174.1 241.7L174.6 241.7L175.1 241.7L175.6 241.8L176.1 241.8L176.6 241.8L177.1 241.8L177.6 241.9L178.1 241.9L178.6 241.9L179.1 241.9L179.5 241.9L180.0 242.0L180.5 242.0L181.0 242.0L181.5 242.0L182.0 242.0L182.5 242.0L183.0 242.0L183.5 242.1L184.0 242.1L184.5 242.1L185.0 242.1L185.5 242.1L186.0 242.1L186.5 242.1L187.0 242.1L187.5 242.2L188.0 242.2L188.5 242.2L189.0 242.2L189.5 242.2L190.0 242.2L190.5 242.2L191.0 242.2L191.5 242.3L192.0 242.3L192.5 242.3L193.0 242.3L193.4 242.3L193.9 242.3L194.4 242.3L194.9 242.3L195.4 242.3L195.9 242.4L196.4 242.4L196.9 242.4L197.4 242.4L197.9 242.4L198.4 242.4L198.9 242.4L199.4 242.4L199.9 242.4L200.4 242.5L200.9 242.5L201.4 242.5L201.9 242.5L202.4 242.5L202.9 242.5L203.4 242.5L203.9 242.5L204.4 242.5L204.9 242.5L205.4 242.5L205.9 242.6L206.4 242.6L206.9 242.6L207.3 242.6L207.8 242.6L208.3 242.6L208.8 242.6L209.3 242.6L209.8 242.6L210.3 242.6L210.8 242.6L211.3 242.6L211.8 242.6L212.3 242.7L212.8 242.7L213.3 242.7L213.8 242.7L214.3 242.7L214.8 242.7L215.3 242.7L215.8 242.7L216.3 242.7L216.8 242.7L217.3 242.7L217.8 242.7L218.3 242.7L218.8 242.7L219.3 242.7L219.8 242.7L220.3 242.7L220.8 242.7L221.2 242.7L221.7 242.7L222.2 242.7L222.7 242.7L223.2 242.7L223.7 242.7L224.2 242.7L224.7 242.8L225.2 242.8L225.7 242.8L226.2 242.8L226.7 242.8L227.2 242.8L227.7 242.8L227.7 243.4Z" fill="#55A868" fill-opacity="0.40" stroke="none"/>
<path d="M19.7 170.3L20.2 169.8L20.7 169.3L21.2 168.9L21.7 168.4L22.2 167.9L22.7 167.4L23.2 166.9L23.7 166.5L24.2 165.4L24.7 164.4L25.2 163.3L25.7 162.2L26.2 161.2L26.6 160.1L27.1 159.0L27.6 158.0L28.1 156.9L28.6 155.9L29.1 155.9L29.6 155.8L30.1 155.8L30.6 155.8L31.1 155.8L31.6 155.8L32.1 155.7L32.6 155.7L33.1 155.7L33.6 157.1L34.1 158.4L34.6 159.8L35.1 161.2L35.6 162.5L36.1 163.9L36.6 165.3L37.1 166.6L37.6 168.0L38.1 169.4L38.6 170.7L39.1 172.1L39.6 173.5L40.1 174.9L40.5 176.3L41.0 177.7L41.5 179.1L42.0 180.5L42.5 181.9L43.0 183.1L43.5 184.1L44.0 185.2L44.5 186.3L45.0 187.3L45.5 188.4L46.0 189.5L46.5 190.5L47.0 191.6L47.5 192.7L48.0 193.7L48.5 194.8L49.0 195.8L49.5 196.5L50.0 197.1L50.5 197.8L51.0 198.5L51.5 199.1L52.0 199.8L52.5 200.4L53.0 201.1L53.5 201.7L54.0 202.4L54.4 203.0L54.9 203.7L55.4 204.3L55.9 205.0L56.4 205.7L56.9 206.3L57.4 207.0L57.9 207.7L58.4 208.3L58.9 209.0L59.4 209.6L59.9 210.2L60.4 210.8L60.9 211.4L61.4 211.9L61.9 212.4L62.4 212.9L62.9 213.4L63.4 213.9L63.9 214.4L64.4 214.8L64.9 215.3L65.4 215.7L65.9 216.2L66.4 216.6L66.9 217.0L67.4 217.5L67.9 217.9L68.3 218.3L68.8 218.7L69.3 219.1L69.8 219.4L70.3 219.8L70.8 220.2L71.3 220.5L71.8 220.9L72.3 221.2L72.8 221.5L73.3 221.9L73.8 222.2L74.3 222.5L74.8 222.8L75.3 223.1L75.8 223.4L76.3 223.7L76.8 224.0L77.3 224.3L77.8 224.5L78.3 224.8L78.8 225.1L79.3 225.4L79.8 225.6L80.3 225.9L80.8 226.1L81.3 226.4L81.8 226.6L82.2 226.9L82.7 227.1L83.2 227.4L83.7 227.6L84.2 227.8L84.7 228.1L85.2 228.3L85.7 228.5L86.2 228.7L86.7 228.9L87.2 229.1L87.7 229.3L88.2 229.5L88.7 229.7L89.2 229.9L89.7 230.1L90.2 230.2L90.7 230.4L91.2 230.6L91.7 230.8L92.2 230.9L92.7 231.1L93.2 231.3L93.7 231.4L94.2 231.6L94.7 231.7L95.2 231.9L95.7 232.1L96.1 232.2L96.6 232.4L97.1 232.5L97.6 232.7L98.1 232.8L98.6 233.0L99.1 233.1L99.6 233.2L100.1 233.4L100.6 233.5L101.1 233.6L101.6 233.8L102.1 233.9L102.6 234.0L103.1 234.1L103.6 234.3L104.1 234.4L104.6 234.5L105.1 234.6L105.6 234.7L106.1 234.8L106.6 234.9L107.1 235.0L107.6 235.1L108.1 235.2L108.6 235.3L109.1 235.4L109.6 235.5L110.0 235.6L110.5 235.6L111.0 235.7L111.5 235.8L112.0 235.9L112.5 236.0L113.0 236.0L113.5 236.1L114.0 236.2L114.5 236.3L115.0 236.3L115.5 236.4L116.0 236.5L116.5 236.6L117.0 236.6L117.5 236.7L118.0 236.8L118.5 236.8L119.0 236.9L119.5 237.0L120.0 237.0L120.5 237.1L121.0 237.1L121.5 237.2L122.0 237.3L122.5 237.3L123.0 237.4L123.5 237.4L123.9 237.5L124.4 237.6L124.9 237.6L125.4 237.7L125.9 237.7L126.4 237.8L126.9 237.8L127.4 237.9L127.9 237.9L128.4 238.0L128.9 238.1L129.4 238.1L129.9 238.2L130.4 238.2L130.9 238.3L131.4 238.3L131.9 238.4L132.4 238.4L132.9 238.5L133.4 238.5L133.9 238.5L134.4 238.6L134.9 238.6L135.4 238.7L135.9 238.7L136.4 238.8L136.9 238.8L137.4 238.9L137.8 238.9L138.3 239.0L138.8 239.0L139.3 239.0L139.8 239.1L140.3 239.1L140.8 239.2L141.3 239.2L141.8 239.3L142.3 239.3L142.8 239.3L143.3 239.4L143.8 239.4L144.3 239.5L144.8 239.5L145.3 239.6L145.8 239.6L146.3 239.6L146.8 239.7L147.3 239.7L147.8 239.8L148.3 239.8L148.8 239.9L149.3 239.9L149.8 239.9L150.3 240.0L150.8 240.0L151.3 240.1L151.7 240.1L152.2 240.1L152.7 240.2L153.2 240.2L153.7 240.3L154.2 240.3L154.7 240.3L155.2 240.4L155.7 240.4L156.2 240.5L156.7 240.5L157.2 240.5L157.7 240.6L158.2 240.6L158.7 240.7L159.2 240.7L159.7 240.7L160.2 240.8L160.7 240.8L161.2 240.9L161.7 240.9L162.2 240.9L162.7 241.0L163.2 241.0L163.7 241.0L164.2 241.1L164.7 241.1L165.2 241.1L165.6 241.2L166.1 241.2L166.6 241.2L167.1 241.3L167.6 241.3L168.1 241.3L168.6 241.4L169.1 241.4L169.6 241.4L170.1 241.5L170.6 241.5L171.1 241.5L171.6 241.6L172.1 241.6L172.6 241.6L173.1 241.6L173.6 241.7L174.1 241.7L174.6 241.7L175.1 241.7L175.6 241.8L176.1 241.8L176.6 241.8L177.1 241.8L177.6 241.9L178.1 241.9L178.6 241.9L179.1 241.9L179.5 241.9L180.0 242.0L180.5 242.0L181.0 242.0L181.5 242.0L182.0 242.0L182.5 242.0L183.0 242.0L183.5 242.1L184.0 242.1L184.5 242.1L185.0 242.1L185.5 242.1L186.0 242.1L186.5 242.1L187.0 242.1L187.5 242.2L188.0 242.2L188.5 242.2L189.0 242.2L189.5 242.2L190.0 242.2L190.5 242.2L191.0 242.2L191.5 242.3L192.0 242.3L192.5 242.3L193.0 242.3L193.4 242.3L193.9 242.3L194.4 242.3L194.9 242.3L195.4 242.3L195.9 242.4L196.4 242.4L196.9 242.4L197.4 242.4L197.9 242.4L198.4 242.4L198.9 242.4L199.4 242.4L199.9 242.4L200.4 242.5L200.9 242.5L201.4 242.5L201.9 242.5L202.4 242.5L202.9 242.5L203.4 242.5L203.9 242.5L204.4 242.5L204.9 242.5L205.4 242.5L205.9 242.6L206.4 242.6L206.9 242.6L207.3 242.6L207.8 242.6L208.3 242.6L208.8 242.6L209.3 242.6L209.8 242.6L210.3 242.6L210.8 242.6L211.3 242.6L211.8 242.6L212.3 242.7L212.8 242.7L213.3 242.7L213.8 242.7L214.3 242.7L214.8 242.7L215.3 242.7L215.8 242.7L216.3 242.7L216.8 242.7L217.3 242.7L217.8 242.7L218.3 242.7L218.8 242.7L219.3 242.7L219.8 242.7L220.3 242.7L220.8 242.7L221.2 242.7L221.7 242.7L222.2 242.7L222.7 242.7L223.2 242.7L223.7 242.7L224.2 242.7L224.7 242.8L225.2 242.8L225.7 242.8L226.2 242.8L226.7 242.8L227.2 242.8L227.7 242.8" fill="none" stroke="#55A868" stroke-width="0.5" stroke-opacity="0.85" stroke-linejoin="round"/>
<path d="M19.7 243.4L19.7 142.4L20.2 142.4L20.7 142.4L21.2 142.4L21.7 142.4L22.2 142.4L22.7 142.4L23.2 142.4L23.7 142.4L24.2 142.4L24.7 142.4L25.2 142.4L25.7 142.4L26.2 142.4L26.6 142.4L27.1 142.4L27.6 142.4L28.1 143.1L28.6 144.6L29.1 146.2L29.6 147.7L30.1 149.2L30.6 150.8L31.1 152.3L31.6 154.1L32.1 156.0L32.6 157.9L33.1 159.8L33.6 161.7L34.1 163.5L34.6 165.3L35.1 167.1L35.6 168.9L36.1 170.6L36.6 172.4L37.1 174.2L37.6 175.9L38.1 177.7L38.6 179.4L39.1 181.2L39.6 182.9L40.1 184.6L40.5 186.4L41.0 188.1L41.5 189.8L42.0 191.6L42.5 193.3L43.0 194.8L43.5 196.4L44.0 197.9L44.5 199.4L45.0 200.9L45.5 202.4L46.0 203.9L46.5 205.4L47.0 206.9L47.5 208.0L48.0 209.2L48.5 210.4L49.0 211.6L49.5 212.7L50.0 213.9L50.5 215.1L51.0 216.3L51.5 217.5L52.0 218.6L52.5 219.7L53.0 220.8L53.5 221.6L54.0 222.3L54.4 223.0L54.9 223.7L55.4 224.5L55.9 225.2L56.4 225.9L56.9 226.6L57.4 227.3L57.9 228.0L58.4 228.6L58.9 229.2L59.4 229.8L59.9 230.3L60.4 230.7L60.9 231.1L61.4 231.4L61.9 231.7L62.4 232.0L62.9 232.3L63.4 232.6L63.9 232.9L64.4 233.1L64.9 233.4L65.4 233.6L65.9 233.9L66.4 234.1L66.9 234.3L67.4 234.5L67.9 234.7L68.3 234.9L68.8 235.1L69.3 235.3L69.8 235.4L70.3 235.6L70.8 235.7L71.3 235.9L71.8 236.0L72.3 236.2L72.8 236.3L73.3 236.4L73.8 236.5L74.3 236.7L74.8 236.8L75.3 236.9L75.8 237.0L76.3 237.1L76.8 237.2L77.3 237.3L77.8 237.4L78.3 237.5L78.8 237.6L79.3 237.7L79.8 237.8L80.3 237.9L80.8 238.0L81.3 238.0L81.8 238.1L82.2 238.2L82.7 238.3L83.2 238.4L83.7 238.4L84.2 238.5L84.7 238.6L85.2 238.6L85.7 238.7L86.2 238.8L86.7 238.8L87.2 238.9L87.7 239.0L88.2 239.0L88.7 239.1L89.2 239.1L89.7 239.2L90.2 239.2L90.7 239.3L91.2 239.3L91.7 239.4L92.2 239.4L92.7 239.5L93.2 239.5L93.7 239.6L94.2 239.6L94.7 239.7L95.2 239.7L95.7 239.8L96.1 239.8L96.6 239.8L97.1 239.9L97.6 239.9L98.1 239.9L98.6 240.0L99.1 240.0L99.6 240.1L100.1 240.1L100.6 240.1L101.1 240.2L101.6 240.2L102.1 240.2L102.6 240.3L103.1 240.3L103.6 240.3L104.1 240.4L104.6 240.4L105.1 240.4L105.6 240.5L106.1 240.5L106.6 240.5L107.1 240.5L107.6 240.6L108.1 240.6L108.6 240.6L109.1 240.7L109.6 240.7L110.0 240.7L110.5 240.7L111.0 240.8L111.5 240.8L112.0 240.8L112.5 240.8L113.0 240.9L113.5 240.9L114.0 240.9L114.5 240.9L115.0 241.0L115.5 241.0L116.0 241.0L116.5 241.1L117.0 241.1L117.5 241.1L118.0 241.1L118.5 241.2L119.0 241.2L119.5 241.2L120.0 241.2L120.5 241.3L121.0 241.3L121.5 241.3L122.0 241.3L122.5 241.3L123.0 241.4L123.5 241.4L123.9 241.4L124.4 241.4L124.9 241.5L125.4 241.5L125.9 241.5L126.4 241.5L126.9 241.5L127.4 241.6L127.9 241.6L128.4 241.6L128.9 241.6L129.4 241.7L129.9 241.7L130.4 241.7L130.9 241.7L131.4 241.7L131.9 241.7L132.4 241.8L132.9 241.8L133.4 241.8L133.9 241.8L134.4 241.8L134.9 241.9L135.4 241.9L135.9 241.9L136.4 241.9L136.9 241.9L137.4 241.9L137.8 242.0L138.3 242.0L138.8 242.0L139.3 242.0L139.8 242.0L140.3 242.0L140.8 242.0L141.3 242.1L141.8 242.1L142.3 242.1L142.8 242.1L143.3 242.1L143.8 242.1L144.3 242.1L144.8 242.1L145.3 242.1L145.8 242.2L146.3 242.2L146.8 242.2L147.3 242.2L147.8 242.2L148.3 242.2L148.8 242.2L149.3 242.2L149.8 242.2L150.3 242.2L150.8 242.3L151.3 242.3L151.7 242.3L152.2 242.3L152.7 242.3L153.2 242.3L153.7 242.3L154.2 242.3L154.7 242.3L155.2 242.3L155.7 242.4L156.2 242.4L156.7 242.4L157.2 242.4L157.7 242.4L158.2 242.4L158.7 242.4L159.2 242.4L159.7 242.4L160.2 242.4L160.7 242.4L161.2 242.4L161.7 242.4L162.2 242.5L162.7 242.5L163.2 242.5L163.7 242.5L164.2 242.5L164.7 242.5L165.2 242.5L165.6 242.5L166.1 242.5L166.6 242.5L167.1 242.5L167.6 242.5L168.1 242.5L168.6 242.5L169.1 242.6L169.6 242.6L170.1 242.6L170.6 242.6L171.1 242.6L171.6 242.6L172.1 242.6L172.6 242.6L173.1 242.6L173.6 242.6L174.1 242.6L174.6 242.6L175.1 242.6L175.6 242.6L176.1 242.6L176.6 242.6L177.1 242.6L177.6 242.7L178.1 242.7L178.6 242.7L179.1 242.7L179.5 242.7L180.0 242.7L180.5 242.7L181.0 242.7L181.5 242.7L182.0 242.7L182.5 242.7L183.0 242.7L183.5 242.7L184.0 242.7L184.5 242.7L185.0 242.7L185.5 242.7L186.0 242.7L186.5 242.7L187.0 242.7L187.5 242.7L188.0 242.7L188.5 242.8L189.0 242.8L189.5 242.8L190.0 242.8L190.5 242.8L191.0 242.8L191.5 242.8L192.0 242.8L192.5 242.8L193.0 242.8L193.4 242.8L193.9 242.8L194.4 242.8L194.9 242.8L195.4 242.8L195.9 242.8L196.4 242.8L196.9 242.8L197.4 242.8L197.9 242.8L198.4 242.8L198.9 242.8L199.4 242.8L199.9 242.8L200.4 242.8L200.9 242.8L201.4 242.9L201.9 242.9L202.4 242.9L202.9 242.9L203.4 242.9L203.9 242.9L204.4 242.9L204.9 242.9L205.4 242.9L205.9 242.9L206.4 242.9L206.9 242.9L207.3 242.9L207.8 242.9L208.3 242.9L208.8 242.9L209.3 242.9L209.8 242.9L210.3 242.9L210.8 242.9L211.3 242.9L211.8 242.9L212.3 242.9L212.8 242.9L213.3 242.9L213.8 242.9L214.3 242.9L214.8 242.9L215.3 242.9L215.8 242.9L216.3 242.9L216.8 242.9L217.3 242.9L217.8 242.9L218.3 242.9L218.8 242.9L219.3 243.0L219.8 243.0L220.3 243.0L220.8 243.0L221.2 243.0L221.7 243.0L222.2 243.0L222.7 243.0L223.2 243.0L223.7 243.0L224.2 243.0L224.7 243.0L225.2 243.0L225.7 243.0L226.2 243.0L226.7 243.0L227.2 243.0L227.7 243.0L227.7 243.4Z" fill="#C44E52" fill-opacity="0.40" stroke="none"/>
<path d="M19.7 142.4L20.2 142.4L20.7 142.4L21.2 142.4L21.7 142.4L22.2 142.4L22.7 142.4L23.2 142.4L23.7 142.4L24.2 142.4L24.7 142.4L25.2 142.4L25.7 142.4L26.2 142.4L26.6 142.4L27.1 142.4L27.6 142.4L28.1 143.1L28.6 144.6L29.1 146.2L29.6 147.7L30.1 149.2L30.6 150.8L31.1 152.3L31.6 154.1L32.1 156.0L32.6 157.9L33.1 159.8L33.6 161.7L34.1 163.5L34.6 165.3L35.1 167.1L35.6 168.9L36.1 170.6L36.6 172.4L37.1 174.2L37.6 175.9L38.1 177.7L38.6 179.4L39.1 181.2L39.6 182.9L40.1 184.6L40.5 186.4L41.0 188.1L41.5 189.8L42.0 191.6L42.5 193.3L43.0 194.8L43.5 196.4L44.0 197.9L44.5 199.4L45.0 200.9L45.5 202.4L46.0 203.9L46.5 205.4L47.0 206.9L47.5 208.0L48.0 209.2L48.5 210.4L49.0 211.6L49.5 212.7L50.0 213.9L50.5 215.1L51.0 216.3L51.5 217.5L52.0 218.6L52.5 219.7L53.0 220.8L53.5 221.6L54.0 222.3L54.4 223.0L54.9 223.7L55.4 224.5L55.9 225.2L56.4 225.9L56.9 226.6L57.4 227.3L57.9 228.0L58.4 228.6L58.9 229.2L59.4 229.8L59.9 230.3L60.4 230.7L60.9 231.1L61.4 231.4L61.9 231.7L62.4 232.0L62.9 232.3L63.4 232.6L63.9 232.9L64.4 233.1L64.9 233.4L65.4 233.6L65.9 233.9L66.4 234.1L66.9 234.3L67.4 234.5L67.9 234.7L68.3 234.9L68.8 235.1L69.3 235.3L69.8 235.4L70.3 235.6L70.8 235.7L71.3 235.9L71.8 236.0L72.3 236.2L72.8 236.3L73.3 236.4L73.8 236.5L74.3 236.7L74.8 236.8L75.3 236.9L75.8 237.0L76.3 237.1L76.8 237.2L77.3 237.3L77.8 237.4L78.3 237.5L78.8 237.6L79.3 237.7L79.8 237.8L80.3 237.9L80.8 238.0L81.3 238.0L81.8 238.1L82.2 238.2L82.7 238.3L83.2 238.4L83.7 238.4L84.2 238.5L84.7 238.6L85.2 238.6L85.7 238.7L86.2 238.8L86.7 238.8L87.2 238.9L87.7 239.0L88.2 239.0L88.7 239.1L89.2 239.1L89.7 239.2L90.2 239.2L90.7 239.3L91.2 239.3L91.7 239.4L92.2 239.4L92.7 239.5L93.2 239.5L93.7 239.6L94.2 239.6L94.7 239.7L95.2 239.7L95.7 239.8L96.1 239.8L96.6 239.8L97.1 239.9L97.6 239.9L98.1 239.9L98.6 240.0L99.1 240.0L99.6 240.1L100.1 240.1L100.6 240.1L101.1 240.2L101.6 240.2L102.1 240.2L102.6 240.3L103.1 240.3L103.6 240.3L104.1 240.4L104.6 240.4L105.1 240.4L105.6 240.5L106.1 240.5L106.6 240.5L107.1 240.5L107.6 240.6L108.1 240.6L108.6 240.6L109.1 240.7L109.6 240.7L110.0 240.7L110.5 240.7L111.0 240.8L111.5 240.8L112.0 240.8L112.5 240.8L113.0 240.9L113.5 240.9L114.0 240.9L114.5 240.9L115.0 241.0L115.5 241.0L116.0 241.0L116.5 241.1L117.0 241.1L117.5 241.1L118.0 241.1L118.5 241.2L119.0 241.2L119.5 241.2L120.0 241.2L120.5 241.3L121.0 241.3L121.5 241.3L122.0 241.3L122.5 241.3L123.0 241.4L123.5 241.4L123.9 241.4L124.4 241.4L124.9 241.5L125.4 241.5L125.9 241.5L126.4 241.5L126.9 241.5L127.4 241.6L127.9 241.6L128.4 241.6L128.9 241.6L129.4 241.7L129.9 241.7L130.4 241.7L130.9 241.7L131.4 241.7L131.9 241.7L132.4 241.8L132.9 241.8L133.4 241.8L133.9 241.8L134.4 241.8L134.9 241.9L135.4 241.9L135.9 241.9L136.4 241.9L136.9 241.9L137.4 241.9L137.8 242.0L138.3 242.0L138.8 242.0L139.3 242.0L139.8 242.0L140.3 242.0L140.8 242.0L141.3 242.1L141.8 242.1L142.3 242.1L142.8 242.1L143.3 242.1L143.8 242.1L144.3 242.1L144.8 242.1L145.3 242.1L145.8 242.2L146.3 242.2L146.8 242.2L147.3 242.2L147.8 242.2L148.3 242.2L148.8 242.2L149.3 242.2L149.8 242.2L150.3 242.2L150.8 242.3L151.3 242.3L151.7 242.3L152.2 242.3L152.7 242.3L153.2 242.3L153.7 242.3L154.2 242.3L154.7 242.3L155.2 242.3L155.7 242.4L156.2 242.4L156.7 242.4L157.2 242.4L157.7 242.4L158.2 242.4L158.7 242.4L159.2 242.4L159.7 242.4L160.2 242.4L160.7 242.4L161.2 242.4L161.7 242.4L162.2 242.5L162.7 242.5L163.2 242.5L163.7 242.5L164.2 242.5L164.7 242.5L165.2 242.5L165.6 242.5L166.1 242.5L166.6 242.5L167.1 242.5L167.6 242.5L168.1 242.5L168.6 242.5L169.1 242.6L169.6 242.6L170.1 242.6L170.6 242.6L171.1 242.6L171.6 242.6L172.1 242.6L172.6 242.6L173.1 242.6L173.6 242.6L174.1 242.6L174.6 242.6L175.1 242.6L175.6 242.6L176.1 242.6L176.6 242.6L177.1 242.6L177.6 242.7L178.1 242.7L178.6 242.7L179.1 242.7L179.5 242.7L180.0 242.7L180.5 242.7L181.0 242.7L181.5 242.7L182.0 242.7L182.5 242.7L183.0 242.7L183.5 242.7L184.0 242.7L184.5 242.7L185.0 242.7L185.5 242.7L186.0 242.7L186.5 242.7L187.0 242.7L187.5 242.7L188.0 242.7L188.5 242.8L189.0 242.8L189.5 242.8L190.0 242.8L190.5 242.8L191.0 242.8L191.5 242.8L192.0 242.8L192.5 242.8L193.0 242.8L193.4 242.8L193.9 242.8L194.4 242.8L194.9 242.8L195.4 242.8L195.9 242.8L196.4 242.8L196.9 242.8L197.4 242.8L197.9 242.8L198.4 242.8L198.9 242.8L199.4 242.8L199.9 242.8L200.4 242.8L200.9 242.8L201.4 242.9L201.9 242.9L202.4 242.9L202.9 242.9L203.4 242.9L203.9 242.9L204.4 242.9L204.9 242.9L205.4 242.9L205.9 242.9L206.4 242.9L206.9 242.9L207.3 242.9L207.8 242.9L208.3 242.9L208.8 242.9L209.3 242.9L209.8 242.9L210.3 242.9L210.8 242.9L211.3 242.9L211.8 242.9L212.3 242.9L212.8 242.9L213.3 242.9L213.8 242.9L214.3 242.9L214.8 242.9L215.3 242.9L215.8 242.9L216.3 242.9L216.8 242.9L217.3 242.9L217.8 242.9L218.3 242.9L218.8 242.9L219.3 243.0L219.8 243.0L220.3 243.0L220.8 243.0L221.2 243.0L221.7 243.0L222.2 243.0L222.7 243.0L223.2 243.0L223.7 243.0L224.2 243.0L224.7 243.0L225.2 243.0L225.7 243.0L226.2 243.0L226.7 243.0L227.2 243.0L227.7 243.0" fill="none" stroke="#C44E52" stroke-width="0.5" stroke-opacity="0.85" stroke-linejoin="round"/>
</g>
<path d="M23.70 137.40V243.40H223.70V137.40" fill="none" stroke="#e2e2e2" stroke-width="1.1"/>
<path d="M23.70 137.40H223.70" fill="none" stroke="#ececec" stroke-width="1.1"/>
<text transform="translate(23.70 251.40) scale(0.900 1.070)" text-anchor="middle" class="tk">0.00</text>
<text transform="translate(63.70 251.40) scale(0.900 1.070)" text-anchor="middle" class="tk">0.02</text>
<text transform="translate(103.70 251.40) scale(0.900 1.070)" text-anchor="middle" class="tk">0.04</text>
<text transform="translate(143.70 251.40) scale(0.900 1.070)" text-anchor="middle" class="tk">0.06</text>
<text transform="translate(183.70 251.40) scale(0.900 1.070)" text-anchor="middle" class="tk">0.08</text>
<text transform="translate(223.70 251.40) scale(0.900 1.070)" text-anchor="middle" class="tk">0.1</text>
<text transform="translate(20.30 245.75) scale(0.900 1.070)" text-anchor="end" class="tk">0</text>
<text transform="translate(20.30 224.25) scale(0.900 1.070)" text-anchor="end" class="tk">10</text>
<text transform="translate(20.30 202.75) scale(0.900 1.070)" text-anchor="end" class="tk">20</text>
<text transform="translate(20.30 181.25) scale(0.900 1.070)" text-anchor="end" class="tk">30</text>
<text transform="translate(20.30 159.75) scale(0.900 1.070)" text-anchor="end" class="tk">40</text>
<text transform="translate(113.20 264.00) scale(1.020 1.190)" text-anchor="middle" class="lb">Area (µm²)</text>
<text transform="translate(10.50 191.50) rotate(-90) scale(1.120 1.000)" text-anchor="middle" class="yl">Density</text>
<text transform="translate(10.75 142.30) scale(1.040 1.120)" class="pl">d</text>
<rect x="183.40" y="141.30" width="35.90" height="46.90" rx="1.3" fill="#fff" fill-opacity="0.8" stroke="#d4d4d4" stroke-width="0.6"/>
<rect x="186.50" y="145.00" width="15.6" height="5.1" fill="#4C72B0" fill-opacity="0.40" stroke="#4C72B0" stroke-width="0.5" stroke-opacity="0.8"/>
<text transform="translate(208.20 150.45) scale(0.895 1.110)" class="lg">#1</text>
<rect x="186.50" y="156.15" width="15.6" height="5.1" fill="#DD8452" fill-opacity="0.40" stroke="#DD8452" stroke-width="0.5" stroke-opacity="0.8"/>
<text transform="translate(208.20 161.60) scale(0.895 1.110)" class="lg">#2</text>
<rect x="186.50" y="167.30" width="15.6" height="5.1" fill="#55A868" fill-opacity="0.40" stroke="#55A868" stroke-width="0.5" stroke-opacity="0.8"/>
<text transform="translate(208.20 172.75) scale(0.895 1.110)" class="lg">#3</text>
<rect x="186.50" y="178.45" width="15.6" height="5.1" fill="#C44E52" fill-opacity="0.40" stroke="#C44E52" stroke-width="0.5" stroke-opacity="0.8"/>
<text transform="translate(208.20 183.90) scale(0.895 1.110)" class="lg">#4</text>
<clipPath id="c4"><rect x="242.10" y="137.40" width="204.50" height="106.00"/></clipPath>
<path d="M266.70 137.40V243.40M296.68 137.40V243.40M326.66 137.40V243.40M356.64 137.40V243.40M386.62 137.40V243.40M416.60 137.40V243.40M242.10 221.90H446.60M242.10 200.40H446.60M242.10 178.90H446.60M242.10 157.40H446.60" stroke="#dfdfdf" stroke-width="0.7" fill="none"/>
<g clip-path="url(#c4)">
<path d="M241.2 243.4L241.2 243.4L242.0 243.4L242.8 243.4L243.6 243.4L244.4 243.4L245.2 243.4L246.0 243.4L246.8 243.4L247.6 243.4L248.4 243.4L249.1 243.4L249.9 243.4L250.7 243.4L251.5 243.4L252.3 243.3L253.1 243.3L253.9 243.1L254.7 242.9L255.5 242.6L256.3 242.0L257.1 241.3L257.9 240.3L258.7 239.1L259.5 237.8L260.2 236.3L261.0 234.8L261.8 233.2L262.6 231.8L263.4 230.3L264.2 228.9L265.0 227.5L265.8 226.2L266.6 225.0L267.4 224.0L268.2 223.1L269.0 222.5L269.8 222.0L270.6 221.6L271.3 221.3L272.1 221.0L272.9 220.8L273.7 220.6L274.5 220.5L275.3 220.4L276.1 220.3L276.9 220.3L277.7 220.3L278.5 220.3L279.3 220.4L280.1 220.4L280.9 220.5L281.7 220.6L282.4 220.8L283.2 220.9L284.0 221.0L284.8 221.1L285.6 221.1L286.4 221.2L287.2 221.2L288.0 221.2L288.8 221.3L289.6 221.3L290.4 221.3L291.2 221.3L292.0 221.3L292.8 221.3L293.5 221.3L294.3 221.3L295.1 221.3L295.9 221.2L296.7 221.2L297.5 221.2L298.3 221.2L299.1 221.1L299.9 221.0L300.7 221.0L301.5 220.9L302.3 220.7L303.1 220.6L303.9 220.5L304.6 220.3L305.4 220.2L306.2 220.0L307.0 219.9L307.8 219.7L308.6 219.6L309.4 219.4L310.2 219.3L311.0 219.1L311.8 219.0L312.6 218.9L313.4 218.7L314.2 218.6L315.0 218.5L315.8 218.4L316.5 218.2L317.3 218.1L318.1 218.0L318.9 217.8L319.7 217.7L320.5 217.6L321.3 217.5L322.1 217.3L322.9 217.2L323.7 217.1L324.5 217.0L325.3 216.8L326.1 216.7L326.9 216.6L327.6 216.5L328.4 216.4L329.2 216.3L330.0 216.2L330.8 216.1L331.6 216.0L332.4 215.9L333.2 215.9L334.0 215.8L334.8 215.7L335.6 215.7L336.4 215.6L337.2 215.6L338.0 215.5L338.7 215.4L339.5 215.4L340.3 215.3L341.1 215.3L341.9 215.3L342.7 215.2L343.5 215.2L344.3 215.1L345.1 215.1L345.9 215.0L346.7 215.0L347.5 214.9L348.3 214.9L349.1 214.9L349.8 214.8L350.6 214.8L351.4 214.7L352.2 214.7L353.0 214.6L353.8 214.6L354.6 214.5L355.4 214.5L356.2 214.4L357.0 214.4L357.8 214.4L358.6 214.4L359.4 214.4L360.2 214.4L360.9 214.5L361.7 214.5L362.5 214.6L363.3 214.7L364.1 214.7L364.9 214.8L365.7 214.9L366.5 215.1L367.3 215.2L368.1 215.3L368.9 215.5L369.7 215.6L370.5 215.8L371.3 216.0L372.0 216.3L372.8 216.6L373.6 217.0L374.4 217.5L375.2 218.0L376.0 218.6L376.8 219.2L377.6 219.8L378.4 220.5L379.2 221.2L380.0 221.9L380.8 222.7L381.6 223.5L382.4 224.4L383.1 225.3L383.9 226.3L384.7 227.3L385.5 228.4L386.3 229.4L387.1 230.5L387.9 231.5L388.7 232.4L389.5 233.2L390.3 234.0L391.1 234.8L391.9 235.4L392.7 236.1L393.5 236.7L394.2 237.3L395.0 237.8L395.8 238.3L396.6 238.8L397.4 239.2L398.2 239.7L399.0 240.0L399.8 240.4L400.6 240.7L401.4 241.1L402.2 241.4L403.0 241.7L403.8 241.9L404.6 242.2L405.3 242.4L406.1 242.6L406.9 242.7L407.7 242.9L408.5 243.0L409.3 243.0L410.1 243.1L410.9 243.2L411.7 243.2L412.5 243.3L413.3 243.3L414.1 243.3L414.9 243.4L415.7 243.4L416.4 243.4L417.2 243.4L418.0 243.4L418.8 243.4L419.6 243.4L420.4 243.4L421.2 243.4L422.0 243.4L422.8 243.4L423.6 243.4L424.4 243.4L425.2 243.4L426.0 243.4L426.8 243.4L427.6 243.4L428.3 243.4L429.1 243.4L429.9 243.4L430.7 243.4L431.5 243.4L432.3 243.4L433.1 243.4L433.9 243.4L434.7 243.4L435.5 243.4L436.3 243.4L437.1 243.4L437.9 243.4L438.7 243.4L439.4 243.4L440.2 243.4L441.0 243.4L441.8 243.4L442.6 243.4L443.4 243.4L444.2 243.4L445.0 243.4L445.8 243.4L446.6 243.4L446.6 243.4Z" fill="#4C72B0" fill-opacity="0.40" stroke="none"/>
<path d="M241.2 243.4L242.0 243.4L242.8 243.4L243.6 243.4L244.4 243.4L245.2 243.4L246.0 243.4L246.8 243.4L247.6 243.4L248.4 243.4L249.1 243.4L249.9 243.4L250.7 243.4L251.5 243.4L252.3 243.3L253.1 243.3L253.9 243.1L254.7 242.9L255.5 242.6L256.3 242.0L257.1 241.3L257.9 240.3L258.7 239.1L259.5 237.8L260.2 236.3L261.0 234.8L261.8 233.2L262.6 231.8L263.4 230.3L264.2 228.9L265.0 227.5L265.8 226.2L266.6 225.0L267.4 224.0L268.2 223.1L269.0 222.5L269.8 222.0L270.6 221.6L271.3 221.3L272.1 221.0L272.9 220.8L273.7 220.6L274.5 220.5L275.3 220.4L276.1 220.3L276.9 220.3L277.7 220.3L278.5 220.3L279.3 220.4L280.1 220.4L280.9 220.5L281.7 220.6L282.4 220.8L283.2 220.9L284.0 221.0L284.8 221.1L285.6 221.1L286.4 221.2L287.2 221.2L288.0 221.2L288.8 221.3L289.6 221.3L290.4 221.3L291.2 221.3L292.0 221.3L292.8 221.3L293.5 221.3L294.3 221.3L295.1 221.3L295.9 221.2L296.7 221.2L297.5 221.2L298.3 221.2L299.1 221.1L299.9 221.0L300.7 221.0L301.5 220.9L302.3 220.7L303.1 220.6L303.9 220.5L304.6 220.3L305.4 220.2L306.2 220.0L307.0 219.9L307.8 219.7L308.6 219.6L309.4 219.4L310.2 219.3L311.0 219.1L311.8 219.0L312.6 218.9L313.4 218.7L314.2 218.6L315.0 218.5L315.8 218.4L316.5 218.2L317.3 218.1L318.1 218.0L318.9 217.8L319.7 217.7L320.5 217.6L321.3 217.5L322.1 217.3L322.9 217.2L323.7 217.1L324.5 217.0L325.3 216.8L326.1 216.7L326.9 216.6L327.6 216.5L328.4 216.4L329.2 216.3L330.0 216.2L330.8 216.1L331.6 216.0L332.4 215.9L333.2 215.9L334.0 215.8L334.8 215.7L335.6 215.7L336.4 215.6L337.2 215.6L338.0 215.5L338.7 215.4L339.5 215.4L340.3 215.3L341.1 215.3L341.9 215.3L342.7 215.2L343.5 215.2L344.3 215.1L345.1 215.1L345.9 215.0L346.7 215.0L347.5 214.9L348.3 214.9L349.1 214.9L349.8 214.8L350.6 214.8L351.4 214.7L352.2 214.7L353.0 214.6L353.8 214.6L354.6 214.5L355.4 214.5L356.2 214.4L357.0 214.4L357.8 214.4L358.6 214.4L359.4 214.4L360.2 214.4L360.9 214.5L361.7 214.5L362.5 214.6L363.3 214.7L364.1 214.7L364.9 214.8L365.7 214.9L366.5 215.1L367.3 215.2L368.1 215.3L368.9 215.5L369.7 215.6L370.5 215.8L371.3 216.0L372.0 216.3L372.8 216.6L373.6 217.0L374.4 217.5L375.2 218.0L376.0 218.6L376.8 219.2L377.6 219.8L378.4 220.5L379.2 221.2L380.0 221.9L380.8 222.7L381.6 223.5L382.4 224.4L383.1 225.3L383.9 226.3L384.7 227.3L385.5 228.4L386.3 229.4L387.1 230.5L387.9 231.5L388.7 232.4L389.5 233.2L390.3 234.0L391.1 234.8L391.9 235.4L392.7 236.1L393.5 236.7L394.2 237.3L395.0 237.8L395.8 238.3L396.6 238.8L397.4 239.2L398.2 239.7L399.0 240.0L399.8 240.4L400.6 240.7L401.4 241.1L402.2 241.4L403.0 241.7L403.8 241.9L404.6 242.2L405.3 242.4L406.1 242.6L406.9 242.7L407.7 242.9L408.5 243.0L409.3 243.0L410.1 243.1L410.9 243.2L411.7 243.2L412.5 243.3L413.3 243.3L414.1 243.3L414.9 243.4L415.7 243.4L416.4 243.4L417.2 243.4L418.0 243.4L418.8 243.4L419.6 243.4L420.4 243.4L421.2 243.4L422.0 243.4L422.8 243.4L423.6 243.4L424.4 243.4L425.2 243.4L426.0 243.4L426.8 243.4L427.6 243.4L428.3 243.4L429.1 243.4L429.9 243.4L430.7 243.4L431.5 243.4L432.3 243.4L433.1 243.4L433.9 243.4L434.7 243.4L435.5 243.4L436.3 243.4L437.1 243.4L437.9 243.4L438.7 243.4L439.4 243.4L440.2 243.4L441.0 243.4L441.8 243.4L442.6 243.4L443.4 243.4L444.2 243.4L445.0 243.4L445.8 243.4L446.6 243.4" fill="none" stroke="#4C72B0" stroke-width="0.5" stroke-opacity="0.85" stroke-linejoin="round"/>
<path d="M241.2 243.4L241.2 243.4L242.0 243.4L242.8 243.4L243.6 243.4L244.4 243.4L245.2 243.4L246.0 243.4L246.8 243.4L247.6 243.4L248.4 243.4L249.1 243.4L249.9 243.4L250.7 243.4L251.5 243.3L252.3 243.2L253.1 243.0L253.9 242.7L254.7 242.1L255.5 241.3L256.3 240.1L257.1 238.6L257.9 236.8L258.7 234.7L259.5 232.5L260.2 230.2L261.0 227.9L261.8 225.8L262.6 223.7L263.4 221.7L264.2 219.9L265.0 218.0L265.8 216.3L266.6 214.7L267.4 213.3L268.2 212.1L269.0 211.1L269.8 210.2L270.6 209.4L271.3 208.8L272.1 208.2L272.9 207.6L273.7 207.2L274.5 206.8L275.3 206.5L276.1 206.3L276.9 206.2L277.7 206.3L278.5 206.4L279.3 206.6L280.1 206.9L280.9 207.3L281.7 207.8L282.4 208.3L283.2 208.8L284.0 209.4L284.8 210.0L285.6 210.6L286.4 211.4L287.2 212.1L288.0 212.9L288.8 213.6L289.6 214.3L290.4 214.9L291.2 215.4L292.0 215.7L292.8 216.0L293.5 216.2L294.3 216.4L295.1 216.5L295.9 216.6L296.7 216.8L297.5 217.0L298.3 217.2L299.1 217.4L299.9 217.6L300.7 217.8L301.5 218.0L302.3 218.2L303.1 218.4L303.9 218.6L304.6 218.7L305.4 218.8L306.2 218.8L307.0 218.9L307.8 218.9L308.6 218.9L309.4 218.8L310.2 218.8L311.0 218.8L311.8 218.8L312.6 218.7L313.4 218.7L314.2 218.7L315.0 218.6L315.8 218.6L316.5 218.6L317.3 218.5L318.1 218.5L318.9 218.4L319.7 218.4L320.5 218.4L321.3 218.3L322.1 218.3L322.9 218.3L323.7 218.2L324.5 218.2L325.3 218.2L326.1 218.2L326.9 218.1L327.6 218.1L328.4 218.1L329.2 218.1L330.0 218.0L330.8 218.0L331.6 218.0L332.4 218.0L333.2 217.9L334.0 217.9L334.8 217.9L335.6 217.9L336.4 217.9L337.2 217.8L338.0 217.8L338.7 217.8L339.5 217.8L340.3 217.8L341.1 217.9L341.9 217.9L342.7 217.9L343.5 218.0L344.3 218.0L345.1 218.1L345.9 218.2L346.7 218.3L347.5 218.4L348.3 218.5L349.1 218.6L349.8 218.7L350.6 218.8L351.4 219.0L352.2 219.1L353.0 219.3L353.8 219.4L354.6 219.6L355.4 219.7L356.2 219.9L357.0 220.1L357.8 220.3L358.6 220.5L359.4 220.7L360.2 221.0L360.9 221.3L361.7 221.6L362.5 221.9L363.3 222.2L364.1 222.6L364.9 222.9L365.7 223.3L366.5 223.7L367.3 224.1L368.1 224.6L368.9 225.0L369.7 225.5L370.5 225.9L371.3 226.4L372.0 226.9L372.8 227.5L373.6 228.1L374.4 228.7L375.2 229.4L376.0 230.1L376.8 230.8L377.6 231.5L378.4 232.2L379.2 232.8L380.0 233.5L380.8 234.1L381.6 234.7L382.4 235.2L383.1 235.8L383.9 236.3L384.7 236.8L385.5 237.4L386.3 237.9L387.1 238.3L387.9 238.8L388.7 239.2L389.5 239.6L390.3 240.0L391.1 240.3L391.9 240.6L392.7 240.9L393.5 241.2L394.2 241.4L395.0 241.6L395.8 241.9L396.6 242.1L397.4 242.3L398.2 242.4L399.0 242.6L399.8 242.7L400.6 242.8L401.4 242.9L402.2 243.0L403.0 243.1L403.8 243.1L404.6 243.2L405.3 243.2L406.1 243.3L406.9 243.3L407.7 243.3L408.5 243.4L409.3 243.4L410.1 243.4L410.9 243.4L411.7 243.4L412.5 243.4L413.3 243.4L414.1 243.4L414.9 243.4L415.7 243.4L416.4 243.4L417.2 243.4L418.0 243.4L418.8 243.4L419.6 243.4L420.4 243.4L421.2 243.4L422.0 243.4L422.8 243.4L423.6 243.4L424.4 243.4L425.2 243.4L426.0 243.4L426.8 243.4L427.6 243.4L428.3 243.4L429.1 243.4L429.9 243.4L430.7 243.4L431.5 243.4L432.3 243.4L433.1 243.4L433.9 243.4L434.7 243.4L435.5 243.4L436.3 243.4L437.1 243.4L437.9 243.4L438.7 243.4L439.4 243.4L440.2 243.4L441.0 243.4L441.8 243.4L442.6 243.4L443.4 243.4L444.2 243.4L445.0 243.4L445.8 243.4L446.6 243.4L446.6 243.4Z" fill="#DD8452" fill-opacity="0.40" stroke="none"/>
<path d="M241.2 243.4L242.0 243.4L242.8 243.4L243.6 243.4L244.4 243.4L245.2 243.4L246.0 243.4L246.8 243.4L247.6 243.4L248.4 243.4L249.1 243.4L249.9 243.4L250.7 243.4L251.5 243.3L252.3 243.2L253.1 243.0L253.9 242.7L254.7 242.1L255.5 241.3L256.3 240.1L257.1 238.6L257.9 236.8L258.7 234.7L259.5 232.5L260.2 230.2L261.0 227.9L261.8 225.8L262.6 223.7L263.4 221.7L264.2 219.9L265.0 218.0L265.8 216.3L266.6 214.7L267.4 213.3L268.2 212.1L269.0 211.1L269.8 210.2L270.6 209.4L271.3 208.8L272.1 208.2L272.9 207.6L273.7 207.2L274.5 206.8L275.3 206.5L276.1 206.3L276.9 206.2L277.7 206.3L278.5 206.4L279.3 206.6L280.1 206.9L280.9 207.3L281.7 207.8L282.4 208.3L283.2 208.8L284.0 209.4L284.8 210.0L285.6 210.6L286.4 211.4L287.2 212.1L288.0 212.9L288.8 213.6L289.6 214.3L290.4 214.9L291.2 215.4L292.0 215.7L292.8 216.0L293.5 216.2L294.3 216.4L295.1 216.5L295.9 216.6L296.7 216.8L297.5 217.0L298.3 217.2L299.1 217.4L299.9 217.6L300.7 217.8L301.5 218.0L302.3 218.2L303.1 218.4L303.9 218.6L304.6 218.7L305.4 218.8L306.2 218.8L307.0 218.9L307.8 218.9L308.6 218.9L309.4 218.8L310.2 218.8L311.0 218.8L311.8 218.8L312.6 218.7L313.4 218.7L314.2 218.7L315.0 218.6L315.8 218.6L316.5 218.6L317.3 218.5L318.1 218.5L318.9 218.4L319.7 218.4L320.5 218.4L321.3 218.3L322.1 218.3L322.9 218.3L323.7 218.2L324.5 218.2L325.3 218.2L326.1 218.2L326.9 218.1L327.6 218.1L328.4 218.1L329.2 218.1L330.0 218.0L330.8 218.0L331.6 218.0L332.4 218.0L333.2 217.9L334.0 217.9L334.8 217.9L335.6 217.9L336.4 217.9L337.2 217.8L338.0 217.8L338.7 217.8L339.5 217.8L340.3 217.8L341.1 217.9L341.9 217.9L342.7 217.9L343.5 218.0L344.3 218.0L345.1 218.1L345.9 218.2L346.7 218.3L347.5 218.4L348.3 218.5L349.1 218.6L349.8 218.7L350.6 218.8L351.4 219.0L352.2 219.1L353.0 219.3L353.8 219.4L354.6 219.6L355.4 219.7L356.2 219.9L357.0 220.1L357.8 220.3L358.6 220.5L359.4 220.7L360.2 221.0L360.9 221.3L361.7 221.6L362.5 221.9L363.3 222.2L364.1 222.6L364.9 222.9L365.7 223.3L366.5 223.7L367.3 224.1L368.1 224.6L368.9 225.0L369.7 225.5L370.5 225.9L371.3 226.4L372.0 226.9L372.8 227.5L373.6 228.1L374.4 228.7L375.2 229.4L376.0 230.1L376.8 230.8L377.6 231.5L378.4 232.2L379.2 232.8L380.0 233.5L380.8 234.1L381.6 234.7L382.4 235.2L383.1 235.8L383.9 236.3L384.7 236.8L385.5 237.4L386.3 237.9L387.1 238.3L387.9 238.8L388.7 239.2L389.5 239.6L390.3 240.0L391.1 240.3L391.9 240.6L392.7 240.9L393.5 241.2L394.2 241.4L395.0 241.6L395.8 241.9L396.6 242.1L397.4 242.3L398.2 242.4L399.0 242.6L399.8 242.7L400.6 242.8L401.4 242.9L402.2 243.0L403.0 243.1L403.8 243.1L404.6 243.2L405.3 243.2L406.1 243.3L406.9 243.3L407.7 243.3L408.5 243.4L409.3 243.4L410.1 243.4L410.9 243.4L411.7 243.4L412.5 243.4L413.3 243.4L414.1 243.4L414.9 243.4L415.7 243.4L416.4 243.4L417.2 243.4L418.0 243.4L418.8 243.4L419.6 243.4L420.4 243.4L421.2 243.4L422.0 243.4L422.8 243.4L423.6 243.4L424.4 243.4L425.2 243.4L426.0 243.4L426.8 243.4L427.6 243.4L428.3 243.4L429.1 243.4L429.9 243.4L430.7 243.4L431.5 243.4L432.3 243.4L433.1 243.4L433.9 243.4L434.7 243.4L435.5 243.4L436.3 243.4L437.1 243.4L437.9 243.4L438.7 243.4L439.4 243.4L440.2 243.4L441.0 243.4L441.8 243.4L442.6 243.4L443.4 243.4L444.2 243.4L445.0 243.4L445.8 243.4L446.6 243.4" fill="none" stroke="#DD8452" stroke-width="0.5" stroke-opacity="0.85" stroke-linejoin="round"/>
<path d="M241.2 243.4L241.2 243.4L242.0 243.4L242.8 243.4L243.6 243.4L244.4 243.4L245.2 243.4L246.0 243.4L246.8 243.4L247.6 243.4L248.4 243.4L249.1 243.4L249.9 243.4L250.7 243.4L251.5 243.4L252.3 243.4L253.1 243.4L253.9 243.4L254.7 243.3L255.5 243.2L256.3 243.0L257.1 242.8L257.9 242.4L258.7 242.0L259.5 241.4L260.2 240.7L261.0 239.8L261.8 238.9L262.6 238.0L263.4 237.1L264.2 236.1L265.0 235.3L265.8 234.6L266.6 233.9L267.4 233.4L268.2 232.9L269.0 232.5L269.8 232.1L270.6 231.7L271.3 231.4L272.1 231.1L272.9 230.8L273.7 230.5L274.5 230.2L275.3 229.9L276.1 229.6L276.9 229.3L277.7 229.0L278.5 228.7L279.3 228.4L280.1 228.1L280.9 227.8L281.7 227.5L282.4 227.2L283.2 226.9L284.0 226.5L284.8 226.2L285.6 225.9L286.4 225.6L287.2 225.3L288.0 224.9L288.8 224.6L289.6 224.2L290.4 223.9L291.2 223.5L292.0 223.1L292.8 222.8L293.5 222.5L294.3 222.1L295.1 221.8L295.9 221.5L296.7 221.3L297.5 221.0L298.3 220.8L299.1 220.6L299.9 220.4L300.7 220.2L301.5 220.1L302.3 219.9L303.1 219.7L303.9 219.6L304.6 219.4L305.4 219.2L306.2 219.1L307.0 218.9L307.8 218.8L308.6 218.6L309.4 218.5L310.2 218.3L311.0 218.1L311.8 217.9L312.6 217.8L313.4 217.6L314.2 217.4L315.0 217.2L315.8 217.0L316.5 216.8L317.3 216.6L318.1 216.4L318.9 216.2L319.7 216.0L320.5 215.8L321.3 215.5L322.1 215.3L322.9 215.1L323.7 214.9L324.5 214.7L325.3 214.6L326.1 214.4L326.9 214.2L327.6 214.0L328.4 213.8L329.2 213.7L330.0 213.5L330.8 213.4L331.6 213.2L332.4 213.1L333.2 212.9L334.0 212.8L334.8 212.7L335.6 212.5L336.4 212.4L337.2 212.3L338.0 212.1L338.7 212.0L339.5 211.9L340.3 211.8L341.1 211.6L341.9 211.5L342.7 211.4L343.5 211.3L344.3 211.2L345.1 211.1L345.9 211.0L346.7 210.9L347.5 210.7L348.3 210.6L349.1 210.5L349.8 210.3L350.6 210.2L351.4 210.0L352.2 209.8L353.0 209.6L353.8 209.4L354.6 209.1L355.4 208.9L356.2 208.7L357.0 208.5L357.8 208.4L358.6 208.3L359.4 208.3L360.2 208.3L360.9 208.3L361.7 208.4L362.5 208.6L363.3 208.8L364.1 209.0L364.9 209.3L365.7 209.6L366.5 209.9L367.3 210.2L368.1 210.6L368.9 210.9L369.7 211.2L370.5 211.5L371.3 211.9L372.0 212.2L372.8 212.5L373.6 212.8L374.4 213.1L375.2 213.4L376.0 213.8L376.8 214.1L377.6 214.5L378.4 214.9L379.2 215.4L380.0 215.9L380.8 216.5L381.6 217.2L382.4 218.0L383.1 218.9L383.9 219.9L384.7 221.0L385.5 222.2L386.3 223.3L387.1 224.5L387.9 225.6L388.7 226.7L389.5 227.8L390.3 228.9L391.1 229.9L391.9 231.0L392.7 232.0L393.5 232.9L394.2 233.8L395.0 234.7L395.8 235.5L396.6 236.3L397.4 237.1L398.2 237.8L399.0 238.5L399.8 239.1L400.6 239.7L401.4 240.1L402.2 240.5L403.0 240.9L403.8 241.2L404.6 241.5L405.3 241.8L406.1 242.0L406.9 242.3L407.7 242.5L408.5 242.7L409.3 242.8L410.1 242.9L410.9 243.0L411.7 243.1L412.5 243.2L413.3 243.2L414.1 243.3L414.9 243.3L415.7 243.3L416.4 243.3L417.2 243.3L418.0 243.4L418.8 243.4L419.6 243.4L420.4 243.4L421.2 243.4L422.0 243.4L422.8 243.4L423.6 243.4L424.4 243.4L425.2 243.4L426.0 243.4L426.8 243.4L427.6 243.4L428.3 243.4L429.1 243.4L429.9 243.4L430.7 243.4L431.5 243.4L432.3 243.4L433.1 243.4L433.9 243.4L434.7 243.4L435.5 243.4L436.3 243.4L437.1 243.4L437.9 243.4L438.7 243.4L439.4 243.4L440.2 243.4L441.0 243.4L441.8 243.4L442.6 243.4L443.4 243.4L444.2 243.4L445.0 243.4L445.8 243.4L446.6 243.4L446.6 243.4Z" fill="#55A868" fill-opacity="0.40" stroke="none"/>
<path d="M241.2 243.4L242.0 243.4L242.8 243.4L243.6 243.4L244.4 243.4L245.2 243.4L246.0 243.4L246.8 243.4L247.6 243.4L248.4 243.4L249.1 243.4L249.9 243.4L250.7 243.4L251.5 243.4L252.3 243.4L253.1 243.4L253.9 243.4L254.7 243.3L255.5 243.2L256.3 243.0L257.1 242.8L257.9 242.4L258.7 242.0L259.5 241.4L260.2 240.7L261.0 239.8L261.8 238.9L262.6 238.0L263.4 237.1L264.2 236.1L265.0 235.3L265.8 234.6L266.6 233.9L267.4 233.4L268.2 232.9L269.0 232.5L269.8 232.1L270.6 231.7L271.3 231.4L272.1 231.1L272.9 230.8L273.7 230.5L274.5 230.2L275.3 229.9L276.1 229.6L276.9 229.3L277.7 229.0L278.5 228.7L279.3 228.4L280.1 228.1L280.9 227.8L281.7 227.5L282.4 227.2L283.2 226.9L284.0 226.5L284.8 226.2L285.6 225.9L286.4 225.6L287.2 225.3L288.0 224.9L288.8 224.6L289.6 224.2L290.4 223.9L291.2 223.5L292.0 223.1L292.8 222.8L293.5 222.5L294.3 222.1L295.1 221.8L295.9 221.5L296.7 221.3L297.5 221.0L298.3 220.8L299.1 220.6L299.9 220.4L300.7 220.2L301.5 220.1L302.3 219.9L303.1 219.7L303.9 219.6L304.6 219.4L305.4 219.2L306.2 219.1L307.0 218.9L307.8 218.8L308.6 218.6L309.4 218.5L310.2 218.3L311.0 218.1L311.8 217.9L312.6 217.8L313.4 217.6L314.2 217.4L315.0 217.2L315.8 217.0L316.5 216.8L317.3 216.6L318.1 216.4L318.9 216.2L319.7 216.0L320.5 215.8L321.3 215.5L322.1 215.3L322.9 215.1L323.7 214.9L324.5 214.7L325.3 214.6L326.1 214.4L326.9 214.2L327.6 214.0L328.4 213.8L329.2 213.7L330.0 213.5L330.8 213.4L331.6 213.2L332.4 213.1L333.2 212.9L334.0 212.8L334.8 212.7L335.6 212.5L336.4 212.4L337.2 212.3L338.0 212.1L338.7 212.0L339.5 211.9L340.3 211.8L341.1 211.6L341.9 211.5L342.7 211.4L343.5 211.3L344.3 211.2L345.1 211.1L345.9 211.0L346.7 210.9L347.5 210.7L348.3 210.6L349.1 210.5L349.8 210.3L350.6 210.2L351.4 210.0L352.2 209.8L353.0 209.6L353.8 209.4L354.6 209.1L355.4 208.9L356.2 208.7L357.0 208.5L357.8 208.4L358.6 208.3L359.4 208.3L360.2 208.3L360.9 208.3L361.7 208.4L362.5 208.6L363.3 208.8L364.1 209.0L364.9 209.3L365.7 209.6L366.5 209.9L367.3 210.2L368.1 210.6L368.9 210.9L369.7 211.2L370.5 211.5L371.3 211.9L372.0 212.2L372.8 212.5L373.6 212.8L374.4 213.1L375.2 213.4L376.0 213.8L376.8 214.1L377.6 214.5L378.4 214.9L379.2 215.4L380.0 215.9L380.8 216.5L381.6 217.2L382.4 218.0L383.1 218.9L383.9 219.9L384.7 221.0L385.5 222.2L386.3 223.3L387.1 224.5L387.9 225.6L388.7 226.7L389.5 227.8L390.3 228.9L391.1 229.9L391.9 231.0L392.7 232.0L393.5 232.9L394.2 233.8L395.0 234.7L395.8 235.5L396.6 236.3L397.4 237.1L398.2 237.8L399.0 238.5L399.8 239.1L400.6 239.7L401.4 240.1L402.2 240.5L403.0 240.9L403.8 241.2L404.6 241.5L405.3 241.8L406.1 242.0L406.9 242.3L407.7 242.5L408.5 242.7L409.3 242.8L410.1 242.9L410.9 243.0L411.7 243.1L412.5 243.2L413.3 243.2L414.1 243.3L414.9 243.3L415.7 243.3L416.4 243.3L417.2 243.3L418.0 243.4L418.8 243.4L419.6 243.4L420.4 243.4L421.2 243.4L422.0 243.4L422.8 243.4L423.6 243.4L424.4 243.4L425.2 243.4L426.0 243.4L426.8 243.4L427.6 243.4L428.3 243.4L429.1 243.4L429.9 243.4L430.7 243.4L431.5 243.4L432.3 243.4L433.1 243.4L433.9 243.4L434.7 243.4L435.5 243.4L436.3 243.4L437.1 243.4L437.9 243.4L438.7 243.4L439.4 243.4L440.2 243.4L441.0 243.4L441.8 243.4L442.6 243.4L443.4 243.4L444.2 243.4L445.0 243.4L445.8 243.4L446.6 243.4" fill="none" stroke="#55A868" stroke-width="0.5" stroke-opacity="0.85" stroke-linejoin="round"/>
<path d="M241.2 243.4L241.2 243.4L242.0 243.4L242.8 243.4L243.6 243.4L244.4 243.4L245.2 243.4L246.0 243.4L246.8 243.4L247.6 243.4L248.4 243.4L249.1 243.4L249.9 243.3L250.7 243.2L251.5 242.9L252.3 242.5L253.1 241.8L253.9 240.7L254.7 239.3L255.5 237.4L256.3 235.2L257.1 232.4L257.9 229.1L258.7 225.1L259.5 220.2L260.2 214.2L261.0 207.1L261.8 198.9L262.6 190.0L263.4 181.0L264.2 172.6L265.0 164.9L265.8 158.2L266.6 152.5L267.4 147.9L268.2 144.6L269.0 142.9L269.8 142.7L270.6 143.9L271.3 146.2L272.1 149.2L272.9 152.6L273.7 156.0L274.5 159.2L275.3 162.3L276.1 165.3L276.9 168.2L277.7 171.1L278.5 174.0L279.3 177.1L280.1 180.3L280.9 183.5L281.7 186.7L282.4 189.9L283.2 193.0L284.0 196.0L284.8 198.8L285.6 201.4L286.4 203.8L287.2 206.0L288.0 208.0L288.8 209.9L289.6 211.6L290.4 213.2L291.2 214.7L292.0 216.2L292.8 217.5L293.5 218.8L294.3 220.0L295.1 221.1L295.9 222.1L296.7 223.0L297.5 223.8L298.3 224.5L299.1 225.1L299.9 225.7L300.7 226.3L301.5 226.8L302.3 227.3L303.1 227.7L303.9 228.1L304.6 228.5L305.4 228.9L306.2 229.2L307.0 229.6L307.8 229.9L308.6 230.2L309.4 230.6L310.2 230.9L311.0 231.2L311.8 231.4L312.6 231.7L313.4 232.0L314.2 232.2L315.0 232.4L315.8 232.5L316.5 232.6L317.3 232.7L318.1 232.8L318.9 232.8L319.7 232.8L320.5 232.8L321.3 232.8L322.1 232.8L322.9 232.8L323.7 232.8L324.5 232.7L325.3 232.7L326.1 232.7L326.9 232.7L327.6 232.6L328.4 232.6L329.2 232.6L330.0 232.5L330.8 232.5L331.6 232.5L332.4 232.4L333.2 232.4L334.0 232.4L334.8 232.4L335.6 232.3L336.4 232.3L337.2 232.3L338.0 232.3L338.7 232.2L339.5 232.2L340.3 232.2L341.1 232.2L341.9 232.1L342.7 232.1L343.5 232.1L344.3 232.1L345.1 232.0L345.9 232.0L346.7 232.0L347.5 231.9L348.3 231.9L349.1 231.8L349.8 231.8L350.6 231.7L351.4 231.6L352.2 231.6L353.0 231.5L353.8 231.4L354.6 231.3L355.4 231.2L356.2 231.1L357.0 231.0L357.8 231.0L358.6 231.0L359.4 231.0L360.2 231.0L360.9 231.0L361.7 231.1L362.5 231.1L363.3 231.2L364.1 231.3L364.9 231.4L365.7 231.5L366.5 231.6L367.3 231.8L368.1 231.9L368.9 232.0L369.7 232.2L370.5 232.4L371.3 232.6L372.0 232.8L372.8 233.1L373.6 233.5L374.4 233.9L375.2 234.3L376.0 234.8L376.8 235.3L377.6 235.7L378.4 236.2L379.2 236.7L380.0 237.2L380.8 237.7L381.6 238.1L382.4 238.5L383.1 239.0L383.9 239.4L384.7 239.8L385.5 240.2L386.3 240.6L387.1 240.9L387.9 241.3L388.7 241.5L389.5 241.8L390.3 242.0L391.1 242.2L391.9 242.4L392.7 242.6L393.5 242.7L394.2 242.9L395.0 243.0L395.8 243.1L396.6 243.2L397.4 243.2L398.2 243.3L399.0 243.3L399.8 243.3L400.6 243.3L401.4 243.4L402.2 243.4L403.0 243.4L403.8 243.4L404.6 243.4L405.3 243.4L406.1 243.4L406.9 243.4L407.7 243.4L408.5 243.4L409.3 243.4L410.1 243.4L410.9 243.4L411.7 243.4L412.5 243.4L413.3 243.4L414.1 243.4L414.9 243.4L415.7 243.4L416.4 243.4L417.2 243.4L418.0 243.4L418.8 243.4L419.6 243.4L420.4 243.4L421.2 243.4L422.0 243.4L422.8 243.4L423.6 243.4L424.4 243.4L425.2 243.4L426.0 243.4L426.8 243.4L427.6 243.4L428.3 243.4L429.1 243.4L429.9 243.4L430.7 243.4L431.5 243.4L432.3 243.4L433.1 243.4L433.9 243.4L434.7 243.4L435.5 243.4L436.3 243.4L437.1 243.4L437.9 243.4L438.7 243.4L439.4 243.4L440.2 243.4L441.0 243.4L441.8 243.4L442.6 243.4L443.4 243.4L444.2 243.4L445.0 243.4L445.8 243.4L446.6 243.4L446.6 243.4Z" fill="#C44E52" fill-opacity="0.40" stroke="none"/>
<path d="M241.2 243.4L242.0 243.4L242.8 243.4L243.6 243.4L244.4 243.4L245.2 243.4L246.0 243.4L246.8 243.4L247.6 243.4L248.4 243.4L249.1 243.4L249.9 243.3L250.7 243.2L251.5 242.9L252.3 242.5L253.1 241.8L253.9 240.7L254.7 239.3L255.5 237.4L256.3 235.2L257.1 232.4L257.9 229.1L258.7 225.1L259.5 220.2L260.2 214.2L261.0 207.1L261.8 198.9L262.6 190.0L263.4 181.0L264.2 172.6L265.0 164.9L265.8 158.2L266.6 152.5L267.4 147.9L268.2 144.6L269.0 142.9L269.8 142.7L270.6 143.9L271.3 146.2L272.1 149.2L272.9 152.6L273.7 156.0L274.5 159.2L275.3 162.3L276.1 165.3L276.9 168.2L277.7 171.1L278.5 174.0L279.3 177.1L280.1 180.3L280.9 183.5L281.7 186.7L282.4 189.9L283.2 193.0L284.0 196.0L284.8 198.8L285.6 201.4L286.4 203.8L287.2 206.0L288.0 208.0L288.8 209.9L289.6 211.6L290.4 213.2L291.2 214.7L292.0 216.2L292.8 217.5L293.5 218.8L294.3 220.0L295.1 221.1L295.9 222.1L296.7 223.0L297.5 223.8L298.3 224.5L299.1 225.1L299.9 225.7L300.7 226.3L301.5 226.8L302.3 227.3L303.1 227.7L303.9 228.1L304.6 228.5L305.4 228.9L306.2 229.2L307.0 229.6L307.8 229.9L308.6 230.2L309.4 230.6L310.2 230.9L311.0 231.2L311.8 231.4L312.6 231.7L313.4 232.0L314.2 232.2L315.0 232.4L315.8 232.5L316.5 232.6L317.3 232.7L318.1 232.8L318.9 232.8L319.7 232.8L320.5 232.8L321.3 232.8L322.1 232.8L322.9 232.8L323.7 232.8L324.5 232.7L325.3 232.7L326.1 232.7L326.9 232.7L327.6 232.6L328.4 232.6L329.2 232.6L330.0 232.5L330.8 232.5L331.6 232.5L332.4 232.4L333.2 232.4L334.0 232.4L334.8 232.4L335.6 232.3L336.4 232.3L337.2 232.3L338.0 232.3L338.7 232.2L339.5 232.2L340.3 232.2L341.1 232.2L341.9 232.1L342.7 232.1L343.5 232.1L344.3 232.1L345.1 232.0L345.9 232.0L346.7 232.0L347.5 231.9L348.3 231.9L349.1 231.8L349.8 231.8L350.6 231.7L351.4 231.6L352.2 231.6L353.0 231.5L353.8 231.4L354.6 231.3L355.4 231.2L356.2 231.1L357.0 231.0L357.8 231.0L358.6 231.0L359.4 231.0L360.2 231.0L360.9 231.0L361.7 231.1L362.5 231.1L363.3 231.2L364.1 231.3L364.9 231.4L365.7 231.5L366.5 231.6L367.3 231.8L368.1 231.9L368.9 232.0L369.7 232.2L370.5 232.4L371.3 232.6L372.0 232.8L372.8 233.1L373.6 233.5L374.4 233.9L375.2 234.3L376.0 234.8L376.8 235.3L377.6 235.7L378.4 236.2L379.2 236.7L380.0 237.2L380.8 237.7L381.6 238.1L382.4 238.5L383.1 239.0L383.9 239.4L384.7 239.8L385.5 240.2L386.3 240.6L387.1 240.9L387.9 241.3L388.7 241.5L389.5 241.8L390.3 242.0L391.1 242.2L391.9 242.4L392.7 242.6L393.5 242.7L394.2 242.9L395.0 243.0L395.8 243.1L396.6 243.2L397.4 243.2L398.2 243.3L399.0 243.3L399.8 243.3L400.6 243.3L401.4 243.4L402.2 243.4L403.0 243.4L403.8 243.4L404.6 243.4L405.3 243.4L406.1 243.4L406.9 243.4L407.7 243.4L408.5 243.4L409.3 243.4L410.1 243.4L410.9 243.4L411.7 243.4L412.5 243.4L413.3 243.4L414.1 243.4L414.9 243.4L415.7 243.4L416.4 243.4L417.2 243.4L418.0 243.4L418.8 243.4L419.6 243.4L420.4 243.4L421.2 243.4L422.0 243.4L422.8 243.4L423.6 243.4L424.4 243.4L425.2 243.4L426.0 243.4L426.8 243.4L427.6 243.4L428.3 243.4L429.1 243.4L429.9 243.4L430.7 243.4L431.5 243.4L432.3 243.4L433.1 243.4L433.9 243.4L434.7 243.4L435.5 243.4L436.3 243.4L437.1 243.4L437.9 243.4L438.7 243.4L439.4 243.4L440.2 243.4L441.0 243.4L441.8 243.4L442.6 243.4L443.4 243.4L444.2 243.4L445.0 243.4L445.8 243.4L446.6 243.4" fill="none" stroke="#C44E52" stroke-width="0.5" stroke-opacity="0.85" stroke-linejoin="round"/>
</g>
<path d="M242.10 137.40V243.40H446.60V137.40" fill="none" stroke="#e2e2e2" stroke-width="1.1"/>
<path d="M242.10 137.40H446.60" fill="none" stroke="#ececec" stroke-width="1.1"/>
<text transform="translate(266.20 251.40) scale(0.900 1.070)" text-anchor="middle" class="tk">0.0</text>
<text transform="translate(296.18 251.40) scale(0.900 1.070)" text-anchor="middle" class="tk">0.2</text>
<text transform="translate(326.16 251.40) scale(0.900 1.070)" text-anchor="middle" class="tk">0.4</text>
<text transform="translate(356.14 251.40) scale(0.900 1.070)" text-anchor="middle" class="tk">0.6</text>
<text transform="translate(386.12 251.40) scale(0.900 1.070)" text-anchor="middle" class="tk">0.8</text>
<text transform="translate(416.10 251.40) scale(0.900 1.070)" text-anchor="middle" class="tk">1.0</text>
<text transform="translate(446.08 251.40) scale(0.900 1.070)" text-anchor="middle" class="tk">1.2</text>
<text transform="translate(238.40 245.75) scale(0.900 1.070)" text-anchor="end" class="tk">0</text>
<text transform="translate(238.40 224.25) scale(0.900 1.070)" text-anchor="end" class="tk">1</text>
<text transform="translate(238.40 202.75) scale(0.900 1.070)" text-anchor="end" class="tk">2</text>
<text transform="translate(238.40 181.25) scale(0.900 1.070)" text-anchor="end" class="tk">3</text>
<text transform="translate(238.40 159.75) scale(0.900 1.070)" text-anchor="end" class="tk">4</text>
<text transform="translate(344.05 263.25) scale(1.020 1.190)" text-anchor="middle" class="lb">Circularity</text>
<text transform="translate(233.00 191.50) rotate(-90) scale(1.120 1.000)" text-anchor="middle" class="yl">Density</text>
<text transform="translate(231.80 138.10) scale(0.970 1.120)" class="pl">e</text>
<rect x="406.60" y="141.30" width="37.00" height="46.90" rx="1.3" fill="#fff" fill-opacity="0.8" stroke="#d4d4d4" stroke-width="0.6"/>
<rect x="409.70" y="145.00" width="15.6" height="5.1" fill="#4C72B0" fill-opacity="0.40" stroke="#4C72B0" stroke-width="0.5" stroke-opacity="0.8"/>
<text transform="translate(431.40 150.45) scale(0.895 1.110)" class="lg">#1</text>
<rect x="409.70" y="156.15" width="15.6" height="5.1" fill="#DD8452" fill-opacity="0.40" stroke="#DD8452" stroke-width="0.5" stroke-opacity="0.8"/>
<text transform="translate(431.40 161.60) scale(0.895 1.110)" class="lg">#2</text>
<rect x="409.70" y="167.30" width="15.6" height="5.1" fill="#55A868" fill-opacity="0.40" stroke="#55A868" stroke-width="0.5" stroke-opacity="0.8"/>
<text transform="translate(431.40 172.75) scale(0.895 1.110)" class="lg">#3</text>
<rect x="409.70" y="178.45" width="15.6" height="5.1" fill="#C44E52" fill-opacity="0.40" stroke="#C44E52" stroke-width="0.5" stroke-opacity="0.8"/>
<text transform="translate(431.40 183.90) scale(0.895 1.110)" class="lg">#4</text>
<clipPath id="c5"><rect x="477.40" y="137.40" width="204.20" height="106.20"/></clipPath>
<path d="M494.70 137.40V243.60M528.50 137.40V243.60M562.30 137.40V243.60M596.10 137.40V243.60M629.90 137.40V243.60M663.70 137.40V243.60M477.40 221.32H681.60M477.40 199.04H681.60M477.40 176.76H681.60M477.40 154.48H681.60" stroke="#dfdfdf" stroke-width="0.7" fill="none"/>
<g clip-path="url(#c5)">
<path d="M476.1 243.6L476.1 243.6L476.6 243.6L477.1 243.6L477.6 243.6L478.1 243.6L478.6 243.6L479.1 243.6L479.6 243.6L480.0 243.6L480.5 243.6L481.0 243.6L481.5 243.6L482.0 243.6L482.5 243.6L483.0 243.6L483.5 243.6L484.0 243.6L484.5 243.6L485.0 243.6L485.5 243.6L486.0 243.6L486.4 243.6L486.9 243.6L487.4 243.6L487.9 243.6L488.4 243.6L488.9 243.6L489.4 243.6L489.9 243.5L490.4 243.4L490.9 243.2L491.4 243.0L491.9 242.6L492.3 242.0L492.8 241.3L493.3 240.4L493.8 239.3L494.3 237.8L494.8 235.8L495.3 232.9L495.8 229.4L496.3 225.3L496.8 220.8L497.3 215.7L497.8 210.1L498.3 204.3L498.7 198.4L499.2 192.3L499.7 186.0L500.2 179.5L500.7 172.8L501.2 166.4L501.7 160.9L502.2 156.5L502.7 152.9L503.2 150.1L503.7 148.1L504.2 146.6L504.7 145.7L505.1 145.6L505.6 146.3L506.1 147.6L506.6 149.4L507.1 151.7L507.6 154.3L508.1 157.3L508.6 160.4L509.1 163.5L509.6 166.8L510.1 170.2L510.6 173.7L511.0 177.2L511.5 180.6L512.0 183.8L512.5 186.7L513.0 189.1L513.5 191.3L514.0 193.2L514.5 194.9L515.0 196.5L515.5 198.0L516.0 199.5L516.5 200.9L517.0 202.3L517.4 203.6L517.9 204.9L518.4 206.2L518.9 207.4L519.4 208.6L519.9 209.7L520.4 210.7L520.9 211.7L521.4 212.7L521.9 213.6L522.4 214.4L522.9 215.3L523.3 216.1L523.8 216.8L524.3 217.6L524.8 218.3L525.3 219.0L525.8 219.7L526.3 220.4L526.8 221.0L527.3 221.7L527.8 222.4L528.3 223.0L528.8 223.7L529.3 224.3L529.7 225.0L530.2 225.7L530.7 226.3L531.2 227.0L531.7 227.6L532.2 228.2L532.7 228.8L533.2 229.3L533.7 229.8L534.2 230.3L534.7 230.7L535.2 231.1L535.7 231.5L536.1 231.9L536.6 232.3L537.1 232.7L537.6 233.0L538.1 233.3L538.6 233.6L539.1 233.9L539.6 234.2L540.1 234.4L540.6 234.6L541.1 234.7L541.6 234.9L542.0 235.0L542.5 235.1L543.0 235.2L543.5 235.3L544.0 235.4L544.5 235.5L545.0 235.7L545.5 235.9L546.0 236.1L546.5 236.4L547.0 236.8L547.5 237.1L548.0 237.5L548.4 237.9L548.9 238.2L549.4 238.6L549.9 238.9L550.4 239.2L550.9 239.5L551.4 239.7L551.9 239.9L552.4 240.1L552.9 240.2L553.4 240.4L553.9 240.6L554.4 240.7L554.8 240.9L555.3 241.0L555.8 241.1L556.3 241.2L556.8 241.2L557.3 241.2L557.8 241.2L558.3 241.1L558.8 241.0L559.3 240.8L559.8 240.5L560.3 240.3L560.7 240.1L561.2 239.9L561.7 239.8L562.2 239.7L562.7 239.6L563.2 239.7L563.7 240.0L564.2 240.3L564.7 240.6L565.2 241.0L565.7 241.4L566.2 241.8L566.7 242.1L567.1 242.4L567.6 242.5L568.1 242.6L568.6 242.7L569.1 242.8L569.6 242.8L570.1 242.9L570.6 242.9L571.1 242.9L571.6 243.0L572.1 243.0L572.6 243.0L573.0 243.0L573.5 243.0L574.0 243.0L574.5 243.0L575.0 243.0L575.5 243.0L576.0 243.0L576.5 242.9L577.0 242.9L577.5 242.9L578.0 242.9L578.5 242.8L579.0 242.8L579.4 242.8L579.9 242.8L580.4 242.9L580.9 242.9L581.4 242.9L581.9 243.0L582.4 243.0L582.9 243.1L583.4 243.1L583.9 243.2L584.4 243.2L584.9 243.3L585.4 243.3L585.8 243.3L586.3 243.3L586.8 243.3L587.3 243.3L587.8 243.3L588.3 243.3L588.8 243.4L589.3 243.4L589.8 243.4L590.3 243.4L590.8 243.4L591.3 243.4L591.7 243.4L592.2 243.3L592.7 243.3L593.2 243.3L593.7 243.3L594.2 243.2L594.7 243.2L595.2 243.2L595.7 243.2L596.2 243.2L596.7 243.2L597.2 243.2L597.7 243.2L598.1 243.2L598.6 243.3L599.1 243.3L599.6 243.3L600.1 243.4L600.6 243.4L601.1 243.4L601.6 243.5L602.1 243.5L602.6 243.5L603.1 243.5L603.6 243.5L604.0 243.5L604.5 243.5L605.0 243.5L605.5 243.5L606.0 243.5L606.5 243.5L607.0 243.5L607.5 243.5L608.0 243.5L608.5 243.5L609.0 243.5L609.5 243.5L610.0 243.5L610.4 243.5L610.9 243.5L611.4 243.5L611.9 243.5L612.4 243.5L612.9 243.5L613.4 243.5L613.9 243.5L614.4 243.5L614.9 243.5L615.4 243.5L615.9 243.5L616.4 243.5L616.8 243.5L617.3 243.5L617.8 243.6L618.3 243.6L618.8 243.6L619.3 243.6L619.8 243.6L620.3 243.6L620.8 243.6L621.3 243.6L621.8 243.6L622.3 243.6L622.7 243.6L623.2 243.6L623.7 243.6L624.2 243.6L624.7 243.6L625.2 243.6L625.7 243.6L626.2 243.6L626.7 243.6L627.2 243.6L627.7 243.6L628.2 243.6L628.7 243.6L629.1 243.6L629.6 243.6L630.1 243.6L630.6 243.6L631.1 243.6L631.6 243.6L632.1 243.6L632.6 243.6L633.1 243.6L633.6 243.6L634.1 243.6L634.6 243.6L635.1 243.6L635.5 243.6L636.0 243.6L636.5 243.6L637.0 243.6L637.5 243.6L638.0 243.6L638.5 243.6L639.0 243.6L639.5 243.6L640.0 243.6L640.5 243.6L641.0 243.6L641.4 243.6L641.9 243.6L642.4 243.6L642.9 243.6L643.4 243.6L643.9 243.6L644.4 243.6L644.9 243.6L645.4 243.6L645.9 243.6L646.4 243.6L646.9 243.6L647.4 243.6L647.8 243.6L648.3 243.6L648.8 243.6L649.3 243.6L649.8 243.6L650.3 243.6L650.8 243.6L651.3 243.6L651.8 243.6L652.3 243.6L652.8 243.6L653.3 243.6L653.7 243.6L654.2 243.6L654.7 243.6L655.2 243.6L655.7 243.6L656.2 243.6L656.7 243.6L657.2 243.6L657.7 243.6L658.2 243.6L658.7 243.6L659.2 243.6L659.7 243.6L660.1 243.6L660.6 243.6L661.1 243.6L661.6 243.6L662.1 243.6L662.6 243.6L663.1 243.6L663.6 243.6L664.1 243.6L664.6 243.6L665.1 243.6L665.6 243.6L666.1 243.6L666.5 243.6L667.0 243.6L667.5 243.6L668.0 243.6L668.5 243.6L669.0 243.6L669.5 243.6L670.0 243.6L670.5 243.6L671.0 243.6L671.5 243.6L672.0 243.6L672.4 243.6L672.9 243.6L673.4 243.6L673.9 243.6L674.4 243.6L674.9 243.6L675.4 243.6L675.9 243.6L676.4 243.6L676.9 243.6L677.4 243.6L677.9 243.6L678.4 243.6L678.8 243.6L679.3 243.6L679.8 243.6L680.3 243.6L680.8 243.6L681.3 243.6L681.8 243.6L682.3 243.6L682.3 243.6Z" fill="#4C72B0" fill-opacity="0.40" stroke="none"/>
<path d="M476.1 243.6L476.6 243.6L477.1 243.6L477.6 243.6L478.1 243.6L478.6 243.6L479.1 243.6L479.6 243.6L480.0 243.6L480.5 243.6L481.0 243.6L481.5 243.6L482.0 243.6L482.5 243.6L483.0 243.6L483.5 243.6L484.0 243.6L484.5 243.6L485.0 243.6L485.5 243.6L486.0 243.6L486.4 243.6L486.9 243.6L487.4 243.6L487.9 243.6L488.4 243.6L488.9 243.6L489.4 243.6L489.9 243.5L490.4 243.4L490.9 243.2L491.4 243.0L491.9 242.6L492.3 242.0L492.8 241.3L493.3 240.4L493.8 239.3L494.3 237.8L494.8 235.8L495.3 232.9L495.8 229.4L496.3 225.3L496.8 220.8L497.3 215.7L497.8 210.1L498.3 204.3L498.7 198.4L499.2 192.3L499.7 186.0L500.2 179.5L500.7 172.8L501.2 166.4L501.7 160.9L502.2 156.5L502.7 152.9L503.2 150.1L503.7 148.1L504.2 146.6L504.7 145.7L505.1 145.6L505.6 146.3L506.1 147.6L506.6 149.4L507.1 151.7L507.6 154.3L508.1 157.3L508.6 160.4L509.1 163.5L509.6 166.8L510.1 170.2L510.6 173.7L511.0 177.2L511.5 180.6L512.0 183.8L512.5 186.7L513.0 189.1L513.5 191.3L514.0 193.2L514.5 194.9L515.0 196.5L515.5 198.0L516.0 199.5L516.5 200.9L517.0 202.3L517.4 203.6L517.9 204.9L518.4 206.2L518.9 207.4L519.4 208.6L519.9 209.7L520.4 210.7L520.9 211.7L521.4 212.7L521.9 213.6L522.4 214.4L522.9 215.3L523.3 216.1L523.8 216.8L524.3 217.6L524.8 218.3L525.3 219.0L525.8 219.7L526.3 220.4L526.8 221.0L527.3 221.7L527.8 222.4L528.3 223.0L528.8 223.7L529.3 224.3L529.7 225.0L530.2 225.7L530.7 226.3L531.2 227.0L531.7 227.6L532.2 228.2L532.7 228.8L533.2 229.3L533.7 229.8L534.2 230.3L534.7 230.7L535.2 231.1L535.7 231.5L536.1 231.9L536.6 232.3L537.1 232.7L537.6 233.0L538.1 233.3L538.6 233.6L539.1 233.9L539.6 234.2L540.1 234.4L540.6 234.6L541.1 234.7L541.6 234.9L542.0 235.0L542.5 235.1L543.0 235.2L543.5 235.3L544.0 235.4L544.5 235.5L545.0 235.7L545.5 235.9L546.0 236.1L546.5 236.4L547.0 236.8L547.5 237.1L548.0 237.5L548.4 237.9L548.9 238.2L549.4 238.6L549.9 238.9L550.4 239.2L550.9 239.5L551.4 239.7L551.9 239.9L552.4 240.1L552.9 240.2L553.4 240.4L553.9 240.6L554.4 240.7L554.8 240.9L555.3 241.0L555.8 241.1L556.3 241.2L556.8 241.2L557.3 241.2L557.8 241.2L558.3 241.1L558.8 241.0L559.3 240.8L559.8 240.5L560.3 240.3L560.7 240.1L561.2 239.9L561.7 239.8L562.2 239.7L562.7 239.6L563.2 239.7L563.7 240.0L564.2 240.3L564.7 240.6L565.2 241.0L565.7 241.4L566.2 241.8L566.7 242.1L567.1 242.4L567.6 242.5L568.1 242.6L568.6 242.7L569.1 242.8L569.6 242.8L570.1 242.9L570.6 242.9L571.1 242.9L571.6 243.0L572.1 243.0L572.6 243.0L573.0 243.0L573.5 243.0L574.0 243.0L574.5 243.0L575.0 243.0L575.5 243.0L576.0 243.0L576.5 242.9L577.0 242.9L577.5 242.9L578.0 242.9L578.5 242.8L579.0 242.8L579.4 242.8L579.9 242.8L580.4 242.9L580.9 242.9L581.4 242.9L581.9 243.0L582.4 243.0L582.9 243.1L583.4 243.1L583.9 243.2L584.4 243.2L584.9 243.3L585.4 243.3L585.8 243.3L586.3 243.3L586.8 243.3L587.3 243.3L587.8 243.3L588.3 243.3L588.8 243.4L589.3 243.4L589.8 243.4L590.3 243.4L590.8 243.4L591.3 243.4L591.7 243.4L592.2 243.3L592.7 243.3L593.2 243.3L593.7 243.3L594.2 243.2L594.7 243.2L595.2 243.2L595.7 243.2L596.2 243.2L596.7 243.2L597.2 243.2L597.7 243.2L598.1 243.2L598.6 243.3L599.1 243.3L599.6 243.3L600.1 243.4L600.6 243.4L601.1 243.4L601.6 243.5L602.1 243.5L602.6 243.5L603.1 243.5L603.6 243.5L604.0 243.5L604.5 243.5L605.0 243.5L605.5 243.5L606.0 243.5L606.5 243.5L607.0 243.5L607.5 243.5L608.0 243.5L608.5 243.5L609.0 243.5L609.5 243.5L610.0 243.5L610.4 243.5L610.9 243.5L611.4 243.5L611.9 243.5L612.4 243.5L612.9 243.5L613.4 243.5L613.9 243.5L614.4 243.5L614.9 243.5L615.4 243.5L615.9 243.5L616.4 243.5L616.8 243.5L617.3 243.5L617.8 243.6L618.3 243.6L618.8 243.6L619.3 243.6L619.8 243.6L620.3 243.6L620.8 243.6L621.3 243.6L621.8 243.6L622.3 243.6L622.7 243.6L623.2 243.6L623.7 243.6L624.2 243.6L624.7 243.6L625.2 243.6L625.7 243.6L626.2 243.6L626.7 243.6L627.2 243.6L627.7 243.6L628.2 243.6L628.7 243.6L629.1 243.6L629.6 243.6L630.1 243.6L630.6 243.6L631.1 243.6L631.6 243.6L632.1 243.6L632.6 243.6L633.1 243.6L633.6 243.6L634.1 243.6L634.6 243.6L635.1 243.6L635.5 243.6L636.0 243.6L636.5 243.6L637.0 243.6L637.5 243.6L638.0 243.6L638.5 243.6L639.0 243.6L639.5 243.6L640.0 243.6L640.5 243.6L641.0 243.6L641.4 243.6L641.9 243.6L642.4 243.6L642.9 243.6L643.4 243.6L643.9 243.6L644.4 243.6L644.9 243.6L645.4 243.6L645.9 243.6L646.4 243.6L646.9 243.6L647.4 243.6L647.8 243.6L648.3 243.6L648.8 243.6L649.3 243.6L649.8 243.6L650.3 243.6L650.8 243.6L651.3 243.6L651.8 243.6L652.3 243.6L652.8 243.6L653.3 243.6L653.7 243.6L654.2 243.6L654.7 243.6L655.2 243.6L655.7 243.6L656.2 243.6L656.7 243.6L657.2 243.6L657.7 243.6L658.2 243.6L658.7 243.6L659.2 243.6L659.7 243.6L660.1 243.6L660.6 243.6L661.1 243.6L661.6 243.6L662.1 243.6L662.6 243.6L663.1 243.6L663.6 243.6L664.1 243.6L664.6 243.6L665.1 243.6L665.6 243.6L666.1 243.6L666.5 243.6L667.0 243.6L667.5 243.6L668.0 243.6L668.5 243.6L669.0 243.6L669.5 243.6L670.0 243.6L670.5 243.6L671.0 243.6L671.5 243.6L672.0 243.6L672.4 243.6L672.9 243.6L673.4 243.6L673.9 243.6L674.4 243.6L674.9 243.6L675.4 243.6L675.9 243.6L676.4 243.6L676.9 243.6L677.4 243.6L677.9 243.6L678.4 243.6L678.8 243.6L679.3 243.6L679.8 243.6L680.3 243.6L680.8 243.6L681.3 243.6L681.8 243.6L682.3 243.6" fill="none" stroke="#4C72B0" stroke-width="0.5" stroke-opacity="0.85" stroke-linejoin="round"/>
<path d="M476.1 243.6L476.1 243.6L476.6 243.6L477.1 243.6L477.6 243.6L478.1 243.6L478.6 243.6L479.1 243.6L479.6 243.6L480.0 243.6L480.5 243.6L481.0 243.6L481.5 243.6L482.0 243.6L482.5 243.6L483.0 243.6L483.5 243.6L484.0 243.6L484.5 243.6L485.0 243.6L485.5 243.6L486.0 243.6L486.4 243.6L486.9 243.6L487.4 243.6L487.9 243.6L488.4 243.6L488.9 243.6L489.4 243.6L489.9 243.5L490.4 243.4L490.9 243.2L491.4 242.9L491.9 242.5L492.3 241.9L492.8 241.1L493.3 240.1L493.8 238.9L494.3 237.3L494.8 235.1L495.3 232.1L495.8 228.4L496.3 224.3L496.8 219.8L497.3 214.8L497.8 209.6L498.3 204.2L498.7 198.9L499.2 193.6L499.7 188.3L500.2 182.9L500.7 177.5L501.2 172.4L501.7 168.1L502.2 164.5L502.7 161.7L503.2 159.6L503.7 158.1L504.2 157.1L504.7 156.7L505.1 156.8L505.6 157.3L506.1 158.2L506.6 159.4L507.1 160.9L507.6 162.9L508.1 165.2L508.6 167.7L509.1 170.2L509.6 172.7L510.1 175.3L510.6 178.0L511.0 180.7L511.5 183.4L512.0 185.9L512.5 188.2L513.0 190.3L513.5 192.1L514.0 193.8L514.5 195.3L515.0 196.8L515.5 198.2L516.0 199.5L516.5 200.8L517.0 202.1L517.4 203.4L517.9 204.6L518.4 205.8L518.9 206.9L519.4 208.1L519.9 209.1L520.4 210.2L520.9 211.2L521.4 212.1L521.9 213.0L522.4 213.9L522.9 214.8L523.3 215.6L523.8 216.4L524.3 217.2L524.8 218.0L525.3 218.8L525.8 219.5L526.3 220.2L526.8 220.9L527.3 221.6L527.8 222.3L528.3 223.0L528.8 223.7L529.3 224.4L529.7 225.0L530.2 225.7L530.7 226.3L531.2 227.0L531.7 227.6L532.2 228.2L532.7 228.8L533.2 229.3L533.7 229.8L534.2 230.3L534.7 230.7L535.2 231.1L535.7 231.5L536.1 231.9L536.6 232.3L537.1 232.7L537.6 233.0L538.1 233.3L538.6 233.6L539.1 233.9L539.6 234.2L540.1 234.4L540.6 234.6L541.1 234.7L541.6 234.9L542.0 235.0L542.5 235.1L543.0 235.2L543.5 235.3L544.0 235.4L544.5 235.5L545.0 235.7L545.5 235.9L546.0 236.1L546.5 236.4L547.0 236.8L547.5 237.1L548.0 237.5L548.4 237.9L548.9 238.2L549.4 238.6L549.9 238.9L550.4 239.2L550.9 239.5L551.4 239.7L551.9 239.9L552.4 240.1L552.9 240.2L553.4 240.4L553.9 240.6L554.4 240.7L554.8 240.9L555.3 241.0L555.8 241.1L556.3 241.2L556.8 241.2L557.3 241.2L557.8 241.2L558.3 241.1L558.8 241.0L559.3 240.8L559.8 240.5L560.3 240.3L560.7 240.1L561.2 239.9L561.7 239.8L562.2 239.7L562.7 239.6L563.2 239.7L563.7 240.0L564.2 240.3L564.7 240.6L565.2 241.0L565.7 241.4L566.2 241.8L566.7 242.1L567.1 242.4L567.6 242.5L568.1 242.6L568.6 242.7L569.1 242.8L569.6 242.8L570.1 242.9L570.6 242.9L571.1 242.9L571.6 243.0L572.1 243.0L572.6 243.0L573.0 243.0L573.5 243.0L574.0 243.0L574.5 243.0L575.0 243.0L575.5 243.0L576.0 243.0L576.5 242.9L577.0 242.9L577.5 242.9L578.0 242.9L578.5 242.8L579.0 242.8L579.4 242.8L579.9 242.8L580.4 242.9L580.9 242.9L581.4 242.9L581.9 243.0L582.4 243.0L582.9 243.1L583.4 243.1L583.9 243.2L584.4 243.2L584.9 243.3L585.4 243.3L585.8 243.3L586.3 243.3L586.8 243.3L587.3 243.3L587.8 243.3L588.3 243.3L588.8 243.4L589.3 243.4L589.8 243.4L590.3 243.4L590.8 243.4L591.3 243.4L591.7 243.4L592.2 243.3L592.7 243.3L593.2 243.3L593.7 243.3L594.2 243.2L594.7 243.2L595.2 243.2L595.7 243.2L596.2 243.2L596.7 243.2L597.2 243.2L597.7 243.2L598.1 243.2L598.6 243.3L599.1 243.3L599.6 243.3L600.1 243.4L600.6 243.4L601.1 243.4L601.6 243.5L602.1 243.5L602.6 243.5L603.1 243.5L603.6 243.5L604.0 243.5L604.5 243.5L605.0 243.5L605.5 243.5L606.0 243.5L606.5 243.5L607.0 243.5L607.5 243.5L608.0 243.5L608.5 243.5L609.0 243.5L609.5 243.5L610.0 243.5L610.4 243.5L610.9 243.5L611.4 243.5L611.9 243.5L612.4 243.5L612.9 243.5L613.4 243.5L613.9 243.5L614.4 243.5L614.9 243.5L615.4 243.5L615.9 243.5L616.4 243.5L616.8 243.5L617.3 243.5L617.8 243.6L618.3 243.6L618.8 243.6L619.3 243.6L619.8 243.6L620.3 243.6L620.8 243.6L621.3 243.6L621.8 243.6L622.3 243.6L622.7 243.6L623.2 243.6L623.7 243.6L624.2 243.6L624.7 243.6L625.2 243.6L625.7 243.6L626.2 243.6L626.7 243.6L627.2 243.6L627.7 243.6L628.2 243.6L628.7 243.6L629.1 243.6L629.6 243.6L630.1 243.6L630.6 243.6L631.1 243.6L631.6 243.6L632.1 243.6L632.6 243.6L633.1 243.6L633.6 243.6L634.1 243.6L634.6 243.6L635.1 243.6L635.5 243.6L636.0 243.6L636.5 243.6L637.0 243.6L637.5 243.6L638.0 243.6L638.5 243.6L639.0 243.6L639.5 243.6L640.0 243.6L640.5 243.6L641.0 243.6L641.4 243.6L641.9 243.6L642.4 243.6L642.9 243.6L643.4 243.6L643.9 243.6L644.4 243.6L644.9 243.6L645.4 243.6L645.9 243.6L646.4 243.6L646.9 243.6L647.4 243.6L647.8 243.6L648.3 243.6L648.8 243.6L649.3 243.6L649.8 243.6L650.3 243.6L650.8 243.6L651.3 243.6L651.8 243.6L652.3 243.6L652.8 243.6L653.3 243.6L653.7 243.6L654.2 243.6L654.7 243.6L655.2 243.6L655.7 243.6L656.2 243.6L656.7 243.6L657.2 243.6L657.7 243.6L658.2 243.6L658.7 243.6L659.2 243.6L659.7 243.6L660.1 243.6L660.6 243.6L661.1 243.6L661.6 243.6L662.1 243.6L662.6 243.6L663.1 243.6L663.6 243.6L664.1 243.6L664.6 243.6L665.1 243.6L665.6 243.6L666.1 243.6L666.5 243.6L667.0 243.6L667.5 243.6L668.0 243.6L668.5 243.6L669.0 243.6L669.5 243.6L670.0 243.6L670.5 243.6L671.0 243.6L671.5 243.6L672.0 243.6L672.4 243.6L672.9 243.6L673.4 243.6L673.9 243.6L674.4 243.6L674.9 243.6L675.4 243.6L675.9 243.6L676.4 243.6L676.9 243.6L677.4 243.6L677.9 243.6L678.4 243.6L678.8 243.6L679.3 243.6L679.8 243.6L680.3 243.6L680.8 243.6L681.3 243.6L681.8 243.6L682.3 243.6L682.3 243.6Z" fill="#DD8452" fill-opacity="0.40" stroke="none"/>
<path d="M476.1 243.6L476.6 243.6L477.1 243.6L477.6 243.6L478.1 243.6L478.6 243.6L479.1 243.6L479.6 243.6L480.0 243.6L480.5 243.6L481.0 243.6L481.5 243.6L482.0 243.6L482.5 243.6L483.0 243.6L483.5 243.6L484.0 243.6L484.5 243.6L485.0 243.6L485.5 243.6L486.0 243.6L486.4 243.6L486.9 243.6L487.4 243.6L487.9 243.6L488.4 243.6L488.9 243.6L489.4 243.6L489.9 243.5L490.4 243.4L490.9 243.2L491.4 242.9L491.9 242.5L492.3 241.9L492.8 241.1L493.3 240.1L493.8 238.9L494.3 237.3L494.8 235.1L495.3 232.1L495.8 228.4L496.3 224.3L496.8 219.8L497.3 214.8L497.8 209.6L498.3 204.2L498.7 198.9L499.2 193.6L499.7 188.3L500.2 182.9L500.7 177.5L501.2 172.4L501.7 168.1L502.2 164.5L502.7 161.7L503.2 159.6L503.7 158.1L504.2 157.1L504.7 156.7L505.1 156.8L505.6 157.3L506.1 158.2L506.6 159.4L507.1 160.9L507.6 162.9L508.1 165.2L508.6 167.7L509.1 170.2L509.6 172.7L510.1 175.3L510.6 178.0L511.0 180.7L511.5 183.4L512.0 185.9L512.5 188.2L513.0 190.3L513.5 192.1L514.0 193.8L514.5 195.3L515.0 196.8L515.5 198.2L516.0 199.5L516.5 200.8L517.0 202.1L517.4 203.4L517.9 204.6L518.4 205.8L518.9 206.9L519.4 208.1L519.9 209.1L520.4 210.2L520.9 211.2L521.4 212.1L521.9 213.0L522.4 213.9L522.9 214.8L523.3 215.6L523.8 216.4L524.3 217.2L524.8 218.0L525.3 218.8L525.8 219.5L526.3 220.2L526.8 220.9L527.3 221.6L527.8 222.3L528.3 223.0L528.8 223.7L529.3 224.4L529.7 225.0L530.2 225.7L530.7 226.3L531.2 227.0L531.7 227.6L532.2 228.2L532.7 228.8L533.2 229.3L533.7 229.8L534.2 230.3L534.7 230.7L535.2 231.1L535.7 231.5L536.1 231.9L536.6 232.3L537.1 232.7L537.6 233.0L538.1 233.3L538.6 233.6L539.1 233.9L539.6 234.2L540.1 234.4L540.6 234.6L541.1 234.7L541.6 234.9L542.0 235.0L542.5 235.1L543.0 235.2L543.5 235.3L544.0 235.4L544.5 235.5L545.0 235.7L545.5 235.9L546.0 236.1L546.5 236.4L547.0 236.8L547.5 237.1L548.0 237.5L548.4 237.9L548.9 238.2L549.4 238.6L549.9 238.9L550.4 239.2L550.9 239.5L551.4 239.7L551.9 239.9L552.4 240.1L552.9 240.2L553.4 240.4L553.9 240.6L554.4 240.7L554.8 240.9L555.3 241.0L555.8 241.1L556.3 241.2L556.8 241.2L557.3 241.2L557.8 241.2L558.3 241.1L558.8 241.0L559.3 240.8L559.8 240.5L560.3 240.3L560.7 240.1L561.2 239.9L561.7 239.8L562.2 239.7L562.7 239.6L563.2 239.7L563.7 240.0L564.2 240.3L564.7 240.6L565.2 241.0L565.7 241.4L566.2 241.8L566.7 242.1L567.1 242.4L567.6 242.5L568.1 242.6L568.6 242.7L569.1 242.8L569.6 242.8L570.1 242.9L570.6 242.9L571.1 242.9L571.6 243.0L572.1 243.0L572.6 243.0L573.0 243.0L573.5 243.0L574.0 243.0L574.5 243.0L575.0 243.0L575.5 243.0L576.0 243.0L576.5 242.9L577.0 242.9L577.5 242.9L578.0 242.9L578.5 242.8L579.0 242.8L579.4 242.8L579.9 242.8L580.4 242.9L580.9 242.9L581.4 242.9L581.9 243.0L582.4 243.0L582.9 243.1L583.4 243.1L583.9 243.2L584.4 243.2L584.9 243.3L585.4 243.3L585.8 243.3L586.3 243.3L586.8 243.3L587.3 243.3L587.8 243.3L588.3 243.3L588.8 243.4L589.3 243.4L589.8 243.4L590.3 243.4L590.8 243.4L591.3 243.4L591.7 243.4L592.2 243.3L592.7 243.3L593.2 243.3L593.7 243.3L594.2 243.2L594.7 243.2L595.2 243.2L595.7 243.2L596.2 243.2L596.7 243.2L597.2 243.2L597.7 243.2L598.1 243.2L598.6 243.3L599.1 243.3L599.6 243.3L600.1 243.4L600.6 243.4L601.1 243.4L601.6 243.5L602.1 243.5L602.6 243.5L603.1 243.5L603.6 243.5L604.0 243.5L604.5 243.5L605.0 243.5L605.5 243.5L606.0 243.5L606.5 243.5L607.0 243.5L607.5 243.5L608.0 243.5L608.5 243.5L609.0 243.5L609.5 243.5L610.0 243.5L610.4 243.5L610.9 243.5L611.4 243.5L611.9 243.5L612.4 243.5L612.9 243.5L613.4 243.5L613.9 243.5L614.4 243.5L614.9 243.5L615.4 243.5L615.9 243.5L616.4 243.5L616.8 243.5L617.3 243.5L617.8 243.6L618.3 243.6L618.8 243.6L619.3 243.6L619.8 243.6L620.3 243.6L620.8 243.6L621.3 243.6L621.8 243.6L622.3 243.6L622.7 243.6L623.2 243.6L623.7 243.6L624.2 243.6L624.7 243.6L625.2 243.6L625.7 243.6L626.2 243.6L626.7 243.6L627.2 243.6L627.7 243.6L628.2 243.6L628.7 243.6L629.1 243.6L629.6 243.6L630.1 243.6L630.6 243.6L631.1 243.6L631.6 243.6L632.1 243.6L632.6 243.6L633.1 243.6L633.6 243.6L634.1 243.6L634.6 243.6L635.1 243.6L635.5 243.6L636.0 243.6L636.5 243.6L637.0 243.6L637.5 243.6L638.0 243.6L638.5 243.6L639.0 243.6L639.5 243.6L640.0 243.6L640.5 243.6L641.0 243.6L641.4 243.6L641.9 243.6L642.4 243.6L642.9 243.6L643.4 243.6L643.9 243.6L644.4 243.6L644.9 243.6L645.4 243.6L645.9 243.6L646.4 243.6L646.9 243.6L647.4 243.6L647.8 243.6L648.3 243.6L648.8 243.6L649.3 243.6L649.8 243.6L650.3 243.6L650.8 243.6L651.3 243.6L651.8 243.6L652.3 243.6L652.8 243.6L653.3 243.6L653.7 243.6L654.2 243.6L654.7 243.6L655.2 243.6L655.7 243.6L656.2 243.6L656.7 243.6L657.2 243.6L657.7 243.6L658.2 243.6L658.7 243.6L659.2 243.6L659.7 243.6L660.1 243.6L660.6 243.6L661.1 243.6L661.6 243.6L662.1 243.6L662.6 243.6L663.1 243.6L663.6 243.6L664.1 243.6L664.6 243.6L665.1 243.6L665.6 243.6L666.1 243.6L666.5 243.6L667.0 243.6L667.5 243.6L668.0 243.6L668.5 243.6L669.0 243.6L669.5 243.6L670.0 243.6L670.5 243.6L671.0 243.6L671.5 243.6L672.0 243.6L672.4 243.6L672.9 243.6L673.4 243.6L673.9 243.6L674.4 243.6L674.9 243.6L675.4 243.6L675.9 243.6L676.4 243.6L676.9 243.6L677.4 243.6L677.9 243.6L678.4 243.6L678.8 243.6L679.3 243.6L679.8 243.6L680.3 243.6L680.8 243.6L681.3 243.6L681.8 243.6L682.3 243.6" fill="none" stroke="#DD8452" stroke-width="0.5" stroke-opacity="0.85" stroke-linejoin="round"/>
<path d="M476.1 243.6L476.1 243.6L476.6 243.6L477.1 243.6L477.6 243.6L478.1 243.6L478.6 243.6L479.1 243.6L479.6 243.6L480.0 243.6L480.5 243.6L481.0 243.6L481.5 243.6L482.0 243.6L482.5 243.6L483.0 243.6L483.5 243.6L484.0 243.6L484.5 243.6L485.0 243.6L485.5 243.6L486.0 243.6L486.4 243.6L486.9 243.6L487.4 243.6L487.9 243.6L488.4 243.6L488.9 243.6L489.4 243.6L489.9 243.6L490.4 243.5L490.9 243.3L491.4 243.1L491.9 242.7L492.3 242.2L492.8 241.6L493.3 240.8L493.8 239.7L494.3 238.4L494.8 236.4L495.3 233.7L495.8 230.3L496.3 226.4L496.8 222.0L497.3 216.9L497.8 211.3L498.3 205.4L498.7 199.2L499.2 192.8L499.7 186.1L500.2 179.2L500.7 172.3L501.2 165.7L501.7 159.9L502.2 155.3L502.7 151.6L503.2 148.6L503.7 146.4L504.2 144.6L504.7 143.5L505.1 143.2L505.6 143.9L506.1 145.3L506.6 147.2L507.1 149.6L507.6 152.5L508.1 155.7L508.6 159.0L509.1 162.4L509.6 165.9L510.1 169.6L510.6 173.5L511.0 177.3L511.5 181.0L512.0 184.5L512.5 187.6L513.0 190.2L513.5 192.5L514.0 194.6L514.5 196.4L515.0 198.1L515.5 199.7L516.0 201.2L516.5 202.6L517.0 203.9L517.4 205.2L517.9 206.5L518.4 207.7L518.9 208.8L519.4 209.9L519.9 211.0L520.4 212.0L520.9 212.9L521.4 213.8L521.9 214.6L522.4 215.4L522.9 216.1L523.3 216.8L523.8 217.5L524.3 218.1L524.8 218.8L525.3 219.4L525.8 220.0L526.3 220.6L526.8 221.2L527.3 221.8L527.8 222.4L528.3 223.0L528.8 223.7L529.3 224.3L529.7 225.0L530.2 225.6L530.7 226.3L531.2 226.9L531.7 227.5L532.2 228.2L532.7 228.7L533.2 229.3L533.7 229.8L534.2 230.3L534.7 230.7L535.2 231.1L535.7 231.5L536.1 231.9L536.6 232.3L537.1 232.7L537.6 233.0L538.1 233.3L538.6 233.6L539.1 233.9L539.6 234.2L540.1 234.4L540.6 234.6L541.1 234.7L541.6 234.9L542.0 235.0L542.5 235.1L543.0 235.2L543.5 235.3L544.0 235.4L544.5 235.5L545.0 235.7L545.5 235.9L546.0 236.1L546.5 236.4L547.0 236.8L547.5 237.1L548.0 237.5L548.4 237.9L548.9 238.2L549.4 238.6L549.9 238.9L550.4 239.2L550.9 239.5L551.4 239.7L551.9 239.9L552.4 240.1L552.9 240.2L553.4 240.4L553.9 240.6L554.4 240.7L554.8 240.9L555.3 241.0L555.8 241.1L556.3 241.2L556.8 241.2L557.3 241.2L557.8 241.2L558.3 241.1L558.8 241.0L559.3 240.8L559.8 240.5L560.3 240.3L560.7 240.1L561.2 239.9L561.7 239.8L562.2 239.7L562.7 239.6L563.2 239.7L563.7 240.0L564.2 240.3L564.7 240.6L565.2 241.0L565.7 241.4L566.2 241.8L566.7 242.1L567.1 242.4L567.6 242.5L568.1 242.6L568.6 242.7L569.1 242.8L569.6 242.8L570.1 242.9L570.6 242.9L571.1 242.9L571.6 243.0L572.1 243.0L572.6 243.0L573.0 243.0L573.5 243.0L574.0 243.0L574.5 243.0L575.0 243.0L575.5 243.0L576.0 243.0L576.5 242.9L577.0 242.9L577.5 242.9L578.0 242.9L578.5 242.8L579.0 242.8L579.4 242.8L579.9 242.8L580.4 242.9L580.9 242.9L581.4 242.9L581.9 243.0L582.4 243.0L582.9 243.1L583.4 243.1L583.9 243.2L584.4 243.2L584.9 243.3L585.4 243.3L585.8 243.3L586.3 243.3L586.8 243.3L587.3 243.3L587.8 243.3L588.3 243.3L588.8 243.4L589.3 243.4L589.8 243.4L590.3 243.4L590.8 243.4L591.3 243.4L591.7 243.4L592.2 243.3L592.7 243.3L593.2 243.3L593.7 243.3L594.2 243.2L594.7 243.2L595.2 243.2L595.7 243.2L596.2 243.2L596.7 243.2L597.2 243.2L597.7 243.2L598.1 243.2L598.6 243.3L599.1 243.3L599.6 243.3L600.1 243.4L600.6 243.4L601.1 243.4L601.6 243.5L602.1 243.5L602.6 243.5L603.1 243.5L603.6 243.5L604.0 243.5L604.5 243.5L605.0 243.5L605.5 243.5L606.0 243.5L606.5 243.5L607.0 243.5L607.5 243.5L608.0 243.5L608.5 243.5L609.0 243.5L609.5 243.5L610.0 243.5L610.4 243.5L610.9 243.5L611.4 243.5L611.9 243.5L612.4 243.5L612.9 243.5L613.4 243.5L613.9 243.5L614.4 243.5L614.9 243.5L615.4 243.5L615.9 243.5L616.4 243.5L616.8 243.5L617.3 243.5L617.8 243.6L618.3 243.6L618.8 243.6L619.3 243.6L619.8 243.6L620.3 243.6L620.8 243.6L621.3 243.6L621.8 243.6L622.3 243.6L622.7 243.6L623.2 243.6L623.7 243.6L624.2 243.6L624.7 243.6L625.2 243.6L625.7 243.6L626.2 243.6L626.7 243.6L627.2 243.6L627.7 243.6L628.2 243.6L628.7 243.6L629.1 243.6L629.6 243.6L630.1 243.6L630.6 243.6L631.1 243.6L631.6 243.6L632.1 243.6L632.6 243.6L633.1 243.6L633.6 243.6L634.1 243.6L634.6 243.6L635.1 243.6L635.5 243.6L636.0 243.6L636.5 243.6L637.0 243.6L637.5 243.6L638.0 243.6L638.5 243.6L639.0 243.6L639.5 243.6L640.0 243.6L640.5 243.6L641.0 243.6L641.4 243.6L641.9 243.6L642.4 243.6L642.9 243.6L643.4 243.6L643.9 243.6L644.4 243.6L644.9 243.6L645.4 243.6L645.9 243.6L646.4 243.6L646.9 243.6L647.4 243.6L647.8 243.6L648.3 243.6L648.8 243.6L649.3 243.6L649.8 243.6L650.3 243.6L650.8 243.6L651.3 243.6L651.8 243.6L652.3 243.6L652.8 243.6L653.3 243.6L653.7 243.6L654.2 243.6L654.7 243.6L655.2 243.6L655.7 243.6L656.2 243.6L656.7 243.6L657.2 243.6L657.7 243.6L658.2 243.6L658.7 243.6L659.2 243.6L659.7 243.6L660.1 243.6L660.6 243.6L661.1 243.6L661.6 243.6L662.1 243.6L662.6 243.6L663.1 243.6L663.6 243.6L664.1 243.6L664.6 243.6L665.1 243.6L665.6 243.6L666.1 243.6L666.5 243.6L667.0 243.6L667.5 243.6L668.0 243.6L668.5 243.6L669.0 243.6L669.5 243.6L670.0 243.6L670.5 243.6L671.0 243.6L671.5 243.6L672.0 243.6L672.4 243.6L672.9 243.6L673.4 243.6L673.9 243.6L674.4 243.6L674.9 243.6L675.4 243.6L675.9 243.6L676.4 243.6L676.9 243.6L677.4 243.6L677.9 243.6L678.4 243.6L678.8 243.6L679.3 243.6L679.8 243.6L680.3 243.6L680.8 243.6L681.3 243.6L681.8 243.6L682.3 243.6L682.3 243.6Z" fill="#55A868" fill-opacity="0.40" stroke="none"/>
<path d="M476.1 243.6L476.6 243.6L477.1 243.6L477.6 243.6L478.1 243.6L478.6 243.6L479.1 243.6L479.6 243.6L480.0 243.6L480.5 243.6L481.0 243.6L481.5 243.6L482.0 243.6L482.5 243.6L483.0 243.6L483.5 243.6L484.0 243.6L484.5 243.6L485.0 243.6L485.5 243.6L486.0 243.6L486.4 243.6L486.9 243.6L487.4 243.6L487.9 243.6L488.4 243.6L488.9 243.6L489.4 243.6L489.9 243.6L490.4 243.5L490.9 243.3L491.4 243.1L491.9 242.7L492.3 242.2L492.8 241.6L493.3 240.8L493.8 239.7L494.3 238.4L494.8 236.4L495.3 233.7L495.8 230.3L496.3 226.4L496.8 222.0L497.3 216.9L497.8 211.3L498.3 205.4L498.7 199.2L499.2 192.8L499.7 186.1L500.2 179.2L500.7 172.3L501.2 165.7L501.7 159.9L502.2 155.3L502.7 151.6L503.2 148.6L503.7 146.4L504.2 144.6L504.7 143.5L505.1 143.2L505.6 143.9L506.1 145.3L506.6 147.2L507.1 149.6L507.6 152.5L508.1 155.7L508.6 159.0L509.1 162.4L509.6 165.9L510.1 169.6L510.6 173.5L511.0 177.3L511.5 181.0L512.0 184.5L512.5 187.6L513.0 190.2L513.5 192.5L514.0 194.6L514.5 196.4L515.0 198.1L515.5 199.7L516.0 201.2L516.5 202.6L517.0 203.9L517.4 205.2L517.9 206.5L518.4 207.7L518.9 208.8L519.4 209.9L519.9 211.0L520.4 212.0L520.9 212.9L521.4 213.8L521.9 214.6L522.4 215.4L522.9 216.1L523.3 216.8L523.8 217.5L524.3 218.1L524.8 218.8L525.3 219.4L525.8 220.0L526.3 220.6L526.8 221.2L527.3 221.8L527.8 222.4L528.3 223.0L528.8 223.7L529.3 224.3L529.7 225.0L530.2 225.6L530.7 226.3L531.2 226.9L531.7 227.5L532.2 228.2L532.7 228.7L533.2 229.3L533.7 229.8L534.2 230.3L534.7 230.7L535.2 231.1L535.7 231.5L536.1 231.9L536.6 232.3L537.1 232.7L537.6 233.0L538.1 233.3L538.6 233.6L539.1 233.9L539.6 234.2L540.1 234.4L540.6 234.6L541.1 234.7L541.6 234.9L542.0 235.0L542.5 235.1L543.0 235.2L543.5 235.3L544.0 235.4L544.5 235.5L545.0 235.7L545.5 235.9L546.0 236.1L546.5 236.4L547.0 236.8L547.5 237.1L548.0 237.5L548.4 237.9L548.9 238.2L549.4 238.6L549.9 238.9L550.4 239.2L550.9 239.5L551.4 239.7L551.9 239.9L552.4 240.1L552.9 240.2L553.4 240.4L553.9 240.6L554.4 240.7L554.8 240.9L555.3 241.0L555.8 241.1L556.3 241.2L556.8 241.2L557.3 241.2L557.8 241.2L558.3 241.1L558.8 241.0L559.3 240.8L559.8 240.5L560.3 240.3L560.7 240.1L561.2 239.9L561.7 239.8L562.2 239.7L562.7 239.6L563.2 239.7L563.7 240.0L564.2 240.3L564.7 240.6L565.2 241.0L565.7 241.4L566.2 241.8L566.7 242.1L567.1 242.4L567.6 242.5L568.1 242.6L568.6 242.7L569.1 242.8L569.6 242.8L570.1 242.9L570.6 242.9L571.1 242.9L571.6 243.0L572.1 243.0L572.6 243.0L573.0 243.0L573.5 243.0L574.0 243.0L574.5 243.0L575.0 243.0L575.5 243.0L576.0 243.0L576.5 242.9L577.0 242.9L577.5 242.9L578.0 242.9L578.5 242.8L579.0 242.8L579.4 242.8L579.9 242.8L580.4 242.9L580.9 242.9L581.4 242.9L581.9 243.0L582.4 243.0L582.9 243.1L583.4 243.1L583.9 243.2L584.4 243.2L584.9 243.3L585.4 243.3L585.8 243.3L586.3 243.3L586.8 243.3L587.3 243.3L587.8 243.3L588.3 243.3L588.8 243.4L589.3 243.4L589.8 243.4L590.3 243.4L590.8 243.4L591.3 243.4L591.7 243.4L592.2 243.3L592.7 243.3L593.2 243.3L593.7 243.3L594.2 243.2L594.7 243.2L595.2 243.2L595.7 243.2L596.2 243.2L596.7 243.2L597.2 243.2L597.7 243.2L598.1 243.2L598.6 243.3L599.1 243.3L599.6 243.3L600.1 243.4L600.6 243.4L601.1 243.4L601.6 243.5L602.1 243.5L602.6 243.5L603.1 243.5L603.6 243.5L604.0 243.5L604.5 243.5L605.0 243.5L605.5 243.5L606.0 243.5L606.5 243.5L607.0 243.5L607.5 243.5L608.0 243.5L608.5 243.5L609.0 243.5L609.5 243.5L610.0 243.5L610.4 243.5L610.9 243.5L611.4 243.5L611.9 243.5L612.4 243.5L612.9 243.5L613.4 243.5L613.9 243.5L614.4 243.5L614.9 243.5L615.4 243.5L615.9 243.5L616.4 243.5L616.8 243.5L617.3 243.5L617.8 243.6L618.3 243.6L618.8 243.6L619.3 243.6L619.8 243.6L620.3 243.6L620.8 243.6L621.3 243.6L621.8 243.6L622.3 243.6L622.7 243.6L623.2 243.6L623.7 243.6L624.2 243.6L624.7 243.6L625.2 243.6L625.7 243.6L626.2 243.6L626.7 243.6L627.2 243.6L627.7 243.6L628.2 243.6L628.7 243.6L629.1 243.6L629.6 243.6L630.1 243.6L630.6 243.6L631.1 243.6L631.6 243.6L632.1 243.6L632.6 243.6L633.1 243.6L633.6 243.6L634.1 243.6L634.6 243.6L635.1 243.6L635.5 243.6L636.0 243.6L636.5 243.6L637.0 243.6L637.5 243.6L638.0 243.6L638.5 243.6L639.0 243.6L639.5 243.6L640.0 243.6L640.5 243.6L641.0 243.6L641.4 243.6L641.9 243.6L642.4 243.6L642.9 243.6L643.4 243.6L643.9 243.6L644.4 243.6L644.9 243.6L645.4 243.6L645.9 243.6L646.4 243.6L646.9 243.6L647.4 243.6L647.8 243.6L648.3 243.6L648.8 243.6L649.3 243.6L649.8 243.6L650.3 243.6L650.8 243.6L651.3 243.6L651.8 243.6L652.3 243.6L652.8 243.6L653.3 243.6L653.7 243.6L654.2 243.6L654.7 243.6L655.2 243.6L655.7 243.6L656.2 243.6L656.7 243.6L657.2 243.6L657.7 243.6L658.2 243.6L658.7 243.6L659.2 243.6L659.7 243.6L660.1 243.6L660.6 243.6L661.1 243.6L661.6 243.6L662.1 243.6L662.6 243.6L663.1 243.6L663.6 243.6L664.1 243.6L664.6 243.6L665.1 243.6L665.6 243.6L666.1 243.6L666.5 243.6L667.0 243.6L667.5 243.6L668.0 243.6L668.5 243.6L669.0 243.6L669.5 243.6L670.0 243.6L670.5 243.6L671.0 243.6L671.5 243.6L672.0 243.6L672.4 243.6L672.9 243.6L673.4 243.6L673.9 243.6L674.4 243.6L674.9 243.6L675.4 243.6L675.9 243.6L676.4 243.6L676.9 243.6L677.4 243.6L677.9 243.6L678.4 243.6L678.8 243.6L679.3 243.6L679.8 243.6L680.3 243.6L680.8 243.6L681.3 243.6L681.8 243.6L682.3 243.6" fill="none" stroke="#55A868" stroke-width="0.5" stroke-opacity="0.85" stroke-linejoin="round"/>
<path d="M476.1 243.6L476.1 243.6L476.6 243.6L477.1 243.6L477.6 243.6L478.1 243.6L478.6 243.6L479.1 243.6L479.6 243.6L480.0 243.6L480.5 243.6L481.0 243.6L481.5 243.6L482.0 243.6L482.5 243.6L483.0 243.6L483.5 243.6L484.0 243.6L484.5 243.6L485.0 243.6L485.5 243.6L486.0 243.6L486.4 243.6L486.9 243.6L487.4 243.6L487.9 243.6L488.4 243.5L488.9 243.4L489.4 243.2L489.9 243.0L490.4 242.7L490.9 242.2L491.4 241.5L491.9 240.6L492.3 239.6L492.8 238.3L493.3 236.7L493.8 234.7L494.3 232.2L494.8 229.3L495.3 225.8L495.8 221.9L496.3 217.7L496.8 213.1L497.3 208.3L497.8 203.4L498.3 198.5L498.7 193.7L499.2 189.2L499.7 185.1L500.2 181.5L500.7 178.3L501.2 175.4L501.7 173.1L502.2 171.2L502.7 169.8L503.2 168.9L503.7 168.4L504.2 168.3L504.7 168.5L505.1 169.2L505.6 170.0L506.1 171.0L506.6 172.2L507.1 173.5L507.6 175.0L508.1 176.5L508.6 178.0L509.1 179.6L509.6 181.2L510.1 182.9L510.6 184.7L511.0 186.5L511.5 188.3L512.0 190.1L512.5 191.8L513.0 193.4L513.5 195.0L514.0 196.5L514.5 197.9L515.0 199.4L515.5 200.7L516.0 202.1L516.5 203.4L517.0 204.7L517.4 206.0L517.9 207.3L518.4 208.5L518.9 209.7L519.4 210.8L519.9 211.9L520.4 212.9L520.9 213.8L521.4 214.6L521.9 215.4L522.4 216.1L522.9 216.7L523.3 217.3L523.8 217.9L524.3 218.5L524.8 219.0L525.3 219.5L525.8 220.1L526.3 220.6L526.8 221.0L527.3 221.5L527.8 222.0L528.3 222.5L528.8 223.0L529.3 223.6L529.7 224.1L530.2 224.6L530.7 225.1L531.2 225.6L531.7 226.1L532.2 226.6L532.7 227.0L533.2 227.5L533.7 227.9L534.2 228.3L534.7 228.6L535.2 228.9L535.7 229.3L536.1 229.6L536.6 229.9L537.1 230.2L537.6 230.4L538.1 230.7L538.6 230.9L539.1 231.2L539.6 231.4L540.1 231.5L540.6 231.7L541.1 231.8L541.6 231.9L542.0 232.0L542.5 232.1L543.0 232.2L543.5 232.3L544.0 232.3L544.5 232.4L545.0 232.6L545.5 232.8L546.0 233.0L546.5 233.3L547.0 233.7L547.5 234.1L548.0 234.5L548.4 234.9L548.9 235.4L549.4 235.8L549.9 236.2L550.4 236.5L550.9 236.8L551.4 237.0L551.9 237.2L552.4 237.4L552.9 237.7L553.4 237.9L553.9 238.0L554.4 238.2L554.8 238.4L555.3 238.5L555.8 238.6L556.3 238.7L556.8 238.8L557.3 238.8L557.8 238.7L558.3 238.6L558.8 238.3L559.3 238.0L559.8 237.7L560.3 237.4L560.7 237.0L561.2 236.7L561.7 236.5L562.2 236.4L562.7 236.3L563.2 236.5L563.7 236.7L564.2 237.1L564.7 237.6L565.2 238.2L565.7 238.7L566.2 239.3L566.7 239.8L567.1 240.1L567.6 240.4L568.1 240.6L568.6 240.7L569.1 240.9L569.6 241.0L570.1 241.1L570.6 241.2L571.1 241.3L571.6 241.4L572.1 241.4L572.6 241.5L573.0 241.5L573.5 241.6L574.0 241.6L574.5 241.6L575.0 241.5L575.5 241.5L576.0 241.4L576.5 241.3L577.0 241.3L577.5 241.2L578.0 241.1L578.5 241.1L579.0 241.1L579.4 241.1L579.9 241.1L580.4 241.2L580.9 241.3L581.4 241.5L581.9 241.6L582.4 241.8L582.9 241.9L583.4 242.1L583.9 242.2L584.4 242.3L584.9 242.3L585.4 242.4L585.8 242.4L586.3 242.4L586.8 242.4L587.3 242.4L587.8 242.4L588.3 242.4L588.8 242.4L589.3 242.4L589.8 242.4L590.3 242.4L590.8 242.4L591.3 242.4L591.7 242.3L592.2 242.3L592.7 242.2L593.2 242.1L593.7 242.0L594.2 241.8L594.7 241.8L595.2 241.7L595.7 241.6L596.2 241.6L596.7 241.7L597.2 241.7L597.7 241.9L598.1 242.0L598.6 242.2L599.1 242.3L599.6 242.4L600.1 242.6L600.6 242.6L601.1 242.7L601.6 242.7L602.1 242.6L602.6 242.6L603.1 242.5L603.6 242.4L604.0 242.4L604.5 242.3L605.0 242.3L605.5 242.3L606.0 242.3L606.5 242.4L607.0 242.5L607.5 242.6L608.0 242.7L608.5 242.8L609.0 242.9L609.5 242.9L610.0 242.9L610.4 242.9L610.9 242.8L611.4 242.7L611.9 242.6L612.4 242.5L612.9 242.5L613.4 242.5L613.9 242.6L614.4 242.6L614.9 242.7L615.4 242.8L615.9 242.9L616.4 243.0L616.8 243.1L617.3 243.2L617.8 243.2L618.3 243.3L618.8 243.3L619.3 243.3L619.8 243.4L620.3 243.4L620.8 243.4L621.3 243.4L621.8 243.4L622.3 243.4L622.7 243.5L623.2 243.5L623.7 243.5L624.2 243.5L624.7 243.5L625.2 243.5L625.7 243.4L626.2 243.4L626.7 243.3L627.2 243.2L627.7 243.2L628.2 243.1L628.7 243.0L629.1 243.0L629.6 242.9L630.1 242.9L630.6 243.0L631.1 243.0L631.6 243.1L632.1 243.2L632.6 243.2L633.1 243.3L633.6 243.4L634.1 243.4L634.6 243.5L635.1 243.5L635.5 243.5L636.0 243.5L636.5 243.5L637.0 243.5L637.5 243.5L638.0 243.5L638.5 243.5L639.0 243.5L639.5 243.5L640.0 243.5L640.5 243.5L641.0 243.5L641.4 243.5L641.9 243.5L642.4 243.5L642.9 243.4L643.4 243.4L643.9 243.4L644.4 243.3L644.9 243.3L645.4 243.2L645.9 243.2L646.4 243.2L646.9 243.2L647.4 243.2L647.8 243.2L648.3 243.3L648.8 243.3L649.3 243.4L649.8 243.4L650.3 243.5L650.8 243.5L651.3 243.6L651.8 243.6L652.3 243.6L652.8 243.6L653.3 243.6L653.7 243.6L654.2 243.6L654.7 243.6L655.2 243.6L655.7 243.6L656.2 243.6L656.7 243.6L657.2 243.6L657.7 243.6L658.2 243.6L658.7 243.6L659.2 243.6L659.7 243.6L660.1 243.6L660.6 243.6L661.1 243.6L661.6 243.6L662.1 243.6L662.6 243.6L663.1 243.6L663.6 243.6L664.1 243.6L664.6 243.6L665.1 243.6L665.6 243.6L666.1 243.6L666.5 243.6L667.0 243.6L667.5 243.6L668.0 243.6L668.5 243.6L669.0 243.6L669.5 243.6L670.0 243.6L670.5 243.6L671.0 243.6L671.5 243.6L672.0 243.6L672.4 243.6L672.9 243.6L673.4 243.6L673.9 243.6L674.4 243.6L674.9 243.6L675.4 243.6L675.9 243.6L676.4 243.6L676.9 243.6L677.4 243.6L677.9 243.6L678.4 243.6L678.8 243.6L679.3 243.6L679.8 243.6L680.3 243.6L680.8 243.6L681.3 243.6L681.8 243.6L682.3 243.6L682.3 243.6Z" fill="#C44E52" fill-opacity="0.40" stroke="none"/>
<path d="M476.1 243.6L476.6 243.6L477.1 243.6L477.6 243.6L478.1 243.6L478.6 243.6L479.1 243.6L479.6 243.6L480.0 243.6L480.5 243.6L481.0 243.6L481.5 243.6L482.0 243.6L482.5 243.6L483.0 243.6L483.5 243.6L484.0 243.6L484.5 243.6L485.0 243.6L485.5 243.6L486.0 243.6L486.4 243.6L486.9 243.6L487.4 243.6L487.9 243.6L488.4 243.5L488.9 243.4L489.4 243.2L489.9 243.0L490.4 242.7L490.9 242.2L491.4 241.5L491.9 240.6L492.3 239.6L492.8 238.3L493.3 236.7L493.8 234.7L494.3 232.2L494.8 229.3L495.3 225.8L495.8 221.9L496.3 217.7L496.8 213.1L497.3 208.3L497.8 203.4L498.3 198.5L498.7 193.7L499.2 189.2L499.7 185.1L500.2 181.5L500.7 178.3L501.2 175.4L501.7 173.1L502.2 171.2L502.7 169.8L503.2 168.9L503.7 168.4L504.2 168.3L504.7 168.5L505.1 169.2L505.6 170.0L506.1 171.0L506.6 172.2L507.1 173.5L507.6 175.0L508.1 176.5L508.6 178.0L509.1 179.6L509.6 181.2L510.1 182.9L510.6 184.7L511.0 186.5L511.5 188.3L512.0 190.1L512.5 191.8L513.0 193.4L513.5 195.0L514.0 196.5L514.5 197.9L515.0 199.4L515.5 200.7L516.0 202.1L516.5 203.4L517.0 204.7L517.4 206.0L517.9 207.3L518.4 208.5L518.9 209.7L519.4 210.8L519.9 211.9L520.4 212.9L520.9 213.8L521.4 214.6L521.9 215.4L522.4 216.1L522.9 216.7L523.3 217.3L523.8 217.9L524.3 218.5L524.8 219.0L525.3 219.5L525.8 220.1L526.3 220.6L526.8 221.0L527.3 221.5L527.8 222.0L528.3 222.5L528.8 223.0L529.3 223.6L529.7 224.1L530.2 224.6L530.7 225.1L531.2 225.6L531.7 226.1L532.2 226.6L532.7 227.0L533.2 227.5L533.7 227.9L534.2 228.3L534.7 228.6L535.2 228.9L535.7 229.3L536.1 229.6L536.6 229.9L537.1 230.2L537.6 230.4L538.1 230.7L538.6 230.9L539.1 231.2L539.6 231.4L540.1 231.5L540.6 231.7L541.1 231.8L541.6 231.9L542.0 232.0L542.5 232.1L543.0 232.2L543.5 232.3L544.0 232.3L544.5 232.4L545.0 232.6L545.5 232.8L546.0 233.0L546.5 233.3L547.0 233.7L547.5 234.1L548.0 234.5L548.4 234.9L548.9 235.4L549.4 235.8L549.9 236.2L550.4 236.5L550.9 236.8L551.4 237.0L551.9 237.2L552.4 237.4L552.9 237.7L553.4 237.9L553.9 238.0L554.4 238.2L554.8 238.4L555.3 238.5L555.8 238.6L556.3 238.7L556.8 238.8L557.3 238.8L557.8 238.7L558.3 238.6L558.8 238.3L559.3 238.0L559.8 237.7L560.3 237.4L560.7 237.0L561.2 236.7L561.7 236.5L562.2 236.4L562.7 236.3L563.2 236.5L563.7 236.7L564.2 237.1L564.7 237.6L565.2 238.2L565.7 238.7L566.2 239.3L566.7 239.8L567.1 240.1L567.6 240.4L568.1 240.6L568.6 240.7L569.1 240.9L569.6 241.0L570.1 241.1L570.6 241.2L571.1 241.3L571.6 241.4L572.1 241.4L572.6 241.5L573.0 241.5L573.5 241.6L574.0 241.6L574.5 241.6L575.0 241.5L575.5 241.5L576.0 241.4L576.5 241.3L577.0 241.3L577.5 241.2L578.0 241.1L578.5 241.1L579.0 241.1L579.4 241.1L579.9 241.1L580.4 241.2L580.9 241.3L581.4 241.5L581.9 241.6L582.4 241.8L582.9 241.9L583.4 242.1L583.9 242.2L584.4 242.3L584.9 242.3L585.4 242.4L585.8 242.4L586.3 242.4L586.8 242.4L587.3 242.4L587.8 242.4L588.3 242.4L588.8 242.4L589.3 242.4L589.8 242.4L590.3 242.4L590.8 242.4L591.3 242.4L591.7 242.3L592.2 242.3L592.7 242.2L593.2 242.1L593.7 242.0L594.2 241.8L594.7 241.8L595.2 241.7L595.7 241.6L596.2 241.6L596.7 241.7L597.2 241.7L597.7 241.9L598.1 242.0L598.6 242.2L599.1 242.3L599.6 242.4L600.1 242.6L600.6 242.6L601.1 242.7L601.6 242.7L602.1 242.6L602.6 242.6L603.1 242.5L603.6 242.4L604.0 242.4L604.5 242.3L605.0 242.3L605.5 242.3L606.0 242.3L606.5 242.4L607.0 242.5L607.5 242.6L608.0 242.7L608.5 242.8L609.0 242.9L609.5 242.9L610.0 242.9L610.4 242.9L610.9 242.8L611.4 242.7L611.9 242.6L612.4 242.5L612.9 242.5L613.4 242.5L613.9 242.6L614.4 242.6L614.9 242.7L615.4 242.8L615.9 242.9L616.4 243.0L616.8 243.1L617.3 243.2L617.8 243.2L618.3 243.3L618.8 243.3L619.3 243.3L619.8 243.4L620.3 243.4L620.8 243.4L621.3 243.4L621.8 243.4L622.3 243.4L622.7 243.5L623.2 243.5L623.7 243.5L624.2 243.5L624.7 243.5L625.2 243.5L625.7 243.4L626.2 243.4L626.7 243.3L627.2 243.2L627.7 243.2L628.2 243.1L628.7 243.0L629.1 243.0L629.6 242.9L630.1 242.9L630.6 243.0L631.1 243.0L631.6 243.1L632.1 243.2L632.6 243.2L633.1 243.3L633.6 243.4L634.1 243.4L634.6 243.5L635.1 243.5L635.5 243.5L636.0 243.5L636.5 243.5L637.0 243.5L637.5 243.5L638.0 243.5L638.5 243.5L639.0 243.5L639.5 243.5L640.0 243.5L640.5 243.5L641.0 243.5L641.4 243.5L641.9 243.5L642.4 243.5L642.9 243.4L643.4 243.4L643.9 243.4L644.4 243.3L644.9 243.3L645.4 243.2L645.9 243.2L646.4 243.2L646.9 243.2L647.4 243.2L647.8 243.2L648.3 243.3L648.8 243.3L649.3 243.4L649.8 243.4L650.3 243.5L650.8 243.5L651.3 243.6L651.8 243.6L652.3 243.6L652.8 243.6L653.3 243.6L653.7 243.6L654.2 243.6L654.7 243.6L655.2 243.6L655.7 243.6L656.2 243.6L656.7 243.6L657.2 243.6L657.7 243.6L658.2 243.6L658.7 243.6L659.2 243.6L659.7 243.6L660.1 243.6L660.6 243.6L661.1 243.6L661.6 243.6L662.1 243.6L662.6 243.6L663.1 243.6L663.6 243.6L664.1 243.6L664.6 243.6L665.1 243.6L665.6 243.6L666.1 243.6L666.5 243.6L667.0 243.6L667.5 243.6L668.0 243.6L668.5 243.6L669.0 243.6L669.5 243.6L670.0 243.6L670.5 243.6L671.0 243.6L671.5 243.6L672.0 243.6L672.4 243.6L672.9 243.6L673.4 243.6L673.9 243.6L674.4 243.6L674.9 243.6L675.4 243.6L675.9 243.6L676.4 243.6L676.9 243.6L677.4 243.6L677.9 243.6L678.4 243.6L678.8 243.6L679.3 243.6L679.8 243.6L680.3 243.6L680.8 243.6L681.3 243.6L681.8 243.6L682.3 243.6" fill="none" stroke="#C44E52" stroke-width="0.5" stroke-opacity="0.85" stroke-linejoin="round"/>
</g>
<path d="M477.40 137.40V243.60H681.60V137.40" fill="none" stroke="#e2e2e2" stroke-width="1.1"/>
<path d="M477.40 137.40H681.60" fill="none" stroke="#ececec" stroke-width="1.1"/>
<text transform="translate(494.70 251.60) scale(0.900 1.070)" text-anchor="middle" class="tk">0</text>
<text transform="translate(528.50 251.60) scale(0.900 1.070)" text-anchor="middle" class="tk">2</text>
<text transform="translate(562.30 251.60) scale(0.900 1.070)" text-anchor="middle" class="tk">4</text>
<text transform="translate(596.10 251.60) scale(0.900 1.070)" text-anchor="middle" class="tk">6</text>
<text transform="translate(629.90 251.60) scale(0.900 1.070)" text-anchor="middle" class="tk">8</text>
<text transform="translate(663.70 251.60) scale(0.900 1.070)" text-anchor="middle" class="tk">10</text>
<text transform="translate(474.00 245.95) scale(0.900 1.070)" text-anchor="end" class="tk">0.0</text>
<text transform="translate(474.00 223.67) scale(0.900 1.070)" text-anchor="end" class="tk">0.2</text>
<text transform="translate(474.00 201.39) scale(0.900 1.070)" text-anchor="end" class="tk">0.4</text>
<text transform="translate(474.00 179.11) scale(0.900 1.070)" text-anchor="end" class="tk">0.6</text>
<text transform="translate(474.00 156.83) scale(0.900 1.070)" text-anchor="end" class="tk">0.8</text>
<text transform="translate(582.75 263.25) scale(1.020 1.190)" text-anchor="middle" class="lb">Aspect ratio</text>
<text transform="translate(463.70 191.60) rotate(-90) scale(1.120 1.000)" text-anchor="middle" class="yl">Density</text>
<text transform="translate(469.40 138.70) scale(1.000 1.120)" class="pl">f</text>
<rect x="641.30" y="141.30" width="35.90" height="46.90" rx="1.3" fill="#fff" fill-opacity="0.8" stroke="#d4d4d4" stroke-width="0.6"/>
<rect x="644.40" y="145.00" width="15.6" height="5.1" fill="#4C72B0" fill-opacity="0.40" stroke="#4C72B0" stroke-width="0.5" stroke-opacity="0.8"/>
<text transform="translate(666.10 150.45) scale(0.895 1.110)" class="lg">#1</text>
<rect x="644.40" y="156.15" width="15.6" height="5.1" fill="#DD8452" fill-opacity="0.40" stroke="#DD8452" stroke-width="0.5" stroke-opacity="0.8"/>
<text transform="translate(666.10 161.60) scale(0.895 1.110)" class="lg">#2</text>
<rect x="644.40" y="167.30" width="15.6" height="5.1" fill="#55A868" fill-opacity="0.40" stroke="#55A868" stroke-width="0.5" stroke-opacity="0.8"/>
<text transform="translate(666.10 172.75) scale(0.895 1.110)" class="lg">#3</text>
<rect x="644.40" y="178.45" width="15.6" height="5.1" fill="#C44E52" fill-opacity="0.40" stroke="#C44E52" stroke-width="0.5" stroke-opacity="0.8"/>
<text transform="translate(666.10 183.90) scale(0.895 1.110)" class="lg">#4</text>
</svg>
</body></html>
